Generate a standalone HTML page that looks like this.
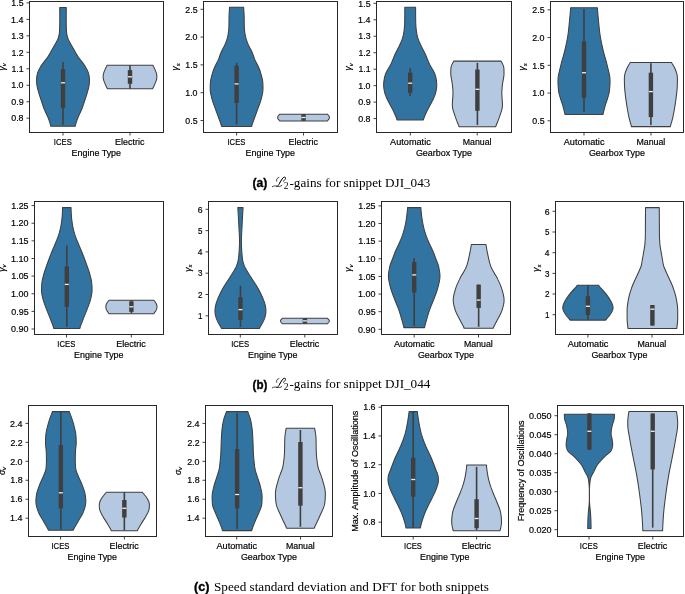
<!DOCTYPE html>
<html><head><meta charset="utf-8"><style>
html,body{margin:0;padding:0;background:#fff;width:685px;height:594px;overflow:hidden}
svg{display:block;will-change:transform}
text{stroke:#000;stroke-width:0.18px}
</style></head><body>
<svg width="685" height="594" viewBox="0 0 685 594" font-family="Liberation Sans, sans-serif" fill="#000"><path d="M66.29,7.50 L66.28,8.00 L66.28,8.50 L66.27,9.00 L66.26,9.51 L66.25,10.01 L66.25,10.51 L66.24,11.01 L66.23,11.51 L66.23,12.01 L66.22,12.51 L66.22,13.01 L66.22,13.52 L66.21,14.02 L66.21,14.52 L66.21,15.02 L66.21,15.52 L66.20,16.02 L66.20,16.52 L66.20,17.02 L66.20,17.53 L66.20,18.03 L66.20,18.53 L66.20,19.03 L66.20,19.53 L66.21,20.03 L66.21,20.53 L66.21,21.03 L66.22,21.54 L66.22,22.04 L66.23,22.54 L66.24,23.04 L66.25,23.54 L66.26,24.04 L66.27,24.54 L66.28,25.04 L66.29,25.55 L66.30,26.05 L66.31,26.55 L66.32,27.05 L66.34,27.55 L66.35,28.05 L66.36,28.55 L66.38,29.05 L66.40,29.56 L66.42,30.06 L66.44,30.56 L66.47,31.06 L66.50,31.56 L66.55,32.06 L66.59,32.56 L66.65,33.06 L66.72,33.57 L66.80,34.07 L66.89,34.57 L66.99,35.07 L67.10,35.57 L67.22,36.07 L67.35,36.57 L67.50,37.07 L67.65,37.58 L67.82,38.08 L68.00,38.58 L68.19,39.08 L68.40,39.58 L68.62,40.08 L68.86,40.58 L69.10,41.08 L69.36,41.59 L69.62,42.09 L69.89,42.59 L70.16,43.09 L70.44,43.59 L70.72,44.09 L71.00,44.59 L71.28,45.09 L71.57,45.60 L71.86,46.10 L72.15,46.60 L72.44,47.10 L72.73,47.60 L73.02,48.10 L73.31,48.60 L73.60,49.11 L73.89,49.61 L74.17,50.11 L74.45,50.61 L74.73,51.11 L75.01,51.61 L75.29,52.11 L75.57,52.61 L75.84,53.12 L76.12,53.62 L76.41,54.12 L76.70,54.62 L77.00,55.12 L77.31,55.62 L77.63,56.12 L77.96,56.62 L78.30,57.13 L78.66,57.63 L79.04,58.13 L79.42,58.63 L79.81,59.13 L80.21,59.63 L80.61,60.13 L81.01,60.63 L81.41,61.14 L81.80,61.64 L82.19,62.14 L82.57,62.64 L82.94,63.14 L83.30,63.64 L83.66,64.14 L84.01,64.64 L84.35,65.15 L84.68,65.65 L85.01,66.15 L85.33,66.65 L85.63,67.15 L85.93,67.65 L86.23,68.15 L86.51,68.65 L86.78,69.16 L87.04,69.66 L87.29,70.16 L87.52,70.66 L87.73,71.16 L87.93,71.66 L88.11,72.16 L88.27,72.66 L88.42,73.17 L88.56,73.67 L88.69,74.17 L88.81,74.67 L88.93,75.17 L89.03,75.67 L89.12,76.17 L89.21,76.67 L89.28,77.18 L89.33,77.68 L89.38,78.18 L89.41,78.68 L89.44,79.18 L89.44,79.68 L89.44,80.18 L89.43,80.68 L89.42,81.19 L89.39,81.69 L89.36,82.19 L89.33,82.69 L89.29,83.19 L89.24,83.69 L89.19,84.19 L89.13,84.69 L89.07,85.20 L89.00,85.70 L88.92,86.20 L88.83,86.70 L88.74,87.20 L88.63,87.70 L88.51,88.20 L88.39,88.71 L88.26,89.21 L88.12,89.71 L87.98,90.21 L87.84,90.71 L87.69,91.21 L87.55,91.71 L87.40,92.21 L87.25,92.72 L87.10,93.22 L86.95,93.72 L86.79,94.22 L86.63,94.72 L86.47,95.22 L86.31,95.72 L86.14,96.22 L85.98,96.73 L85.81,97.23 L85.64,97.73 L85.47,98.23 L85.30,98.73 L85.13,99.23 L84.96,99.73 L84.80,100.23 L84.63,100.74 L84.47,101.24 L84.30,101.74 L84.14,102.24 L83.98,102.74 L83.82,103.24 L83.65,103.74 L83.49,104.24 L83.33,104.75 L83.16,105.25 L82.99,105.75 L82.82,106.25 L82.65,106.75 L82.47,107.25 L82.29,107.75 L82.10,108.25 L81.91,108.76 L81.71,109.26 L81.50,109.76 L81.29,110.26 L81.07,110.76 L80.84,111.26 L80.62,111.76 L80.39,112.26 L80.15,112.77 L79.91,113.27 L79.68,113.77 L79.44,114.27 L79.21,114.77 L78.97,115.27 L78.74,115.77 L78.52,116.27 L78.30,116.78 L78.08,117.28 L77.88,117.78 L77.67,118.28 L77.48,118.78 L77.29,119.28 L77.10,119.78 L76.92,120.28 L76.75,120.79 L76.58,121.29 L76.41,121.79 L76.25,122.29 L76.09,122.79 L75.93,123.29 L75.79,123.79 L75.65,124.29 L75.52,124.80 L75.41,125.30 L75.31,125.80 L75.23,126.30 L50.77,126.30 L50.69,125.80 L50.59,125.30 L50.48,124.80 L50.35,124.29 L50.21,123.79 L50.07,123.29 L49.91,122.79 L49.75,122.29 L49.59,121.79 L49.42,121.29 L49.25,120.79 L49.08,120.28 L48.90,119.78 L48.71,119.28 L48.52,118.78 L48.33,118.28 L48.12,117.78 L47.92,117.28 L47.70,116.78 L47.48,116.27 L47.26,115.77 L47.03,115.27 L46.79,114.77 L46.56,114.27 L46.32,113.77 L46.09,113.27 L45.85,112.77 L45.61,112.26 L45.38,111.76 L45.16,111.26 L44.93,110.76 L44.71,110.26 L44.50,109.76 L44.29,109.26 L44.09,108.76 L43.90,108.25 L43.71,107.75 L43.53,107.25 L43.35,106.75 L43.18,106.25 L43.01,105.75 L42.84,105.25 L42.67,104.75 L42.51,104.24 L42.35,103.74 L42.18,103.24 L42.02,102.74 L41.86,102.24 L41.70,101.74 L41.53,101.24 L41.37,100.74 L41.20,100.23 L41.04,99.73 L40.87,99.23 L40.70,98.73 L40.53,98.23 L40.36,97.73 L40.19,97.23 L40.02,96.73 L39.86,96.22 L39.69,95.72 L39.53,95.22 L39.37,94.72 L39.21,94.22 L39.05,93.72 L38.90,93.22 L38.75,92.72 L38.60,92.21 L38.45,91.71 L38.31,91.21 L38.16,90.71 L38.02,90.21 L37.88,89.71 L37.74,89.21 L37.61,88.71 L37.49,88.20 L37.37,87.70 L37.26,87.20 L37.17,86.70 L37.08,86.20 L37.00,85.70 L36.93,85.20 L36.87,84.69 L36.81,84.19 L36.76,83.69 L36.71,83.19 L36.67,82.69 L36.64,82.19 L36.61,81.69 L36.58,81.19 L36.57,80.68 L36.56,80.18 L36.56,79.68 L36.56,79.18 L36.59,78.68 L36.62,78.18 L36.67,77.68 L36.72,77.18 L36.79,76.67 L36.88,76.17 L36.97,75.67 L37.07,75.17 L37.19,74.67 L37.31,74.17 L37.44,73.67 L37.58,73.17 L37.73,72.66 L37.89,72.16 L38.07,71.66 L38.27,71.16 L38.48,70.66 L38.71,70.16 L38.96,69.66 L39.22,69.16 L39.49,68.65 L39.77,68.15 L40.07,67.65 L40.37,67.15 L40.67,66.65 L40.99,66.15 L41.32,65.65 L41.65,65.15 L41.99,64.64 L42.34,64.14 L42.70,63.64 L43.06,63.14 L43.43,62.64 L43.81,62.14 L44.20,61.64 L44.59,61.14 L44.99,60.63 L45.39,60.13 L45.79,59.63 L46.19,59.13 L46.58,58.63 L46.96,58.13 L47.34,57.63 L47.70,57.13 L48.04,56.62 L48.37,56.12 L48.69,55.62 L49.00,55.12 L49.30,54.62 L49.59,54.12 L49.88,53.62 L50.16,53.12 L50.43,52.61 L50.71,52.11 L50.99,51.61 L51.27,51.11 L51.55,50.61 L51.83,50.11 L52.11,49.61 L52.40,49.11 L52.69,48.60 L52.98,48.10 L53.27,47.60 L53.56,47.10 L53.85,46.60 L54.14,46.10 L54.43,45.60 L54.72,45.09 L55.00,44.59 L55.28,44.09 L55.56,43.59 L55.84,43.09 L56.11,42.59 L56.38,42.09 L56.64,41.59 L56.90,41.08 L57.14,40.58 L57.38,40.08 L57.60,39.58 L57.81,39.08 L58.00,38.58 L58.18,38.08 L58.35,37.58 L58.50,37.07 L58.65,36.57 L58.78,36.07 L58.90,35.57 L59.01,35.07 L59.11,34.57 L59.20,34.07 L59.28,33.57 L59.35,33.06 L59.41,32.56 L59.45,32.06 L59.50,31.56 L59.53,31.06 L59.56,30.56 L59.58,30.06 L59.60,29.56 L59.62,29.05 L59.64,28.55 L59.65,28.05 L59.66,27.55 L59.68,27.05 L59.69,26.55 L59.70,26.05 L59.71,25.55 L59.72,25.04 L59.73,24.54 L59.74,24.04 L59.75,23.54 L59.76,23.04 L59.77,22.54 L59.78,22.04 L59.78,21.54 L59.79,21.03 L59.79,20.53 L59.79,20.03 L59.80,19.53 L59.80,19.03 L59.80,18.53 L59.80,18.03 L59.80,17.53 L59.80,17.02 L59.80,16.52 L59.80,16.02 L59.79,15.52 L59.79,15.02 L59.79,14.52 L59.79,14.02 L59.78,13.52 L59.78,13.01 L59.78,12.51 L59.77,12.01 L59.77,11.51 L59.76,11.01 L59.75,10.51 L59.75,10.01 L59.74,9.51 L59.73,9.00 L59.72,8.50 L59.72,8.00 L59.71,7.50Z" fill="#3274a1" stroke="#3f3f3f" stroke-width="1.05" stroke-linejoin="round"/>
<line x1="63.00" y1="62.10" x2="63.00" y2="125.00" stroke="#3f3f3f" stroke-width="1.6"/>
<rect x="60.80" y="69.20" width="4.4" height="38.60" fill="#3f3f3f"/>
<rect x="61.00" y="82.15" width="4.0" height="1.3" fill="#eeeeee"/>
<path d="M152.94,65.30 L153.13,65.81 L153.35,66.32 L153.60,66.83 L153.87,67.33 L154.13,67.84 L154.39,68.35 L154.65,68.86 L154.88,69.37 L155.11,69.88 L155.33,70.39 L155.53,70.90 L155.73,71.40 L155.92,71.91 L156.09,72.42 L156.25,72.93 L156.40,73.44 L156.53,73.95 L156.64,74.46 L156.73,74.97 L156.80,75.47 L156.84,75.98 L156.86,76.49 L156.86,77.00 L156.83,77.51 L156.78,78.02 L156.70,78.53 L156.60,79.03 L156.48,79.54 L156.34,80.05 L156.19,80.56 L156.02,81.07 L155.84,81.58 L155.65,82.09 L155.45,82.60 L155.25,83.10 L155.04,83.61 L154.81,84.12 L154.58,84.63 L154.34,85.14 L154.09,85.65 L153.84,86.16 L153.58,86.67 L153.33,87.17 L153.09,87.68 L152.88,88.19 L152.70,88.70 L107.30,88.70 L107.12,88.19 L106.91,87.68 L106.67,87.17 L106.42,86.67 L106.16,86.16 L105.91,85.65 L105.66,85.14 L105.42,84.63 L105.19,84.12 L104.96,83.61 L104.75,83.10 L104.55,82.60 L104.35,82.09 L104.16,81.58 L103.98,81.07 L103.81,80.56 L103.66,80.05 L103.52,79.54 L103.40,79.03 L103.30,78.53 L103.22,78.02 L103.17,77.51 L103.14,77.00 L103.14,76.49 L103.16,75.98 L103.20,75.47 L103.27,74.97 L103.36,74.46 L103.47,73.95 L103.60,73.44 L103.75,72.93 L103.91,72.42 L104.08,71.91 L104.27,71.40 L104.47,70.90 L104.67,70.39 L104.89,69.88 L105.12,69.37 L105.35,68.86 L105.61,68.35 L105.87,67.84 L106.13,67.33 L106.40,66.83 L106.65,66.32 L106.87,65.81 L107.06,65.30Z" fill="#b5c8e1" stroke="#3f3f3f" stroke-width="1.05" stroke-linejoin="round"/>
<line x1="130.00" y1="65.10" x2="130.00" y2="88.70" stroke="#3f3f3f" stroke-width="1.6"/>
<rect x="127.80" y="70.10" width="4.4" height="13.70" fill="#3f3f3f"/>
<rect x="128.00" y="76.15" width="4.0" height="1.3" fill="#eeeeee"/>
<rect x="29.5" y="1.5" width="134.0" height="131.0" fill="none" stroke="#1e1e1e" stroke-width="0.95"/>
<line x1="26.5" y1="2.9" x2="29.5" y2="2.9" stroke="#222" stroke-width="0.85"/>
<text x="11.39" y="6.10" textLength="12.18" lengthAdjust="spacingAndGlyphs" font-size="8.45">1.5</text>
<line x1="26.5" y1="19.37" x2="29.5" y2="19.37" stroke="#222" stroke-width="0.85"/>
<text x="11.13" y="22.57" textLength="12.33" lengthAdjust="spacingAndGlyphs" font-size="8.45">1.4</text>
<line x1="26.5" y1="35.84" x2="29.5" y2="35.84" stroke="#222" stroke-width="0.85"/>
<text x="11.32" y="39.04" textLength="12.26" lengthAdjust="spacingAndGlyphs" font-size="8.45">1.3</text>
<line x1="26.5" y1="52.31" x2="29.5" y2="52.31" stroke="#222" stroke-width="0.85"/>
<text x="11.49" y="55.51" textLength="12.15" lengthAdjust="spacingAndGlyphs" font-size="8.45">1.2</text>
<line x1="26.5" y1="68.78" x2="29.5" y2="68.78" stroke="#222" stroke-width="0.85"/>
<text x="11.43" y="71.98" textLength="12.20" lengthAdjust="spacingAndGlyphs" font-size="8.45">1.1</text>
<line x1="26.5" y1="85.25" x2="29.5" y2="85.25" stroke="#222" stroke-width="0.85"/>
<text x="11.21" y="88.45" textLength="12.34" lengthAdjust="spacingAndGlyphs" font-size="8.45">1.0</text>
<line x1="26.5" y1="101.72" x2="29.5" y2="101.72" stroke="#222" stroke-width="0.85"/>
<text x="11.22" y="104.92" textLength="12.40" lengthAdjust="spacingAndGlyphs" font-size="8.45">0.9</text>
<line x1="26.5" y1="118.19" x2="29.5" y2="118.19" stroke="#222" stroke-width="0.85"/>
<text x="11.20" y="121.39" textLength="12.38" lengthAdjust="spacingAndGlyphs" font-size="8.45">0.8</text>
<line x1="63" y1="132.5" x2="63" y2="135.5" stroke="#222" stroke-width="0.85"/>
<text x="53.87" y="144.70" textLength="17.91" lengthAdjust="spacingAndGlyphs" font-size="8.45">ICES</text>
<line x1="130" y1="132.5" x2="130" y2="135.5" stroke="#222" stroke-width="0.85"/>
<text x="115.08" y="144.70" textLength="29.33" lengthAdjust="spacingAndGlyphs" font-size="8.45">Electric</text>
<text x="71.59" y="155.60" textLength="49.49" lengthAdjust="spacingAndGlyphs" font-size="8.45">Engine Type</text>
<text transform="translate(4.50 66.80) rotate(-90)" font-size="8.6" font-style="italic" text-anchor="middle">γ<tspan font-size="6" dy="1.6">v</tspan></text>
<path d="M243.65,7.30 L243.67,7.80 L243.70,8.30 L243.73,8.81 L243.76,9.31 L243.80,9.81 L243.83,10.31 L243.87,10.81 L243.90,11.32 L243.93,11.82 L243.96,12.32 L243.99,12.82 L244.02,13.32 L244.04,13.82 L244.07,14.33 L244.09,14.83 L244.11,15.33 L244.12,15.83 L244.14,16.33 L244.15,16.84 L244.16,17.34 L244.17,17.84 L244.18,18.34 L244.19,18.84 L244.19,19.35 L244.20,19.85 L244.21,20.35 L244.21,20.85 L244.22,21.35 L244.22,21.85 L244.23,22.36 L244.23,22.86 L244.24,23.36 L244.24,23.86 L244.25,24.36 L244.26,24.87 L244.27,25.37 L244.28,25.87 L244.29,26.37 L244.30,26.87 L244.32,27.38 L244.34,27.88 L244.37,28.38 L244.41,28.88 L244.44,29.38 L244.49,29.89 L244.54,30.39 L244.59,30.89 L244.66,31.39 L244.72,31.89 L244.79,32.39 L244.87,32.90 L244.94,33.40 L245.03,33.90 L245.11,34.40 L245.20,34.90 L245.29,35.41 L245.39,35.91 L245.50,36.41 L245.61,36.91 L245.73,37.41 L245.86,37.92 L245.99,38.42 L246.14,38.92 L246.29,39.42 L246.45,39.92 L246.62,40.43 L246.79,40.93 L246.97,41.43 L247.15,41.93 L247.34,42.43 L247.54,42.93 L247.74,43.44 L247.95,43.94 L248.17,44.44 L248.40,44.94 L248.63,45.44 L248.88,45.95 L249.13,46.45 L249.39,46.95 L249.65,47.45 L249.92,47.95 L250.19,48.46 L250.46,48.96 L250.73,49.46 L250.99,49.96 L251.24,50.46 L251.49,50.96 L251.73,51.47 L251.96,51.97 L252.18,52.47 L252.38,52.97 L252.58,53.47 L252.77,53.98 L252.95,54.48 L253.13,54.98 L253.30,55.48 L253.47,55.98 L253.64,56.49 L253.81,56.99 L253.98,57.49 L254.16,57.99 L254.35,58.49 L254.55,59.00 L254.76,59.50 L254.99,60.00 L255.22,60.50 L255.47,61.00 L255.72,61.50 L255.98,62.01 L256.25,62.51 L256.51,63.01 L256.77,63.51 L257.02,64.01 L257.28,64.52 L257.52,65.02 L257.77,65.52 L258.00,66.02 L258.24,66.52 L258.47,67.03 L258.69,67.53 L258.91,68.03 L259.12,68.53 L259.33,69.03 L259.53,69.53 L259.72,70.04 L259.90,70.54 L260.07,71.04 L260.24,71.54 L260.40,72.04 L260.56,72.55 L260.71,73.05 L260.86,73.55 L261.01,74.05 L261.15,74.55 L261.29,75.06 L261.43,75.56 L261.57,76.06 L261.70,76.56 L261.83,77.06 L261.95,77.57 L262.07,78.07 L262.18,78.57 L262.29,79.07 L262.39,79.57 L262.48,80.07 L262.56,80.58 L262.63,81.08 L262.70,81.58 L262.75,82.08 L262.80,82.58 L262.84,83.09 L262.87,83.59 L262.89,84.09 L262.91,84.59 L262.93,85.09 L262.94,85.60 L262.96,86.10 L262.97,86.60 L262.97,87.10 L262.98,87.60 L262.98,88.11 L262.97,88.61 L262.97,89.11 L262.95,89.61 L262.93,90.11 L262.89,90.61 L262.85,91.12 L262.80,91.62 L262.73,92.12 L262.66,92.62 L262.57,93.12 L262.48,93.63 L262.38,94.13 L262.27,94.63 L262.16,95.13 L262.05,95.63 L261.93,96.14 L261.81,96.64 L261.68,97.14 L261.56,97.64 L261.43,98.14 L261.30,98.64 L261.17,99.15 L261.03,99.65 L260.89,100.15 L260.75,100.65 L260.59,101.15 L260.44,101.66 L260.28,102.16 L260.11,102.66 L259.94,103.16 L259.76,103.66 L259.58,104.17 L259.40,104.67 L259.21,105.17 L259.03,105.67 L258.84,106.17 L258.65,106.68 L258.46,107.18 L258.28,107.68 L258.09,108.18 L257.90,108.68 L257.72,109.18 L257.53,109.69 L257.35,110.19 L257.16,110.69 L256.98,111.19 L256.79,111.69 L256.61,112.20 L256.42,112.70 L256.23,113.20 L256.04,113.70 L255.85,114.20 L255.67,114.71 L255.48,115.21 L255.29,115.71 L255.10,116.21 L254.91,116.71 L254.73,117.21 L254.54,117.72 L254.35,118.22 L254.17,118.72 L253.99,119.22 L253.80,119.72 L253.62,120.23 L253.44,120.73 L253.26,121.23 L253.08,121.73 L252.90,122.23 L252.73,122.74 L252.55,123.24 L252.38,123.74 L252.21,124.24 L252.05,124.74 L251.91,125.25 L251.78,125.75 L251.67,126.25 L251.62,126.50 L221.58,126.50 L221.53,126.25 L221.42,125.75 L221.29,125.25 L221.15,124.74 L220.99,124.24 L220.82,123.74 L220.65,123.24 L220.47,122.74 L220.30,122.23 L220.12,121.73 L219.94,121.23 L219.76,120.73 L219.58,120.23 L219.40,119.72 L219.21,119.22 L219.03,118.72 L218.85,118.22 L218.66,117.72 L218.47,117.21 L218.29,116.71 L218.10,116.21 L217.91,115.71 L217.72,115.21 L217.53,114.71 L217.35,114.20 L217.16,113.70 L216.97,113.20 L216.78,112.70 L216.59,112.20 L216.41,111.69 L216.22,111.19 L216.04,110.69 L215.85,110.19 L215.67,109.69 L215.48,109.18 L215.30,108.68 L215.11,108.18 L214.92,107.68 L214.74,107.18 L214.55,106.68 L214.36,106.17 L214.17,105.67 L213.99,105.17 L213.80,104.67 L213.62,104.17 L213.44,103.66 L213.26,103.16 L213.09,102.66 L212.92,102.16 L212.76,101.66 L212.61,101.15 L212.45,100.65 L212.31,100.15 L212.17,99.65 L212.03,99.15 L211.90,98.64 L211.77,98.14 L211.64,97.64 L211.52,97.14 L211.39,96.64 L211.27,96.14 L211.15,95.63 L211.04,95.13 L210.93,94.63 L210.82,94.13 L210.72,93.63 L210.63,93.12 L210.54,92.62 L210.47,92.12 L210.40,91.62 L210.35,91.12 L210.31,90.61 L210.27,90.11 L210.25,89.61 L210.23,89.11 L210.23,88.61 L210.22,88.11 L210.22,87.60 L210.23,87.10 L210.23,86.60 L210.24,86.10 L210.26,85.60 L210.27,85.09 L210.29,84.59 L210.31,84.09 L210.33,83.59 L210.36,83.09 L210.40,82.58 L210.45,82.08 L210.50,81.58 L210.57,81.08 L210.64,80.58 L210.72,80.07 L210.81,79.57 L210.91,79.07 L211.02,78.57 L211.13,78.07 L211.25,77.57 L211.37,77.06 L211.50,76.56 L211.63,76.06 L211.77,75.56 L211.91,75.06 L212.05,74.55 L212.19,74.05 L212.34,73.55 L212.49,73.05 L212.64,72.55 L212.80,72.04 L212.96,71.54 L213.13,71.04 L213.30,70.54 L213.48,70.04 L213.67,69.53 L213.87,69.03 L214.08,68.53 L214.29,68.03 L214.51,67.53 L214.73,67.03 L214.96,66.52 L215.20,66.02 L215.43,65.52 L215.68,65.02 L215.92,64.52 L216.18,64.01 L216.43,63.51 L216.69,63.01 L216.95,62.51 L217.22,62.01 L217.48,61.50 L217.73,61.00 L217.98,60.50 L218.21,60.00 L218.44,59.50 L218.65,59.00 L218.85,58.49 L219.04,57.99 L219.22,57.49 L219.39,56.99 L219.56,56.49 L219.73,55.98 L219.90,55.48 L220.07,54.98 L220.25,54.48 L220.43,53.98 L220.62,53.47 L220.82,52.97 L221.02,52.47 L221.24,51.97 L221.47,51.47 L221.71,50.96 L221.96,50.46 L222.21,49.96 L222.47,49.46 L222.74,48.96 L223.01,48.46 L223.28,47.95 L223.55,47.45 L223.81,46.95 L224.07,46.45 L224.32,45.95 L224.57,45.44 L224.80,44.94 L225.03,44.44 L225.25,43.94 L225.46,43.44 L225.66,42.93 L225.86,42.43 L226.05,41.93 L226.23,41.43 L226.41,40.93 L226.58,40.43 L226.75,39.92 L226.91,39.42 L227.06,38.92 L227.21,38.42 L227.34,37.92 L227.47,37.41 L227.59,36.91 L227.70,36.41 L227.81,35.91 L227.91,35.41 L228.00,34.90 L228.09,34.40 L228.17,33.90 L228.26,33.40 L228.33,32.90 L228.41,32.39 L228.48,31.89 L228.54,31.39 L228.61,30.89 L228.66,30.39 L228.71,29.89 L228.76,29.38 L228.79,28.88 L228.83,28.38 L228.86,27.88 L228.88,27.38 L228.90,26.87 L228.91,26.37 L228.92,25.87 L228.93,25.37 L228.94,24.87 L228.95,24.36 L228.96,23.86 L228.96,23.36 L228.97,22.86 L228.97,22.36 L228.98,21.85 L228.98,21.35 L228.99,20.85 L228.99,20.35 L229.00,19.85 L229.01,19.35 L229.01,18.84 L229.02,18.34 L229.03,17.84 L229.04,17.34 L229.05,16.84 L229.06,16.33 L229.08,15.83 L229.09,15.33 L229.11,14.83 L229.13,14.33 L229.16,13.82 L229.18,13.32 L229.21,12.82 L229.24,12.32 L229.27,11.82 L229.30,11.32 L229.33,10.81 L229.37,10.31 L229.40,9.81 L229.44,9.31 L229.47,8.81 L229.50,8.30 L229.53,7.80 L229.55,7.30Z" fill="#3274a1" stroke="#3f3f3f" stroke-width="1.05" stroke-linejoin="round"/>
<line x1="236.60" y1="62.90" x2="236.60" y2="124.50" stroke="#3f3f3f" stroke-width="1.6"/>
<rect x="234.40" y="65.70" width="4.4" height="37.30" fill="#3f3f3f"/>
<rect x="234.60" y="83.25" width="4.0" height="1.3" fill="#eeeeee"/>
<path d="M327.48,114.20 L327.89,114.72 L328.32,115.25 L328.74,115.77 L329.09,116.29 L329.33,116.82 L329.45,117.34 L329.43,117.86 L329.27,118.38 L329.00,118.91 L328.63,119.43 L328.21,119.95 L327.79,120.48 L327.40,121.00 L279.70,121.00 L279.31,120.48 L278.89,119.95 L278.47,119.43 L278.10,118.91 L277.83,118.38 L277.67,117.86 L277.65,117.34 L277.77,116.82 L278.01,116.29 L278.36,115.77 L278.78,115.25 L279.21,114.72 L279.62,114.20Z" fill="#b5c8e1" stroke="#3f3f3f" stroke-width="1.05" stroke-linejoin="round"/>
<line x1="303.55" y1="114.20" x2="303.55" y2="120.80" stroke="#3f3f3f" stroke-width="1.6"/>
<rect x="301.35" y="114.20" width="4.4" height="6.60" fill="#3f3f3f"/>
<rect x="301.55" y="116.85" width="4.0" height="1.3" fill="#eeeeee"/>
<rect x="203.5" y="1.5" width="134.0" height="131.0" fill="none" stroke="#1e1e1e" stroke-width="0.95"/>
<line x1="200.5" y1="9.3" x2="203.5" y2="9.3" stroke="#222" stroke-width="0.85"/>
<text x="185.32" y="12.50" textLength="12.25" lengthAdjust="spacingAndGlyphs" font-size="8.45">2.5</text>
<line x1="200.5" y1="37.1" x2="203.5" y2="37.1" stroke="#222" stroke-width="0.85"/>
<text x="185.15" y="40.30" textLength="12.40" lengthAdjust="spacingAndGlyphs" font-size="8.45">2.0</text>
<line x1="200.5" y1="64.9" x2="203.5" y2="64.9" stroke="#222" stroke-width="0.85"/>
<text x="185.39" y="68.10" textLength="12.18" lengthAdjust="spacingAndGlyphs" font-size="8.45">1.5</text>
<line x1="200.5" y1="92.7" x2="203.5" y2="92.7" stroke="#222" stroke-width="0.85"/>
<text x="185.21" y="95.90" textLength="12.34" lengthAdjust="spacingAndGlyphs" font-size="8.45">1.0</text>
<line x1="200.5" y1="120.5" x2="203.5" y2="120.5" stroke="#222" stroke-width="0.85"/>
<text x="185.36" y="123.70" textLength="12.21" lengthAdjust="spacingAndGlyphs" font-size="8.45">0.5</text>
<line x1="236.6" y1="132.5" x2="236.6" y2="135.5" stroke="#222" stroke-width="0.85"/>
<text x="227.47" y="144.70" textLength="17.91" lengthAdjust="spacingAndGlyphs" font-size="8.45">ICES</text>
<line x1="303.5" y1="132.5" x2="303.5" y2="135.5" stroke="#222" stroke-width="0.85"/>
<text x="288.58" y="144.70" textLength="29.33" lengthAdjust="spacingAndGlyphs" font-size="8.45">Electric</text>
<text x="245.59" y="155.60" textLength="49.49" lengthAdjust="spacingAndGlyphs" font-size="8.45">Engine Type</text>
<text transform="translate(178.30 66.80) rotate(-90)" font-size="8.6" font-style="italic" text-anchor="middle">γ<tspan font-size="6" dy="1.6">s</tspan></text>
<path d="M415.60,7.30 L415.60,7.80 L415.60,8.30 L415.60,8.81 L415.60,9.31 L415.60,9.81 L415.61,10.31 L415.61,10.81 L415.61,11.32 L415.61,11.82 L415.61,12.32 L415.62,12.82 L415.62,13.32 L415.62,13.83 L415.62,14.33 L415.63,14.83 L415.63,15.33 L415.64,15.83 L415.64,16.34 L415.64,16.84 L415.65,17.34 L415.65,17.84 L415.66,18.34 L415.66,18.85 L415.67,19.35 L415.68,19.85 L415.68,20.35 L415.69,20.85 L415.70,21.36 L415.71,21.86 L415.72,22.36 L415.74,22.86 L415.75,23.36 L415.78,23.87 L415.80,24.37 L415.83,24.87 L415.86,25.37 L415.89,25.87 L415.92,26.38 L415.96,26.88 L416.00,27.38 L416.04,27.88 L416.09,28.38 L416.14,28.89 L416.19,29.39 L416.24,29.89 L416.30,30.39 L416.36,30.89 L416.43,31.40 L416.50,31.90 L416.58,32.40 L416.66,32.90 L416.75,33.40 L416.85,33.91 L416.95,34.41 L417.06,34.91 L417.17,35.41 L417.29,35.91 L417.42,36.42 L417.55,36.92 L417.69,37.42 L417.83,37.92 L417.98,38.42 L418.15,38.93 L418.32,39.43 L418.50,39.93 L418.69,40.43 L418.89,40.93 L419.09,41.44 L419.31,41.94 L419.53,42.44 L419.76,42.94 L419.99,43.44 L420.23,43.95 L420.47,44.45 L420.71,44.95 L420.95,45.45 L421.19,45.95 L421.43,46.46 L421.68,46.96 L421.93,47.46 L422.18,47.96 L422.44,48.46 L422.70,48.97 L422.96,49.47 L423.22,49.97 L423.49,50.47 L423.75,50.97 L424.01,51.48 L424.26,51.98 L424.51,52.48 L424.76,52.98 L425.00,53.48 L425.24,53.99 L425.47,54.49 L425.69,54.99 L425.90,55.49 L426.11,55.99 L426.32,56.50 L426.52,57.00 L426.72,57.50 L426.91,58.00 L427.11,58.50 L427.31,59.01 L427.52,59.51 L427.72,60.01 L427.93,60.51 L428.15,61.01 L428.36,61.52 L428.58,62.02 L428.81,62.52 L429.03,63.02 L429.27,63.52 L429.51,64.03 L429.76,64.53 L430.01,65.03 L430.28,65.53 L430.55,66.03 L430.83,66.54 L431.12,67.04 L431.42,67.54 L431.72,68.04 L432.02,68.54 L432.31,69.05 L432.61,69.55 L432.89,70.05 L433.17,70.55 L433.44,71.05 L433.70,71.56 L433.95,72.06 L434.19,72.56 L434.42,73.06 L434.65,73.56 L434.85,74.07 L435.05,74.57 L435.23,75.07 L435.39,75.57 L435.54,76.07 L435.67,76.58 L435.79,77.08 L435.90,77.58 L436.00,78.08 L436.09,78.58 L436.18,79.09 L436.26,79.59 L436.34,80.09 L436.41,80.59 L436.48,81.09 L436.54,81.60 L436.59,82.10 L436.64,82.60 L436.68,83.10 L436.71,83.60 L436.73,84.11 L436.74,84.61 L436.74,85.11 L436.74,85.61 L436.72,86.11 L436.69,86.62 L436.65,87.12 L436.60,87.62 L436.54,88.12 L436.47,88.62 L436.40,89.13 L436.31,89.63 L436.23,90.13 L436.13,90.63 L436.03,91.13 L435.92,91.64 L435.81,92.14 L435.69,92.64 L435.56,93.14 L435.42,93.64 L435.26,94.15 L435.10,94.65 L434.92,95.15 L434.73,95.65 L434.53,96.15 L434.31,96.66 L434.09,97.16 L433.86,97.66 L433.63,98.16 L433.39,98.66 L433.14,99.17 L432.90,99.67 L432.65,100.17 L432.40,100.67 L432.15,101.17 L431.90,101.68 L431.65,102.18 L431.39,102.68 L431.13,103.18 L430.86,103.68 L430.59,104.19 L430.32,104.69 L430.05,105.19 L429.77,105.69 L429.49,106.19 L429.22,106.70 L428.94,107.20 L428.67,107.70 L428.40,108.20 L428.14,108.70 L427.88,109.21 L427.62,109.71 L427.37,110.21 L427.12,110.71 L426.88,111.21 L426.64,111.72 L426.41,112.22 L426.18,112.72 L425.95,113.22 L425.72,113.72 L425.50,114.23 L425.28,114.73 L425.06,115.23 L424.84,115.73 L424.63,116.23 L424.42,116.74 L424.22,117.24 L424.02,117.74 L423.84,118.24 L423.67,118.74 L423.53,119.25 L423.40,119.75 L423.35,120.00 L397.05,120.00 L397.00,119.75 L396.87,119.25 L396.73,118.74 L396.56,118.24 L396.38,117.74 L396.18,117.24 L395.98,116.74 L395.77,116.23 L395.56,115.73 L395.34,115.23 L395.12,114.73 L394.90,114.23 L394.68,113.72 L394.45,113.22 L394.22,112.72 L393.99,112.22 L393.76,111.72 L393.52,111.21 L393.28,110.71 L393.03,110.21 L392.78,109.71 L392.52,109.21 L392.26,108.70 L392.00,108.20 L391.73,107.70 L391.46,107.20 L391.18,106.70 L390.91,106.19 L390.63,105.69 L390.35,105.19 L390.08,104.69 L389.81,104.19 L389.54,103.68 L389.27,103.18 L389.01,102.68 L388.75,102.18 L388.50,101.68 L388.25,101.17 L388.00,100.67 L387.75,100.17 L387.50,99.67 L387.26,99.17 L387.01,98.66 L386.77,98.16 L386.54,97.66 L386.31,97.16 L386.09,96.66 L385.87,96.15 L385.67,95.65 L385.48,95.15 L385.30,94.65 L385.14,94.15 L384.98,93.64 L384.84,93.14 L384.71,92.64 L384.59,92.14 L384.48,91.64 L384.37,91.13 L384.27,90.63 L384.17,90.13 L384.09,89.63 L384.00,89.13 L383.93,88.62 L383.86,88.12 L383.80,87.62 L383.75,87.12 L383.71,86.62 L383.68,86.11 L383.66,85.61 L383.66,85.11 L383.66,84.61 L383.67,84.11 L383.69,83.60 L383.72,83.10 L383.76,82.60 L383.81,82.10 L383.86,81.60 L383.92,81.09 L383.99,80.59 L384.06,80.09 L384.14,79.59 L384.22,79.09 L384.31,78.58 L384.40,78.08 L384.50,77.58 L384.61,77.08 L384.73,76.58 L384.86,76.07 L385.01,75.57 L385.17,75.07 L385.35,74.57 L385.55,74.07 L385.75,73.56 L385.98,73.06 L386.21,72.56 L386.45,72.06 L386.70,71.56 L386.96,71.05 L387.23,70.55 L387.51,70.05 L387.79,69.55 L388.09,69.05 L388.38,68.54 L388.68,68.04 L388.98,67.54 L389.28,67.04 L389.57,66.54 L389.85,66.03 L390.12,65.53 L390.39,65.03 L390.64,64.53 L390.89,64.03 L391.13,63.52 L391.37,63.02 L391.59,62.52 L391.82,62.02 L392.04,61.52 L392.25,61.01 L392.47,60.51 L392.68,60.01 L392.88,59.51 L393.09,59.01 L393.29,58.50 L393.49,58.00 L393.68,57.50 L393.88,57.00 L394.08,56.50 L394.29,55.99 L394.50,55.49 L394.71,54.99 L394.93,54.49 L395.16,53.99 L395.40,53.48 L395.64,52.98 L395.89,52.48 L396.14,51.98 L396.39,51.48 L396.65,50.97 L396.91,50.47 L397.18,49.97 L397.44,49.47 L397.70,48.97 L397.96,48.46 L398.22,47.96 L398.47,47.46 L398.72,46.96 L398.97,46.46 L399.21,45.95 L399.45,45.45 L399.69,44.95 L399.93,44.45 L400.17,43.95 L400.41,43.44 L400.64,42.94 L400.87,42.44 L401.09,41.94 L401.31,41.44 L401.51,40.93 L401.71,40.43 L401.90,39.93 L402.08,39.43 L402.25,38.93 L402.42,38.42 L402.57,37.92 L402.71,37.42 L402.85,36.92 L402.98,36.42 L403.11,35.91 L403.23,35.41 L403.34,34.91 L403.45,34.41 L403.55,33.91 L403.65,33.40 L403.74,32.90 L403.82,32.40 L403.90,31.90 L403.97,31.40 L404.04,30.89 L404.10,30.39 L404.16,29.89 L404.21,29.39 L404.26,28.89 L404.31,28.38 L404.36,27.88 L404.40,27.38 L404.44,26.88 L404.48,26.38 L404.51,25.87 L404.54,25.37 L404.57,24.87 L404.60,24.37 L404.62,23.87 L404.65,23.36 L404.66,22.86 L404.68,22.36 L404.69,21.86 L404.70,21.36 L404.71,20.85 L404.72,20.35 L404.72,19.85 L404.73,19.35 L404.74,18.85 L404.74,18.34 L404.75,17.84 L404.75,17.34 L404.76,16.84 L404.76,16.34 L404.76,15.83 L404.77,15.33 L404.77,14.83 L404.78,14.33 L404.78,13.83 L404.78,13.32 L404.78,12.82 L404.79,12.32 L404.79,11.82 L404.79,11.32 L404.79,10.81 L404.79,10.31 L404.80,9.81 L404.80,9.31 L404.80,8.81 L404.80,8.30 L404.80,7.80 L404.80,7.30Z" fill="#3274a1" stroke="#3f3f3f" stroke-width="1.05" stroke-linejoin="round"/>
<line x1="410.20" y1="68.20" x2="410.20" y2="95.90" stroke="#3f3f3f" stroke-width="1.6"/>
<rect x="408.00" y="72.60" width="4.4" height="20.20" fill="#3f3f3f"/>
<rect x="408.20" y="82.55" width="4.0" height="1.3" fill="#eeeeee"/>
<path d="M501.14,61.10 L501.33,61.60 L501.56,62.11 L501.81,62.61 L502.08,63.11 L502.35,63.61 L502.61,64.12 L502.86,64.62 L503.09,65.12 L503.28,65.62 L503.45,66.13 L503.59,66.63 L503.70,67.13 L503.79,67.63 L503.85,68.14 L503.90,68.64 L503.94,69.14 L503.96,69.65 L503.98,70.15 L504.00,70.65 L504.01,71.15 L504.02,71.66 L504.02,72.16 L504.03,72.66 L504.02,73.16 L504.01,73.67 L504.00,74.17 L503.97,74.67 L503.94,75.18 L503.89,75.68 L503.84,76.18 L503.77,76.68 L503.70,77.19 L503.62,77.69 L503.53,78.19 L503.44,78.69 L503.35,79.20 L503.25,79.70 L503.15,80.20 L503.06,80.70 L502.96,81.21 L502.87,81.71 L502.79,82.21 L502.71,82.72 L502.63,83.22 L502.56,83.72 L502.50,84.22 L502.43,84.73 L502.38,85.23 L502.32,85.73 L502.27,86.23 L502.21,86.74 L502.16,87.24 L502.11,87.74 L502.07,88.24 L502.02,88.75 L501.98,89.25 L501.95,89.75 L501.92,90.26 L501.89,90.76 L501.87,91.26 L501.85,91.76 L501.84,92.27 L501.83,92.77 L501.83,93.27 L501.84,93.77 L501.85,94.28 L501.87,94.78 L501.89,95.28 L501.91,95.79 L501.94,96.29 L501.97,96.79 L502.01,97.29 L502.04,97.80 L502.08,98.30 L502.12,98.80 L502.16,99.30 L502.20,99.81 L502.24,100.31 L502.27,100.81 L502.31,101.31 L502.34,101.82 L502.37,102.32 L502.40,102.82 L502.42,103.33 L502.44,103.83 L502.45,104.33 L502.45,104.83 L502.44,105.34 L502.42,105.84 L502.38,106.34 L502.34,106.84 L502.27,107.35 L502.20,107.85 L502.10,108.35 L502.00,108.85 L501.88,109.36 L501.75,109.86 L501.61,110.36 L501.46,110.87 L501.30,111.37 L501.14,111.87 L500.98,112.37 L500.81,112.88 L500.64,113.38 L500.48,113.88 L500.31,114.38 L500.14,114.89 L499.97,115.39 L499.80,115.89 L499.64,116.40 L499.47,116.90 L499.29,117.40 L499.12,117.90 L498.94,118.41 L498.76,118.91 L498.57,119.41 L498.38,119.91 L498.19,120.42 L497.99,120.92 L497.79,121.42 L497.59,121.92 L497.38,122.43 L497.17,122.93 L496.96,123.43 L496.75,123.94 L496.54,124.44 L496.34,124.94 L496.16,125.44 L495.99,125.95 L495.85,126.45 L495.79,126.70 L459.01,126.70 L458.95,126.45 L458.81,125.95 L458.64,125.44 L458.46,124.94 L458.26,124.44 L458.05,123.94 L457.84,123.43 L457.63,122.93 L457.42,122.43 L457.21,121.92 L457.01,121.42 L456.81,120.92 L456.61,120.42 L456.42,119.91 L456.23,119.41 L456.04,118.91 L455.86,118.41 L455.68,117.90 L455.51,117.40 L455.33,116.90 L455.16,116.40 L455.00,115.89 L454.83,115.39 L454.66,114.89 L454.49,114.38 L454.32,113.88 L454.16,113.38 L453.99,112.88 L453.82,112.37 L453.66,111.87 L453.50,111.37 L453.34,110.87 L453.19,110.36 L453.05,109.86 L452.92,109.36 L452.80,108.85 L452.70,108.35 L452.60,107.85 L452.53,107.35 L452.46,106.84 L452.42,106.34 L452.38,105.84 L452.36,105.34 L452.35,104.83 L452.35,104.33 L452.36,103.83 L452.38,103.33 L452.40,102.82 L452.43,102.32 L452.46,101.82 L452.49,101.31 L452.53,100.81 L452.56,100.31 L452.60,99.81 L452.64,99.30 L452.68,98.80 L452.72,98.30 L452.76,97.80 L452.79,97.29 L452.83,96.79 L452.86,96.29 L452.89,95.79 L452.91,95.28 L452.93,94.78 L452.95,94.28 L452.96,93.77 L452.97,93.27 L452.97,92.77 L452.96,92.27 L452.95,91.76 L452.93,91.26 L452.91,90.76 L452.88,90.26 L452.85,89.75 L452.82,89.25 L452.78,88.75 L452.73,88.24 L452.69,87.74 L452.64,87.24 L452.59,86.74 L452.53,86.23 L452.48,85.73 L452.42,85.23 L452.37,84.73 L452.30,84.22 L452.24,83.72 L452.17,83.22 L452.09,82.72 L452.01,82.21 L451.93,81.71 L451.84,81.21 L451.74,80.70 L451.65,80.20 L451.55,79.70 L451.45,79.20 L451.36,78.69 L451.27,78.19 L451.18,77.69 L451.10,77.19 L451.03,76.68 L450.96,76.18 L450.91,75.68 L450.86,75.18 L450.83,74.67 L450.80,74.17 L450.79,73.67 L450.78,73.16 L450.77,72.66 L450.78,72.16 L450.78,71.66 L450.79,71.15 L450.80,70.65 L450.82,70.15 L450.84,69.65 L450.86,69.14 L450.90,68.64 L450.95,68.14 L451.01,67.63 L451.10,67.13 L451.21,66.63 L451.35,66.13 L451.52,65.62 L451.71,65.12 L451.94,64.62 L452.19,64.12 L452.45,63.61 L452.72,63.11 L452.99,62.61 L453.24,62.11 L453.47,61.60 L453.66,61.10Z" fill="#b5c8e1" stroke="#3f3f3f" stroke-width="1.05" stroke-linejoin="round"/>
<line x1="477.40" y1="62.80" x2="477.40" y2="125.00" stroke="#3f3f3f" stroke-width="1.6"/>
<rect x="475.20" y="69.50" width="4.4" height="41.30" fill="#3f3f3f"/>
<rect x="475.40" y="88.65" width="4.0" height="1.3" fill="#eeeeee"/>
<rect x="376.5" y="1.5" width="135.0" height="131.0" fill="none" stroke="#1e1e1e" stroke-width="0.95"/>
<line x1="373.5" y1="3.3" x2="376.5" y2="3.3" stroke="#222" stroke-width="0.85"/>
<text x="358.39" y="6.50" textLength="12.18" lengthAdjust="spacingAndGlyphs" font-size="8.45">1.5</text>
<line x1="373.5" y1="19.77" x2="376.5" y2="19.77" stroke="#222" stroke-width="0.85"/>
<text x="358.13" y="22.97" textLength="12.33" lengthAdjust="spacingAndGlyphs" font-size="8.45">1.4</text>
<line x1="373.5" y1="36.24" x2="376.5" y2="36.24" stroke="#222" stroke-width="0.85"/>
<text x="358.32" y="39.44" textLength="12.26" lengthAdjust="spacingAndGlyphs" font-size="8.45">1.3</text>
<line x1="373.5" y1="52.71" x2="376.5" y2="52.71" stroke="#222" stroke-width="0.85"/>
<text x="358.49" y="55.91" textLength="12.15" lengthAdjust="spacingAndGlyphs" font-size="8.45">1.2</text>
<line x1="373.5" y1="69.18" x2="376.5" y2="69.18" stroke="#222" stroke-width="0.85"/>
<text x="358.43" y="72.38" textLength="12.20" lengthAdjust="spacingAndGlyphs" font-size="8.45">1.1</text>
<line x1="373.5" y1="85.65" x2="376.5" y2="85.65" stroke="#222" stroke-width="0.85"/>
<text x="358.21" y="88.85" textLength="12.34" lengthAdjust="spacingAndGlyphs" font-size="8.45">1.0</text>
<line x1="373.5" y1="102.12" x2="376.5" y2="102.12" stroke="#222" stroke-width="0.85"/>
<text x="358.22" y="105.32" textLength="12.40" lengthAdjust="spacingAndGlyphs" font-size="8.45">0.9</text>
<line x1="373.5" y1="118.59" x2="376.5" y2="118.59" stroke="#222" stroke-width="0.85"/>
<text x="358.20" y="121.79" textLength="12.38" lengthAdjust="spacingAndGlyphs" font-size="8.45">0.8</text>
<line x1="410.3" y1="132.5" x2="410.3" y2="135.5" stroke="#222" stroke-width="0.85"/>
<text x="390.05" y="144.70" textLength="40.73" lengthAdjust="spacingAndGlyphs" font-size="8.45">Automatic</text>
<line x1="477.2" y1="132.5" x2="477.2" y2="135.5" stroke="#222" stroke-width="0.85"/>
<text x="462.71" y="144.70" textLength="28.84" lengthAdjust="spacingAndGlyphs" font-size="8.45">Manual</text>
<text x="415.90" y="155.60" textLength="56.15" lengthAdjust="spacingAndGlyphs" font-size="8.45">Gearbox Type</text>
<text transform="translate(351.30 66.80) rotate(-90)" font-size="8.6" font-style="italic" text-anchor="middle">γ<tspan font-size="6" dy="1.6">v</tspan></text>
<path d="M597.36,7.70 L597.38,8.20 L597.41,8.70 L597.44,9.20 L597.48,9.71 L597.52,10.21 L597.56,10.71 L597.61,11.21 L597.65,11.71 L597.70,12.21 L597.74,12.71 L597.79,13.22 L597.83,13.72 L597.88,14.22 L597.93,14.72 L597.97,15.22 L598.02,15.72 L598.07,16.22 L598.12,16.73 L598.16,17.23 L598.21,17.73 L598.26,18.23 L598.31,18.73 L598.36,19.23 L598.40,19.73 L598.45,20.24 L598.50,20.74 L598.55,21.24 L598.60,21.74 L598.65,22.24 L598.69,22.74 L598.74,23.24 L598.79,23.75 L598.84,24.25 L598.89,24.75 L598.94,25.25 L598.98,25.75 L599.03,26.25 L599.08,26.75 L599.13,27.25 L599.19,27.76 L599.24,28.26 L599.29,28.76 L599.34,29.26 L599.40,29.76 L599.46,30.26 L599.51,30.76 L599.57,31.27 L599.63,31.77 L599.69,32.27 L599.76,32.77 L599.82,33.27 L599.89,33.77 L599.96,34.27 L600.03,34.78 L600.10,35.28 L600.18,35.78 L600.26,36.28 L600.34,36.78 L600.42,37.28 L600.51,37.78 L600.60,38.29 L600.69,38.79 L600.78,39.29 L600.87,39.79 L600.97,40.29 L601.07,40.79 L601.17,41.29 L601.27,41.80 L601.37,42.30 L601.48,42.80 L601.58,43.30 L601.69,43.80 L601.80,44.30 L601.91,44.80 L602.02,45.31 L602.13,45.81 L602.24,46.31 L602.36,46.81 L602.47,47.31 L602.58,47.81 L602.70,48.31 L602.81,48.82 L602.93,49.32 L603.05,49.82 L603.17,50.32 L603.29,50.82 L603.41,51.32 L603.54,51.82 L603.66,52.33 L603.79,52.83 L603.93,53.33 L604.06,53.83 L604.20,54.33 L604.34,54.83 L604.48,55.33 L604.62,55.84 L604.76,56.34 L604.91,56.84 L605.05,57.34 L605.20,57.84 L605.34,58.34 L605.48,58.84 L605.63,59.35 L605.77,59.85 L605.91,60.35 L606.04,60.85 L606.18,61.35 L606.31,61.85 L606.44,62.35 L606.57,62.85 L606.69,63.36 L606.82,63.86 L606.94,64.36 L607.06,64.86 L607.18,65.36 L607.30,65.86 L607.42,66.36 L607.55,66.87 L607.67,67.37 L607.79,67.87 L607.92,68.37 L608.04,68.87 L608.17,69.37 L608.30,69.87 L608.42,70.38 L608.54,70.88 L608.66,71.38 L608.78,71.88 L608.90,72.38 L609.01,72.88 L609.12,73.38 L609.22,73.89 L609.32,74.39 L609.42,74.89 L609.51,75.39 L609.59,75.89 L609.67,76.39 L609.74,76.89 L609.80,77.40 L609.85,77.90 L609.90,78.40 L609.94,78.90 L609.97,79.40 L609.99,79.90 L610.01,80.40 L610.02,80.91 L610.02,81.41 L610.02,81.91 L610.01,82.41 L609.99,82.91 L609.98,83.41 L609.96,83.91 L609.93,84.42 L609.91,84.92 L609.88,85.42 L609.85,85.92 L609.81,86.42 L609.78,86.92 L609.74,87.42 L609.70,87.93 L609.66,88.43 L609.61,88.93 L609.57,89.43 L609.51,89.93 L609.46,90.43 L609.40,90.93 L609.33,91.44 L609.26,91.94 L609.17,92.44 L609.08,92.94 L608.98,93.44 L608.86,93.94 L608.74,94.44 L608.61,94.95 L608.48,95.45 L608.33,95.95 L608.18,96.45 L608.03,96.95 L607.87,97.45 L607.71,97.95 L607.54,98.45 L607.37,98.96 L607.20,99.46 L607.03,99.96 L606.86,100.46 L606.69,100.96 L606.52,101.46 L606.35,101.96 L606.19,102.47 L606.03,102.97 L605.87,103.47 L605.72,103.97 L605.57,104.47 L605.43,104.97 L605.28,105.47 L605.14,105.98 L605.00,106.48 L604.87,106.98 L604.73,107.48 L604.60,107.98 L604.47,108.48 L604.33,108.98 L604.20,109.49 L604.07,109.99 L603.94,110.49 L603.81,110.99 L603.68,111.49 L603.56,111.99 L603.44,112.49 L603.32,113.00 L603.22,113.50 L603.14,114.00 L603.06,114.50 L564.94,114.50 L564.86,114.00 L564.78,113.50 L564.68,113.00 L564.56,112.49 L564.44,111.99 L564.32,111.49 L564.19,110.99 L564.06,110.49 L563.93,109.99 L563.80,109.49 L563.67,108.98 L563.53,108.48 L563.40,107.98 L563.27,107.48 L563.13,106.98 L563.00,106.48 L562.86,105.98 L562.72,105.47 L562.57,104.97 L562.43,104.47 L562.28,103.97 L562.13,103.47 L561.97,102.97 L561.81,102.47 L561.65,101.96 L561.48,101.46 L561.31,100.96 L561.14,100.46 L560.97,99.96 L560.80,99.46 L560.63,98.96 L560.46,98.45 L560.29,97.95 L560.13,97.45 L559.97,96.95 L559.82,96.45 L559.67,95.95 L559.52,95.45 L559.39,94.95 L559.26,94.44 L559.14,93.94 L559.02,93.44 L558.92,92.94 L558.83,92.44 L558.74,91.94 L558.67,91.44 L558.60,90.93 L558.54,90.43 L558.49,89.93 L558.43,89.43 L558.39,88.93 L558.34,88.43 L558.30,87.93 L558.26,87.42 L558.22,86.92 L558.19,86.42 L558.15,85.92 L558.12,85.42 L558.09,84.92 L558.07,84.42 L558.04,83.91 L558.02,83.41 L558.01,82.91 L557.99,82.41 L557.98,81.91 L557.98,81.41 L557.98,80.91 L557.99,80.40 L558.01,79.90 L558.03,79.40 L558.06,78.90 L558.10,78.40 L558.15,77.90 L558.20,77.40 L558.26,76.89 L558.33,76.39 L558.41,75.89 L558.49,75.39 L558.58,74.89 L558.68,74.39 L558.78,73.89 L558.88,73.38 L558.99,72.88 L559.10,72.38 L559.22,71.88 L559.34,71.38 L559.46,70.88 L559.58,70.38 L559.70,69.87 L559.83,69.37 L559.96,68.87 L560.08,68.37 L560.21,67.87 L560.33,67.37 L560.45,66.87 L560.58,66.36 L560.70,65.86 L560.82,65.36 L560.94,64.86 L561.06,64.36 L561.18,63.86 L561.31,63.36 L561.43,62.85 L561.56,62.35 L561.69,61.85 L561.82,61.35 L561.96,60.85 L562.09,60.35 L562.23,59.85 L562.37,59.35 L562.52,58.84 L562.66,58.34 L562.80,57.84 L562.95,57.34 L563.09,56.84 L563.24,56.34 L563.38,55.84 L563.52,55.33 L563.66,54.83 L563.80,54.33 L563.94,53.83 L564.07,53.33 L564.21,52.83 L564.34,52.33 L564.46,51.82 L564.59,51.32 L564.71,50.82 L564.83,50.32 L564.95,49.82 L565.07,49.32 L565.19,48.82 L565.30,48.31 L565.42,47.81 L565.53,47.31 L565.64,46.81 L565.76,46.31 L565.87,45.81 L565.98,45.31 L566.09,44.80 L566.20,44.30 L566.31,43.80 L566.42,43.30 L566.52,42.80 L566.63,42.30 L566.73,41.80 L566.83,41.29 L566.93,40.79 L567.03,40.29 L567.13,39.79 L567.22,39.29 L567.31,38.79 L567.40,38.29 L567.49,37.78 L567.58,37.28 L567.66,36.78 L567.74,36.28 L567.82,35.78 L567.90,35.28 L567.97,34.78 L568.04,34.27 L568.11,33.77 L568.18,33.27 L568.24,32.77 L568.31,32.27 L568.37,31.77 L568.43,31.27 L568.49,30.76 L568.54,30.26 L568.60,29.76 L568.66,29.26 L568.71,28.76 L568.76,28.26 L568.81,27.76 L568.87,27.25 L568.92,26.75 L568.97,26.25 L569.02,25.75 L569.06,25.25 L569.11,24.75 L569.16,24.25 L569.21,23.75 L569.26,23.24 L569.31,22.74 L569.35,22.24 L569.40,21.74 L569.45,21.24 L569.50,20.74 L569.55,20.24 L569.60,19.73 L569.64,19.23 L569.69,18.73 L569.74,18.23 L569.79,17.73 L569.84,17.23 L569.88,16.73 L569.93,16.22 L569.98,15.72 L570.03,15.22 L570.07,14.72 L570.12,14.22 L570.17,13.72 L570.21,13.22 L570.26,12.71 L570.30,12.21 L570.35,11.71 L570.39,11.21 L570.44,10.71 L570.48,10.21 L570.52,9.71 L570.56,9.20 L570.59,8.70 L570.62,8.20 L570.64,7.70Z" fill="#3274a1" stroke="#3f3f3f" stroke-width="1.05" stroke-linejoin="round"/>
<line x1="584.00" y1="9.10" x2="584.00" y2="112.00" stroke="#3f3f3f" stroke-width="1.6"/>
<rect x="581.80" y="41.40" width="4.4" height="56.50" fill="#3f3f3f"/>
<rect x="582.00" y="72.05" width="4.0" height="1.3" fill="#eeeeee"/>
<path d="M671.68,62.40 L671.89,62.90 L672.14,63.41 L672.42,63.91 L672.72,64.41 L673.03,64.92 L673.34,65.42 L673.64,65.92 L673.92,66.43 L674.19,66.93 L674.44,67.44 L674.68,67.94 L674.91,68.44 L675.13,68.95 L675.34,69.45 L675.54,69.95 L675.73,70.46 L675.92,70.96 L676.10,71.46 L676.27,71.97 L676.44,72.47 L676.59,72.97 L676.73,73.48 L676.86,73.98 L676.98,74.48 L677.09,74.99 L677.17,75.49 L677.25,76.00 L677.31,76.50 L677.35,77.00 L677.39,77.51 L677.41,78.01 L677.42,78.51 L677.43,79.02 L677.43,79.52 L677.42,80.02 L677.42,80.53 L677.41,81.03 L677.40,81.53 L677.39,82.04 L677.38,82.54 L677.36,83.04 L677.35,83.55 L677.33,84.05 L677.32,84.56 L677.30,85.06 L677.28,85.56 L677.26,86.07 L677.24,86.57 L677.21,87.07 L677.19,87.58 L677.15,88.08 L677.12,88.58 L677.08,89.09 L677.04,89.59 L677.00,90.09 L676.95,90.60 L676.90,91.10 L676.85,91.60 L676.79,92.11 L676.74,92.61 L676.68,93.12 L676.62,93.62 L676.56,94.12 L676.50,94.63 L676.44,95.13 L676.38,95.63 L676.32,96.14 L676.26,96.64 L676.19,97.14 L676.13,97.65 L676.07,98.15 L676.00,98.65 L675.94,99.16 L675.87,99.66 L675.80,100.16 L675.73,100.67 L675.66,101.17 L675.59,101.68 L675.51,102.18 L675.44,102.68 L675.36,103.19 L675.29,103.69 L675.21,104.19 L675.13,104.70 L675.05,105.20 L674.97,105.70 L674.89,106.21 L674.81,106.71 L674.73,107.21 L674.64,107.72 L674.56,108.22 L674.47,108.72 L674.39,109.23 L674.30,109.73 L674.21,110.24 L674.13,110.74 L674.04,111.24 L673.94,111.75 L673.85,112.25 L673.76,112.75 L673.66,113.26 L673.57,113.76 L673.47,114.26 L673.36,114.77 L673.26,115.27 L673.16,115.77 L673.05,116.28 L672.94,116.78 L672.82,117.28 L672.71,117.79 L672.59,118.29 L672.46,118.80 L672.34,119.30 L672.21,119.80 L672.07,120.31 L671.94,120.81 L671.80,121.31 L671.65,121.82 L671.51,122.32 L671.36,122.82 L671.21,123.33 L671.05,123.83 L670.91,124.33 L670.76,124.84 L670.63,125.34 L670.51,125.84 L670.41,126.35 L670.36,126.60 L631.44,126.60 L631.39,126.35 L631.29,125.84 L631.17,125.34 L631.04,124.84 L630.89,124.33 L630.75,123.83 L630.59,123.33 L630.44,122.82 L630.29,122.32 L630.15,121.82 L630.00,121.31 L629.86,120.81 L629.73,120.31 L629.59,119.80 L629.46,119.30 L629.34,118.80 L629.21,118.29 L629.09,117.79 L628.98,117.28 L628.86,116.78 L628.75,116.28 L628.64,115.77 L628.54,115.27 L628.44,114.77 L628.33,114.26 L628.23,113.76 L628.14,113.26 L628.04,112.75 L627.95,112.25 L627.86,111.75 L627.76,111.24 L627.67,110.74 L627.59,110.24 L627.50,109.73 L627.41,109.23 L627.33,108.72 L627.24,108.22 L627.16,107.72 L627.07,107.21 L626.99,106.71 L626.91,106.21 L626.83,105.70 L626.75,105.20 L626.67,104.70 L626.59,104.19 L626.51,103.69 L626.44,103.19 L626.36,102.68 L626.29,102.18 L626.21,101.68 L626.14,101.17 L626.07,100.67 L626.00,100.16 L625.93,99.66 L625.86,99.16 L625.80,98.65 L625.73,98.15 L625.67,97.65 L625.61,97.14 L625.54,96.64 L625.48,96.14 L625.42,95.63 L625.36,95.13 L625.30,94.63 L625.24,94.12 L625.18,93.62 L625.12,93.12 L625.06,92.61 L625.01,92.11 L624.95,91.60 L624.90,91.10 L624.85,90.60 L624.80,90.09 L624.76,89.59 L624.72,89.09 L624.68,88.58 L624.65,88.08 L624.61,87.58 L624.59,87.07 L624.56,86.57 L624.54,86.07 L624.52,85.56 L624.50,85.06 L624.48,84.56 L624.47,84.05 L624.45,83.55 L624.44,83.04 L624.42,82.54 L624.41,82.04 L624.40,81.53 L624.39,81.03 L624.38,80.53 L624.38,80.02 L624.37,79.52 L624.37,79.02 L624.38,78.51 L624.39,78.01 L624.41,77.51 L624.45,77.00 L624.49,76.50 L624.55,76.00 L624.63,75.49 L624.71,74.99 L624.82,74.48 L624.94,73.98 L625.07,73.48 L625.21,72.97 L625.36,72.47 L625.53,71.97 L625.70,71.46 L625.88,70.96 L626.07,70.46 L626.26,69.95 L626.46,69.45 L626.67,68.95 L626.89,68.44 L627.12,67.94 L627.36,67.44 L627.61,66.93 L627.88,66.43 L628.16,65.92 L628.46,65.42 L628.77,64.92 L629.08,64.41 L629.38,63.91 L629.66,63.41 L629.91,62.90 L630.12,62.40Z" fill="#b5c8e1" stroke="#3f3f3f" stroke-width="1.05" stroke-linejoin="round"/>
<line x1="650.90" y1="63.20" x2="650.90" y2="125.00" stroke="#3f3f3f" stroke-width="1.6"/>
<rect x="648.70" y="72.70" width="4.4" height="44.40" fill="#3f3f3f"/>
<rect x="648.90" y="90.95" width="4.0" height="1.3" fill="#eeeeee"/>
<rect x="550.5" y="1.5" width="133.0" height="131.0" fill="none" stroke="#1e1e1e" stroke-width="0.95"/>
<line x1="547.5" y1="9.8" x2="550.5" y2="9.8" stroke="#222" stroke-width="0.85"/>
<text x="532.32" y="13.00" textLength="12.25" lengthAdjust="spacingAndGlyphs" font-size="8.45">2.5</text>
<line x1="547.5" y1="37.55" x2="550.5" y2="37.55" stroke="#222" stroke-width="0.85"/>
<text x="532.15" y="40.75" textLength="12.40" lengthAdjust="spacingAndGlyphs" font-size="8.45">2.0</text>
<line x1="547.5" y1="65.3" x2="550.5" y2="65.3" stroke="#222" stroke-width="0.85"/>
<text x="532.39" y="68.50" textLength="12.18" lengthAdjust="spacingAndGlyphs" font-size="8.45">1.5</text>
<line x1="547.5" y1="93.05" x2="550.5" y2="93.05" stroke="#222" stroke-width="0.85"/>
<text x="532.21" y="96.25" textLength="12.34" lengthAdjust="spacingAndGlyphs" font-size="8.45">1.0</text>
<line x1="547.5" y1="120.8" x2="550.5" y2="120.8" stroke="#222" stroke-width="0.85"/>
<text x="532.36" y="124.00" textLength="12.21" lengthAdjust="spacingAndGlyphs" font-size="8.45">0.5</text>
<line x1="584" y1="132.5" x2="584" y2="135.5" stroke="#222" stroke-width="0.85"/>
<text x="563.75" y="144.70" textLength="40.73" lengthAdjust="spacingAndGlyphs" font-size="8.45">Automatic</text>
<line x1="651" y1="132.5" x2="651" y2="135.5" stroke="#222" stroke-width="0.85"/>
<text x="636.51" y="144.70" textLength="28.84" lengthAdjust="spacingAndGlyphs" font-size="8.45">Manual</text>
<text x="588.90" y="155.60" textLength="56.15" lengthAdjust="spacingAndGlyphs" font-size="8.45">Gearbox Type</text>
<text transform="translate(525.00 66.80) rotate(-90)" font-size="8.6" font-style="italic" text-anchor="middle">γ<tspan font-size="6" dy="1.6">s</tspan></text>
<path d="M71.06,207.60 L71.06,208.10 L71.07,208.60 L71.08,209.10 L71.09,209.60 L71.10,210.11 L71.12,210.61 L71.14,211.11 L71.16,211.61 L71.18,212.11 L71.20,212.61 L71.23,213.11 L71.26,213.61 L71.29,214.12 L71.31,214.62 L71.35,215.12 L71.38,215.62 L71.41,216.12 L71.45,216.62 L71.49,217.12 L71.54,217.62 L71.58,218.13 L71.63,218.63 L71.69,219.13 L71.75,219.63 L71.81,220.13 L71.87,220.63 L71.94,221.13 L72.01,221.63 L72.08,222.14 L72.15,222.64 L72.23,223.14 L72.31,223.64 L72.39,224.14 L72.47,224.64 L72.56,225.14 L72.64,225.64 L72.74,226.15 L72.83,226.65 L72.93,227.15 L73.03,227.65 L73.14,228.15 L73.25,228.65 L73.36,229.15 L73.48,229.65 L73.60,230.16 L73.72,230.66 L73.85,231.16 L73.98,231.66 L74.12,232.16 L74.26,232.66 L74.40,233.16 L74.55,233.66 L74.70,234.17 L74.86,234.67 L75.02,235.17 L75.19,235.67 L75.36,236.17 L75.54,236.67 L75.73,237.17 L75.92,237.67 L76.11,238.18 L76.30,238.68 L76.50,239.18 L76.70,239.68 L76.90,240.18 L77.11,240.68 L77.31,241.18 L77.51,241.68 L77.72,242.19 L77.92,242.69 L78.13,243.19 L78.34,243.69 L78.55,244.19 L78.76,244.69 L78.97,245.19 L79.19,245.69 L79.40,246.20 L79.62,246.70 L79.84,247.20 L80.05,247.70 L80.27,248.20 L80.49,248.70 L80.70,249.20 L80.91,249.70 L81.12,250.21 L81.33,250.71 L81.53,251.21 L81.74,251.71 L81.94,252.21 L82.14,252.71 L82.34,253.21 L82.54,253.71 L82.73,254.22 L82.93,254.72 L83.12,255.22 L83.32,255.72 L83.51,256.22 L83.70,256.72 L83.89,257.22 L84.08,257.72 L84.27,258.23 L84.46,258.73 L84.65,259.23 L84.83,259.73 L85.02,260.23 L85.20,260.73 L85.38,261.23 L85.56,261.73 L85.74,262.24 L85.92,262.74 L86.10,263.24 L86.28,263.74 L86.46,264.24 L86.63,264.74 L86.81,265.24 L86.99,265.74 L87.17,266.25 L87.34,266.75 L87.52,267.25 L87.70,267.75 L87.87,268.25 L88.05,268.75 L88.23,269.25 L88.40,269.75 L88.57,270.26 L88.74,270.76 L88.90,271.26 L89.06,271.76 L89.22,272.26 L89.37,272.76 L89.52,273.26 L89.67,273.76 L89.81,274.27 L89.96,274.77 L90.09,275.27 L90.23,275.77 L90.37,276.27 L90.50,276.77 L90.63,277.27 L90.76,277.77 L90.89,278.28 L91.01,278.78 L91.12,279.28 L91.23,279.78 L91.33,280.28 L91.42,280.78 L91.50,281.28 L91.57,281.78 L91.64,282.29 L91.69,282.79 L91.74,283.29 L91.79,283.79 L91.83,284.29 L91.86,284.79 L91.90,285.29 L91.93,285.79 L91.95,286.30 L91.98,286.80 L92.00,287.30 L92.02,287.80 L92.04,288.30 L92.05,288.80 L92.06,289.30 L92.06,289.80 L92.06,290.31 L92.05,290.81 L92.03,291.31 L92.00,291.81 L91.96,292.31 L91.91,292.81 L91.85,293.31 L91.77,293.81 L91.69,294.32 L91.60,294.82 L91.50,295.32 L91.39,295.82 L91.28,296.32 L91.16,296.82 L91.05,297.32 L90.93,297.82 L90.80,298.33 L90.68,298.83 L90.55,299.33 L90.41,299.83 L90.27,300.33 L90.13,300.83 L89.98,301.33 L89.82,301.83 L89.66,302.34 L89.49,302.84 L89.32,303.34 L89.14,303.84 L88.97,304.34 L88.79,304.84 L88.60,305.34 L88.42,305.84 L88.24,306.35 L88.05,306.85 L87.86,307.35 L87.67,307.85 L87.49,308.35 L87.29,308.85 L87.10,309.35 L86.91,309.85 L86.71,310.36 L86.51,310.86 L86.31,311.36 L86.10,311.86 L85.90,312.36 L85.69,312.86 L85.49,313.36 L85.28,313.86 L85.08,314.37 L84.87,314.87 L84.67,315.37 L84.47,315.87 L84.27,316.37 L84.07,316.87 L83.87,317.37 L83.67,317.87 L83.48,318.38 L83.28,318.88 L83.09,319.38 L82.89,319.88 L82.70,320.38 L82.50,320.88 L82.31,321.38 L82.12,321.88 L81.93,322.39 L81.73,322.89 L81.54,323.39 L81.35,323.89 L81.16,324.39 L80.97,324.89 L80.79,325.39 L80.61,325.89 L80.43,326.40 L80.27,326.90 L80.12,327.40 L79.99,327.90 L79.89,328.40 L53.71,328.40 L53.61,327.90 L53.48,327.40 L53.33,326.90 L53.17,326.40 L52.99,325.89 L52.81,325.39 L52.63,324.89 L52.44,324.39 L52.25,323.89 L52.06,323.39 L51.87,322.89 L51.67,322.39 L51.48,321.88 L51.29,321.38 L51.10,320.88 L50.90,320.38 L50.71,319.88 L50.51,319.38 L50.32,318.88 L50.12,318.38 L49.93,317.87 L49.73,317.37 L49.53,316.87 L49.33,316.37 L49.13,315.87 L48.93,315.37 L48.73,314.87 L48.52,314.37 L48.32,313.86 L48.11,313.36 L47.91,312.86 L47.70,312.36 L47.50,311.86 L47.29,311.36 L47.09,310.86 L46.89,310.36 L46.69,309.85 L46.50,309.35 L46.31,308.85 L46.11,308.35 L45.93,307.85 L45.74,307.35 L45.55,306.85 L45.36,306.35 L45.18,305.84 L45.00,305.34 L44.81,304.84 L44.63,304.34 L44.46,303.84 L44.28,303.34 L44.11,302.84 L43.94,302.34 L43.78,301.83 L43.62,301.33 L43.47,300.83 L43.33,300.33 L43.19,299.83 L43.05,299.33 L42.92,298.83 L42.80,298.33 L42.67,297.82 L42.55,297.32 L42.44,296.82 L42.32,296.32 L42.21,295.82 L42.10,295.32 L42.00,294.82 L41.91,294.32 L41.83,293.81 L41.75,293.31 L41.69,292.81 L41.64,292.31 L41.60,291.81 L41.57,291.31 L41.55,290.81 L41.54,290.31 L41.54,289.80 L41.54,289.30 L41.55,288.80 L41.56,288.30 L41.58,287.80 L41.60,287.30 L41.62,286.80 L41.65,286.30 L41.67,285.79 L41.70,285.29 L41.74,284.79 L41.77,284.29 L41.81,283.79 L41.86,283.29 L41.91,282.79 L41.96,282.29 L42.03,281.78 L42.10,281.28 L42.18,280.78 L42.27,280.28 L42.37,279.78 L42.48,279.28 L42.59,278.78 L42.71,278.28 L42.84,277.77 L42.97,277.27 L43.10,276.77 L43.23,276.27 L43.37,275.77 L43.51,275.27 L43.64,274.77 L43.79,274.27 L43.93,273.76 L44.08,273.26 L44.23,272.76 L44.38,272.26 L44.54,271.76 L44.70,271.26 L44.86,270.76 L45.03,270.26 L45.20,269.75 L45.37,269.25 L45.55,268.75 L45.73,268.25 L45.90,267.75 L46.08,267.25 L46.26,266.75 L46.43,266.25 L46.61,265.74 L46.79,265.24 L46.97,264.74 L47.14,264.24 L47.32,263.74 L47.50,263.24 L47.68,262.74 L47.86,262.24 L48.04,261.73 L48.22,261.23 L48.40,260.73 L48.58,260.23 L48.77,259.73 L48.95,259.23 L49.14,258.73 L49.33,258.23 L49.52,257.72 L49.71,257.22 L49.90,256.72 L50.09,256.22 L50.28,255.72 L50.48,255.22 L50.67,254.72 L50.87,254.22 L51.06,253.71 L51.26,253.21 L51.46,252.71 L51.66,252.21 L51.86,251.71 L52.07,251.21 L52.27,250.71 L52.48,250.21 L52.69,249.70 L52.90,249.20 L53.11,248.70 L53.33,248.20 L53.55,247.70 L53.76,247.20 L53.98,246.70 L54.20,246.20 L54.41,245.69 L54.63,245.19 L54.84,244.69 L55.05,244.19 L55.26,243.69 L55.47,243.19 L55.68,242.69 L55.88,242.19 L56.09,241.68 L56.29,241.18 L56.49,240.68 L56.70,240.18 L56.90,239.68 L57.10,239.18 L57.30,238.68 L57.49,238.18 L57.68,237.67 L57.87,237.17 L58.06,236.67 L58.24,236.17 L58.41,235.67 L58.58,235.17 L58.74,234.67 L58.90,234.17 L59.05,233.66 L59.20,233.16 L59.34,232.66 L59.48,232.16 L59.62,231.66 L59.75,231.16 L59.88,230.66 L60.00,230.16 L60.12,229.65 L60.24,229.15 L60.35,228.65 L60.46,228.15 L60.57,227.65 L60.67,227.15 L60.77,226.65 L60.86,226.15 L60.96,225.64 L61.04,225.14 L61.13,224.64 L61.21,224.14 L61.29,223.64 L61.37,223.14 L61.45,222.64 L61.52,222.14 L61.59,221.63 L61.66,221.13 L61.73,220.63 L61.79,220.13 L61.85,219.63 L61.91,219.13 L61.97,218.63 L62.02,218.13 L62.06,217.62 L62.11,217.12 L62.15,216.62 L62.19,216.12 L62.22,215.62 L62.25,215.12 L62.29,214.62 L62.31,214.12 L62.34,213.61 L62.37,213.11 L62.40,212.61 L62.42,212.11 L62.44,211.61 L62.46,211.11 L62.48,210.61 L62.50,210.11 L62.51,209.60 L62.52,209.10 L62.53,208.60 L62.54,208.10 L62.54,207.60Z" fill="#3274a1" stroke="#3f3f3f" stroke-width="1.05" stroke-linejoin="round"/>
<line x1="66.80" y1="245.60" x2="66.80" y2="326.80" stroke="#3f3f3f" stroke-width="1.6"/>
<rect x="64.60" y="266.40" width="4.4" height="40.50" fill="#3f3f3f"/>
<rect x="64.80" y="283.75" width="4.0" height="1.3" fill="#eeeeee"/>
<path d="M153.92,300.20 L154.24,300.71 L154.61,301.22 L154.99,301.73 L155.36,302.24 L155.71,302.75 L156.01,303.26 L156.27,303.77 L156.49,304.28 L156.66,304.78 L156.79,305.29 L156.88,305.80 L156.93,306.31 L156.95,306.82 L156.92,307.33 L156.86,307.84 L156.76,308.35 L156.63,308.86 L156.45,309.37 L156.24,309.88 L155.98,310.39 L155.69,310.90 L155.36,311.41 L155.01,311.92 L154.64,312.43 L154.29,312.94 L153.97,313.45 L153.83,313.70 L108.97,313.70 L108.83,313.45 L108.51,312.94 L108.16,312.43 L107.79,311.92 L107.44,311.41 L107.11,310.90 L106.82,310.39 L106.56,309.88 L106.35,309.37 L106.17,308.86 L106.04,308.35 L105.94,307.84 L105.88,307.33 L105.85,306.82 L105.87,306.31 L105.92,305.80 L106.01,305.29 L106.14,304.78 L106.31,304.28 L106.53,303.77 L106.79,303.26 L107.09,302.75 L107.44,302.24 L107.81,301.73 L108.19,301.22 L108.56,300.71 L108.88,300.20Z" fill="#b5c8e1" stroke="#3f3f3f" stroke-width="1.05" stroke-linejoin="round"/>
<line x1="131.40" y1="300.20" x2="131.40" y2="313.50" stroke="#3f3f3f" stroke-width="1.6"/>
<rect x="129.20" y="301.30" width="4.4" height="10.60" fill="#3f3f3f"/>
<rect x="129.40" y="306.15" width="4.0" height="1.3" fill="#eeeeee"/>
<rect x="34.5" y="201.5" width="129.0" height="133.0" fill="none" stroke="#1e1e1e" stroke-width="0.95"/>
<line x1="31.5" y1="205.6" x2="34.5" y2="205.6" stroke="#222" stroke-width="0.85"/>
<text x="11.29" y="208.80" textLength="17.28" lengthAdjust="spacingAndGlyphs" font-size="8.45">1.25</text>
<line x1="31.5" y1="223.23" x2="34.5" y2="223.23" stroke="#222" stroke-width="0.85"/>
<text x="11.12" y="226.43" textLength="17.43" lengthAdjust="spacingAndGlyphs" font-size="8.45">1.20</text>
<line x1="31.5" y1="240.86" x2="34.5" y2="240.86" stroke="#222" stroke-width="0.85"/>
<text x="11.29" y="244.06" textLength="17.28" lengthAdjust="spacingAndGlyphs" font-size="8.45">1.15</text>
<line x1="31.5" y1="258.49" x2="34.5" y2="258.49" stroke="#222" stroke-width="0.85"/>
<text x="11.12" y="261.69" textLength="17.43" lengthAdjust="spacingAndGlyphs" font-size="8.45">1.10</text>
<line x1="31.5" y1="276.12" x2="34.5" y2="276.12" stroke="#222" stroke-width="0.85"/>
<text x="11.29" y="279.32" textLength="17.28" lengthAdjust="spacingAndGlyphs" font-size="8.45">1.05</text>
<line x1="31.5" y1="293.75" x2="34.5" y2="293.75" stroke="#222" stroke-width="0.85"/>
<text x="11.12" y="296.95" textLength="17.43" lengthAdjust="spacingAndGlyphs" font-size="8.45">1.00</text>
<line x1="31.5" y1="311.38" x2="34.5" y2="311.38" stroke="#222" stroke-width="0.85"/>
<text x="11.27" y="314.58" textLength="17.31" lengthAdjust="spacingAndGlyphs" font-size="8.45">0.95</text>
<line x1="31.5" y1="329.01" x2="34.5" y2="329.01" stroke="#222" stroke-width="0.85"/>
<text x="11.10" y="332.21" textLength="17.45" lengthAdjust="spacingAndGlyphs" font-size="8.45">0.90</text>
<line x1="66.5" y1="334.5" x2="66.5" y2="337.5" stroke="#222" stroke-width="0.85"/>
<text x="57.37" y="346.70" textLength="17.91" lengthAdjust="spacingAndGlyphs" font-size="8.45">ICES</text>
<line x1="131.3" y1="334.5" x2="131.3" y2="337.5" stroke="#222" stroke-width="0.85"/>
<text x="116.38" y="346.70" textLength="29.33" lengthAdjust="spacingAndGlyphs" font-size="8.45">Electric</text>
<text x="74.09" y="357.60" textLength="49.49" lengthAdjust="spacingAndGlyphs" font-size="8.45">Engine Type</text>
<text transform="translate(4.50 268.20) rotate(-90)" font-size="8.6" font-style="italic" text-anchor="middle">γ<tspan font-size="6" dy="1.6">v</tspan></text>
<path d="M243.05,207.60 L243.04,208.10 L243.01,208.60 L242.98,209.10 L242.95,209.60 L242.92,210.11 L242.89,210.61 L242.86,211.11 L242.82,211.61 L242.79,212.11 L242.76,212.61 L242.73,213.11 L242.70,213.61 L242.67,214.12 L242.63,214.62 L242.61,215.12 L242.58,215.62 L242.55,216.12 L242.52,216.62 L242.49,217.12 L242.46,217.62 L242.44,218.13 L242.41,218.63 L242.39,219.13 L242.36,219.63 L242.34,220.13 L242.31,220.63 L242.29,221.13 L242.26,221.63 L242.24,222.14 L242.22,222.64 L242.19,223.14 L242.17,223.64 L242.14,224.14 L242.12,224.64 L242.10,225.14 L242.07,225.64 L242.04,226.15 L242.02,226.65 L241.99,227.15 L241.96,227.65 L241.94,228.15 L241.91,228.65 L241.88,229.15 L241.85,229.65 L241.82,230.16 L241.79,230.66 L241.76,231.16 L241.74,231.66 L241.71,232.16 L241.68,232.66 L241.66,233.16 L241.63,233.66 L241.61,234.17 L241.59,234.67 L241.56,235.17 L241.54,235.67 L241.52,236.17 L241.50,236.67 L241.48,237.17 L241.46,237.67 L241.44,238.18 L241.43,238.68 L241.41,239.18 L241.40,239.68 L241.39,240.18 L241.38,240.68 L241.37,241.18 L241.37,241.68 L241.37,242.19 L241.37,242.69 L241.38,243.19 L241.39,243.69 L241.41,244.19 L241.42,244.69 L241.44,245.19 L241.47,245.69 L241.49,246.20 L241.51,246.70 L241.54,247.20 L241.56,247.70 L241.59,248.20 L241.62,248.70 L241.65,249.20 L241.68,249.70 L241.71,250.21 L241.74,250.71 L241.77,251.21 L241.80,251.71 L241.84,252.21 L241.87,252.71 L241.91,253.21 L241.95,253.71 L241.99,254.22 L242.04,254.72 L242.08,255.22 L242.13,255.72 L242.18,256.22 L242.23,256.72 L242.29,257.22 L242.35,257.72 L242.42,258.23 L242.49,258.73 L242.56,259.23 L242.64,259.73 L242.73,260.23 L242.82,260.73 L242.92,261.23 L243.03,261.73 L243.15,262.24 L243.28,262.74 L243.42,263.24 L243.57,263.74 L243.73,264.24 L243.90,264.74 L244.08,265.24 L244.28,265.74 L244.49,266.25 L244.72,266.75 L244.96,267.25 L245.22,267.75 L245.49,268.25 L245.77,268.75 L246.05,269.25 L246.34,269.75 L246.63,270.26 L246.93,270.76 L247.23,271.26 L247.53,271.76 L247.83,272.26 L248.14,272.76 L248.44,273.26 L248.75,273.76 L249.06,274.27 L249.38,274.77 L249.69,275.27 L250.01,275.77 L250.32,276.27 L250.64,276.77 L250.96,277.27 L251.28,277.77 L251.60,278.28 L251.92,278.78 L252.25,279.28 L252.57,279.78 L252.90,280.28 L253.22,280.78 L253.55,281.28 L253.88,281.78 L254.21,282.29 L254.54,282.79 L254.87,283.29 L255.20,283.79 L255.53,284.29 L255.85,284.79 L256.17,285.29 L256.48,285.79 L256.79,286.30 L257.09,286.80 L257.39,287.30 L257.68,287.80 L257.97,288.30 L258.25,288.80 L258.52,289.30 L258.79,289.80 L259.06,290.31 L259.32,290.81 L259.58,291.31 L259.83,291.81 L260.08,292.31 L260.33,292.81 L260.57,293.31 L260.81,293.81 L261.05,294.32 L261.28,294.82 L261.51,295.32 L261.74,295.82 L261.97,296.32 L262.19,296.82 L262.41,297.32 L262.63,297.82 L262.85,298.33 L263.06,298.83 L263.28,299.33 L263.49,299.83 L263.70,300.33 L263.90,300.83 L264.09,301.33 L264.28,301.83 L264.45,302.34 L264.60,302.84 L264.75,303.34 L264.88,303.84 L265.01,304.34 L265.12,304.84 L265.23,305.34 L265.33,305.84 L265.43,306.35 L265.52,306.85 L265.61,307.35 L265.68,307.85 L265.75,308.35 L265.81,308.85 L265.85,309.35 L265.89,309.85 L265.91,310.36 L265.92,310.86 L265.92,311.36 L265.90,311.86 L265.87,312.36 L265.82,312.86 L265.76,313.36 L265.69,313.86 L265.60,314.37 L265.51,314.87 L265.40,315.37 L265.28,315.87 L265.16,316.37 L265.02,316.87 L264.88,317.37 L264.73,317.87 L264.57,318.38 L264.39,318.88 L264.20,319.38 L263.99,319.88 L263.77,320.38 L263.53,320.88 L263.28,321.38 L263.01,321.88 L262.74,322.39 L262.47,322.89 L262.18,323.39 L261.89,323.89 L261.60,324.39 L261.31,324.89 L261.01,325.39 L260.72,325.89 L260.44,326.40 L260.17,326.90 L259.92,327.40 L259.70,327.90 L259.52,328.40 L221.38,328.40 L221.20,327.90 L220.98,327.40 L220.73,326.90 L220.46,326.40 L220.18,325.89 L219.89,325.39 L219.59,324.89 L219.30,324.39 L219.01,323.89 L218.72,323.39 L218.43,322.89 L218.16,322.39 L217.89,321.88 L217.62,321.38 L217.37,320.88 L217.13,320.38 L216.91,319.88 L216.70,319.38 L216.51,318.88 L216.33,318.38 L216.17,317.87 L216.02,317.37 L215.88,316.87 L215.74,316.37 L215.62,315.87 L215.50,315.37 L215.39,314.87 L215.30,314.37 L215.21,313.86 L215.14,313.36 L215.08,312.86 L215.03,312.36 L215.00,311.86 L214.98,311.36 L214.98,310.86 L214.99,310.36 L215.01,309.85 L215.05,309.35 L215.09,308.85 L215.15,308.35 L215.22,307.85 L215.29,307.35 L215.38,306.85 L215.47,306.35 L215.57,305.84 L215.67,305.34 L215.78,304.84 L215.89,304.34 L216.02,303.84 L216.15,303.34 L216.30,302.84 L216.45,302.34 L216.62,301.83 L216.81,301.33 L217.00,300.83 L217.20,300.33 L217.41,299.83 L217.62,299.33 L217.84,298.83 L218.05,298.33 L218.27,297.82 L218.49,297.32 L218.71,296.82 L218.93,296.32 L219.16,295.82 L219.39,295.32 L219.62,294.82 L219.85,294.32 L220.09,293.81 L220.33,293.31 L220.57,292.81 L220.82,292.31 L221.07,291.81 L221.32,291.31 L221.58,290.81 L221.84,290.31 L222.11,289.80 L222.38,289.30 L222.65,288.80 L222.93,288.30 L223.22,287.80 L223.51,287.30 L223.81,286.80 L224.11,286.30 L224.42,285.79 L224.73,285.29 L225.05,284.79 L225.37,284.29 L225.70,283.79 L226.03,283.29 L226.36,282.79 L226.69,282.29 L227.02,281.78 L227.35,281.28 L227.68,280.78 L228.00,280.28 L228.33,279.78 L228.65,279.28 L228.98,278.78 L229.30,278.28 L229.62,277.77 L229.94,277.27 L230.26,276.77 L230.58,276.27 L230.89,275.77 L231.21,275.27 L231.52,274.77 L231.84,274.27 L232.15,273.76 L232.46,273.26 L232.76,272.76 L233.07,272.26 L233.37,271.76 L233.67,271.26 L233.97,270.76 L234.27,270.26 L234.56,269.75 L234.85,269.25 L235.13,268.75 L235.41,268.25 L235.68,267.75 L235.94,267.25 L236.18,266.75 L236.41,266.25 L236.62,265.74 L236.82,265.24 L237.00,264.74 L237.17,264.24 L237.33,263.74 L237.48,263.24 L237.62,262.74 L237.75,262.24 L237.87,261.73 L237.98,261.23 L238.08,260.73 L238.17,260.23 L238.26,259.73 L238.34,259.23 L238.41,258.73 L238.48,258.23 L238.55,257.72 L238.61,257.22 L238.67,256.72 L238.72,256.22 L238.77,255.72 L238.82,255.22 L238.86,254.72 L238.91,254.22 L238.95,253.71 L238.99,253.21 L239.03,252.71 L239.06,252.21 L239.10,251.71 L239.13,251.21 L239.16,250.71 L239.19,250.21 L239.22,249.70 L239.25,249.20 L239.28,248.70 L239.31,248.20 L239.34,247.70 L239.36,247.20 L239.39,246.70 L239.41,246.20 L239.43,245.69 L239.46,245.19 L239.48,244.69 L239.49,244.19 L239.51,243.69 L239.52,243.19 L239.53,242.69 L239.53,242.19 L239.53,241.68 L239.53,241.18 L239.52,240.68 L239.51,240.18 L239.50,239.68 L239.49,239.18 L239.47,238.68 L239.46,238.18 L239.44,237.67 L239.42,237.17 L239.40,236.67 L239.38,236.17 L239.36,235.67 L239.34,235.17 L239.31,234.67 L239.29,234.17 L239.27,233.66 L239.24,233.16 L239.22,232.66 L239.19,232.16 L239.16,231.66 L239.14,231.16 L239.11,230.66 L239.08,230.16 L239.05,229.65 L239.02,229.15 L238.99,228.65 L238.96,228.15 L238.94,227.65 L238.91,227.15 L238.88,226.65 L238.86,226.15 L238.83,225.64 L238.80,225.14 L238.78,224.64 L238.76,224.14 L238.73,223.64 L238.71,223.14 L238.68,222.64 L238.66,222.14 L238.64,221.63 L238.61,221.13 L238.59,220.63 L238.56,220.13 L238.54,219.63 L238.51,219.13 L238.49,218.63 L238.46,218.13 L238.44,217.62 L238.41,217.12 L238.38,216.62 L238.35,216.12 L238.32,215.62 L238.29,215.12 L238.27,214.62 L238.23,214.12 L238.20,213.61 L238.17,213.11 L238.14,212.61 L238.11,212.11 L238.08,211.61 L238.04,211.11 L238.01,210.61 L237.98,210.11 L237.95,209.60 L237.92,209.10 L237.89,208.60 L237.86,208.10 L237.85,207.60Z" fill="#3274a1" stroke="#3f3f3f" stroke-width="1.05" stroke-linejoin="round"/>
<line x1="240.45" y1="285.80" x2="240.45" y2="327.10" stroke="#3f3f3f" stroke-width="1.6"/>
<rect x="238.25" y="297.20" width="4.4" height="22.60" fill="#3f3f3f"/>
<rect x="238.45" y="308.95" width="4.0" height="1.3" fill="#eeeeee"/>
<path d="M327.50,318.30 L327.99,318.82 L328.48,319.35 L328.90,319.87 L329.19,320.40 L329.30,320.92 L329.23,321.44 L328.98,321.97 L328.59,322.49 L328.12,323.01 L327.63,323.54 L327.39,323.80 L282.41,323.80 L282.17,323.54 L281.68,323.01 L281.21,322.49 L280.82,321.97 L280.57,321.44 L280.50,320.92 L280.61,320.40 L280.90,319.87 L281.32,319.35 L281.81,318.82 L282.30,318.30Z" fill="#b5c8e1" stroke="#3f3f3f" stroke-width="1.05" stroke-linejoin="round"/>
<line x1="304.90" y1="318.30" x2="304.90" y2="323.60" stroke="#3f3f3f" stroke-width="1.6"/>
<rect x="302.70" y="318.30" width="4.4" height="5.30" fill="#3f3f3f"/>
<rect x="302.90" y="320.25" width="4.0" height="1.3" fill="#eeeeee"/>
<rect x="208.5" y="201.5" width="129.0" height="133.0" fill="none" stroke="#1e1e1e" stroke-width="0.95"/>
<line x1="205.5" y1="209.3" x2="208.5" y2="209.3" stroke="#222" stroke-width="0.85"/>
<text x="197.73" y="212.50" textLength="4.85" lengthAdjust="spacingAndGlyphs" font-size="8.45">6</text>
<line x1="205.5" y1="230.6" x2="208.5" y2="230.6" stroke="#222" stroke-width="0.85"/>
<text x="198.11" y="233.80" textLength="4.43" lengthAdjust="spacingAndGlyphs" font-size="8.45">5</text>
<line x1="205.5" y1="251.9" x2="208.5" y2="251.9" stroke="#222" stroke-width="0.85"/>
<text x="197.76" y="255.10" textLength="4.69" lengthAdjust="spacingAndGlyphs" font-size="8.45">4</text>
<line x1="205.5" y1="273.2" x2="208.5" y2="273.2" stroke="#222" stroke-width="0.85"/>
<text x="198.05" y="276.40" textLength="4.50" lengthAdjust="spacingAndGlyphs" font-size="8.45">3</text>
<line x1="205.5" y1="294.5" x2="208.5" y2="294.5" stroke="#222" stroke-width="0.85"/>
<text x="198.09" y="297.70" textLength="4.52" lengthAdjust="spacingAndGlyphs" font-size="8.45">2</text>
<line x1="205.5" y1="315.8" x2="208.5" y2="315.8" stroke="#222" stroke-width="0.85"/>
<text x="198.11" y="319.00" textLength="4.48" lengthAdjust="spacingAndGlyphs" font-size="8.45">1</text>
<line x1="240.3" y1="334.5" x2="240.3" y2="337.5" stroke="#222" stroke-width="0.85"/>
<text x="231.17" y="346.70" textLength="17.91" lengthAdjust="spacingAndGlyphs" font-size="8.45">ICES</text>
<line x1="304.8" y1="334.5" x2="304.8" y2="337.5" stroke="#222" stroke-width="0.85"/>
<text x="289.88" y="346.70" textLength="29.33" lengthAdjust="spacingAndGlyphs" font-size="8.45">Electric</text>
<text x="248.09" y="357.60" textLength="49.49" lengthAdjust="spacingAndGlyphs" font-size="8.45">Engine Type</text>
<text transform="translate(190.80 268.20) rotate(-90)" font-size="8.6" font-style="italic" text-anchor="middle">γ<tspan font-size="6" dy="1.6">s</tspan></text>
<path d="M420.85,207.60 L420.87,208.10 L420.90,208.60 L420.93,209.10 L420.97,209.60 L421.01,210.11 L421.05,210.61 L421.10,211.11 L421.15,211.61 L421.20,212.11 L421.25,212.61 L421.31,213.11 L421.36,213.61 L421.42,214.11 L421.48,214.61 L421.54,215.12 L421.60,215.62 L421.66,216.12 L421.73,216.62 L421.79,217.12 L421.86,217.62 L421.93,218.12 L422.01,218.62 L422.08,219.12 L422.16,219.63 L422.24,220.13 L422.32,220.63 L422.41,221.13 L422.49,221.63 L422.58,222.13 L422.67,222.63 L422.77,223.13 L422.86,223.63 L422.96,224.13 L423.06,224.64 L423.16,225.14 L423.27,225.64 L423.38,226.14 L423.50,226.64 L423.61,227.14 L423.73,227.64 L423.86,228.14 L423.99,228.64 L424.12,229.14 L424.25,229.65 L424.39,230.15 L424.53,230.65 L424.67,231.15 L424.82,231.65 L424.97,232.15 L425.12,232.65 L425.28,233.15 L425.44,233.65 L425.60,234.16 L425.77,234.66 L425.95,235.16 L426.13,235.66 L426.31,236.16 L426.50,236.66 L426.69,237.16 L426.88,237.66 L427.08,238.16 L427.29,238.66 L427.49,239.17 L427.70,239.67 L427.91,240.17 L428.12,240.67 L428.33,241.17 L428.55,241.67 L428.77,242.17 L428.99,242.67 L429.21,243.17 L429.44,243.68 L429.67,244.18 L429.91,244.68 L430.15,245.18 L430.39,245.68 L430.63,246.18 L430.88,246.68 L431.12,247.18 L431.36,247.68 L431.60,248.18 L431.84,248.69 L432.07,249.19 L432.30,249.69 L432.53,250.19 L432.75,250.69 L432.96,251.19 L433.17,251.69 L433.37,252.19 L433.57,252.69 L433.77,253.19 L433.96,253.70 L434.15,254.20 L434.34,254.70 L434.53,255.20 L434.71,255.70 L434.89,256.20 L435.08,256.70 L435.26,257.20 L435.44,257.70 L435.63,258.21 L435.82,258.71 L436.01,259.21 L436.20,259.71 L436.40,260.21 L436.60,260.71 L436.80,261.21 L437.01,261.71 L437.21,262.21 L437.41,262.71 L437.60,263.22 L437.78,263.72 L437.95,264.22 L438.11,264.72 L438.26,265.22 L438.40,265.72 L438.53,266.22 L438.65,266.72 L438.77,267.22 L438.88,267.73 L438.98,268.23 L439.08,268.73 L439.18,269.23 L439.27,269.73 L439.36,270.23 L439.45,270.73 L439.53,271.23 L439.60,271.73 L439.67,272.23 L439.73,272.74 L439.79,273.24 L439.84,273.74 L439.88,274.24 L439.91,274.74 L439.93,275.24 L439.94,275.74 L439.94,276.24 L439.93,276.74 L439.92,277.25 L439.88,277.75 L439.84,278.25 L439.79,278.75 L439.73,279.25 L439.66,279.75 L439.58,280.25 L439.49,280.75 L439.39,281.25 L439.29,281.75 L439.19,282.26 L439.07,282.76 L438.96,283.26 L438.84,283.76 L438.71,284.26 L438.59,284.76 L438.46,285.26 L438.34,285.76 L438.21,286.26 L438.08,286.76 L437.95,287.27 L437.82,287.77 L437.68,288.27 L437.54,288.77 L437.39,289.27 L437.24,289.77 L437.09,290.27 L436.93,290.77 L436.77,291.27 L436.60,291.78 L436.42,292.28 L436.25,292.78 L436.07,293.28 L435.89,293.78 L435.70,294.28 L435.52,294.78 L435.33,295.28 L435.14,295.78 L434.95,296.28 L434.76,296.79 L434.57,297.29 L434.38,297.79 L434.19,298.29 L434.00,298.79 L433.80,299.29 L433.61,299.79 L433.41,300.29 L433.21,300.79 L433.01,301.30 L432.81,301.80 L432.61,302.30 L432.40,302.80 L432.19,303.30 L431.98,303.80 L431.78,304.30 L431.57,304.80 L431.36,305.30 L431.16,305.80 L430.95,306.31 L430.75,306.81 L430.56,307.31 L430.36,307.81 L430.17,308.31 L429.98,308.81 L429.80,309.31 L429.62,309.81 L429.45,310.31 L429.27,310.82 L429.11,311.32 L428.94,311.82 L428.78,312.32 L428.62,312.82 L428.46,313.32 L428.31,313.82 L428.15,314.32 L428.00,314.82 L427.85,315.32 L427.70,315.83 L427.56,316.33 L427.41,316.83 L427.26,317.33 L427.12,317.83 L426.98,318.33 L426.83,318.83 L426.69,319.33 L426.55,319.83 L426.40,320.33 L426.26,320.84 L426.12,321.34 L425.98,321.84 L425.84,322.34 L425.70,322.84 L425.56,323.34 L425.42,323.84 L425.28,324.34 L425.15,324.84 L425.02,325.35 L424.90,325.85 L424.79,326.35 L424.69,326.85 L424.61,327.35 L424.57,327.60 L403.83,327.60 L403.79,327.35 L403.71,326.85 L403.61,326.35 L403.50,325.85 L403.38,325.35 L403.25,324.84 L403.12,324.34 L402.98,323.84 L402.84,323.34 L402.70,322.84 L402.56,322.34 L402.42,321.84 L402.28,321.34 L402.14,320.84 L402.00,320.33 L401.85,319.83 L401.71,319.33 L401.57,318.83 L401.42,318.33 L401.28,317.83 L401.14,317.33 L400.99,316.83 L400.84,316.33 L400.70,315.83 L400.55,315.32 L400.40,314.82 L400.25,314.32 L400.09,313.82 L399.94,313.32 L399.78,312.82 L399.62,312.32 L399.46,311.82 L399.29,311.32 L399.13,310.82 L398.95,310.31 L398.78,309.81 L398.60,309.31 L398.42,308.81 L398.23,308.31 L398.04,307.81 L397.84,307.31 L397.65,306.81 L397.45,306.31 L397.24,305.80 L397.04,305.30 L396.83,304.80 L396.62,304.30 L396.42,303.80 L396.21,303.30 L396.00,302.80 L395.79,302.30 L395.59,301.80 L395.39,301.30 L395.19,300.79 L394.99,300.29 L394.79,299.79 L394.60,299.29 L394.40,298.79 L394.21,298.29 L394.02,297.79 L393.83,297.29 L393.64,296.79 L393.45,296.28 L393.26,295.78 L393.07,295.28 L392.88,294.78 L392.70,294.28 L392.51,293.78 L392.33,293.28 L392.15,292.78 L391.98,292.28 L391.80,291.78 L391.63,291.27 L391.47,290.77 L391.31,290.27 L391.16,289.77 L391.01,289.27 L390.86,288.77 L390.72,288.27 L390.58,287.77 L390.45,287.27 L390.32,286.76 L390.19,286.26 L390.06,285.76 L389.94,285.26 L389.81,284.76 L389.69,284.26 L389.56,283.76 L389.44,283.26 L389.33,282.76 L389.21,282.26 L389.11,281.75 L389.01,281.25 L388.91,280.75 L388.82,280.25 L388.74,279.75 L388.67,279.25 L388.61,278.75 L388.56,278.25 L388.52,277.75 L388.48,277.25 L388.47,276.74 L388.46,276.24 L388.46,275.74 L388.47,275.24 L388.49,274.74 L388.52,274.24 L388.56,273.74 L388.61,273.24 L388.67,272.74 L388.73,272.23 L388.80,271.73 L388.87,271.23 L388.95,270.73 L389.04,270.23 L389.13,269.73 L389.22,269.23 L389.32,268.73 L389.42,268.23 L389.52,267.73 L389.63,267.22 L389.75,266.72 L389.87,266.22 L390.00,265.72 L390.14,265.22 L390.29,264.72 L390.45,264.22 L390.62,263.72 L390.80,263.22 L390.99,262.71 L391.19,262.21 L391.39,261.71 L391.60,261.21 L391.80,260.71 L392.00,260.21 L392.20,259.71 L392.39,259.21 L392.58,258.71 L392.77,258.21 L392.96,257.70 L393.14,257.20 L393.32,256.70 L393.51,256.20 L393.69,255.70 L393.87,255.20 L394.06,254.70 L394.25,254.20 L394.44,253.70 L394.63,253.19 L394.83,252.69 L395.03,252.19 L395.23,251.69 L395.44,251.19 L395.65,250.69 L395.87,250.19 L396.10,249.69 L396.33,249.19 L396.56,248.69 L396.80,248.18 L397.04,247.68 L397.28,247.18 L397.52,246.68 L397.77,246.18 L398.01,245.68 L398.25,245.18 L398.49,244.68 L398.73,244.18 L398.96,243.68 L399.19,243.17 L399.41,242.67 L399.63,242.17 L399.85,241.67 L400.07,241.17 L400.28,240.67 L400.49,240.17 L400.70,239.67 L400.91,239.17 L401.11,238.66 L401.32,238.16 L401.52,237.66 L401.71,237.16 L401.90,236.66 L402.09,236.16 L402.27,235.66 L402.45,235.16 L402.63,234.66 L402.80,234.16 L402.96,233.65 L403.12,233.15 L403.28,232.65 L403.43,232.15 L403.58,231.65 L403.73,231.15 L403.87,230.65 L404.01,230.15 L404.15,229.65 L404.28,229.14 L404.41,228.64 L404.54,228.14 L404.67,227.64 L404.79,227.14 L404.90,226.64 L405.02,226.14 L405.13,225.64 L405.24,225.14 L405.34,224.64 L405.44,224.13 L405.54,223.63 L405.63,223.13 L405.73,222.63 L405.82,222.13 L405.91,221.63 L405.99,221.13 L406.08,220.63 L406.16,220.13 L406.24,219.63 L406.32,219.12 L406.39,218.62 L406.47,218.12 L406.54,217.62 L406.61,217.12 L406.67,216.62 L406.74,216.12 L406.80,215.62 L406.86,215.12 L406.92,214.61 L406.98,214.11 L407.04,213.61 L407.09,213.11 L407.15,212.61 L407.20,212.11 L407.25,211.61 L407.30,211.11 L407.35,210.61 L407.39,210.11 L407.43,209.60 L407.47,209.10 L407.50,208.60 L407.53,208.10 L407.55,207.60Z" fill="#3274a1" stroke="#3f3f3f" stroke-width="1.05" stroke-linejoin="round"/>
<line x1="414.20" y1="258.20" x2="414.20" y2="325.90" stroke="#3f3f3f" stroke-width="1.6"/>
<rect x="412.00" y="262.00" width="4.4" height="30.60" fill="#3f3f3f"/>
<rect x="412.20" y="274.25" width="4.0" height="1.3" fill="#eeeeee"/>
<path d="M486.01,244.50 L486.05,245.00 L486.11,245.50 L486.18,246.01 L486.26,246.51 L486.34,247.01 L486.42,247.51 L486.51,248.01 L486.60,248.51 L486.69,249.02 L486.79,249.52 L486.88,250.02 L486.98,250.52 L487.08,251.02 L487.18,251.53 L487.28,252.03 L487.38,252.53 L487.48,253.03 L487.59,253.53 L487.69,254.03 L487.80,254.54 L487.90,255.04 L488.01,255.54 L488.12,256.04 L488.22,256.54 L488.33,257.04 L488.44,257.55 L488.55,258.05 L488.66,258.55 L488.77,259.05 L488.88,259.55 L489.00,260.06 L489.12,260.56 L489.24,261.06 L489.36,261.56 L489.48,262.06 L489.61,262.56 L489.75,263.07 L489.89,263.57 L490.03,264.07 L490.18,264.57 L490.34,265.07 L490.50,265.58 L490.68,266.08 L490.87,266.58 L491.06,267.08 L491.27,267.58 L491.50,268.08 L491.73,268.59 L491.98,269.09 L492.24,269.59 L492.51,270.09 L492.79,270.59 L493.08,271.10 L493.37,271.60 L493.67,272.10 L493.97,272.60 L494.28,273.10 L494.59,273.60 L494.89,274.11 L495.20,274.61 L495.50,275.11 L495.79,275.61 L496.08,276.11 L496.37,276.61 L496.64,277.12 L496.91,277.62 L497.18,278.12 L497.43,278.62 L497.68,279.12 L497.92,279.63 L498.17,280.13 L498.40,280.63 L498.64,281.13 L498.87,281.63 L499.10,282.13 L499.33,282.64 L499.56,283.14 L499.78,283.64 L500.00,284.14 L500.21,284.64 L500.42,285.15 L500.62,285.65 L500.82,286.15 L501.00,286.65 L501.19,287.15 L501.36,287.65 L501.53,288.16 L501.69,288.66 L501.85,289.16 L502.00,289.66 L502.14,290.16 L502.29,290.67 L502.43,291.17 L502.56,291.67 L502.70,292.17 L502.83,292.67 L502.96,293.17 L503.09,293.68 L503.21,294.18 L503.33,294.68 L503.45,295.18 L503.55,295.68 L503.65,296.19 L503.74,296.69 L503.82,297.19 L503.89,297.69 L503.95,298.19 L504.00,298.69 L504.04,299.20 L504.06,299.70 L504.07,300.20 L504.07,300.70 L504.05,301.20 L504.02,301.70 L503.97,302.21 L503.91,302.71 L503.83,303.21 L503.75,303.71 L503.65,304.21 L503.55,304.72 L503.43,305.22 L503.31,305.72 L503.18,306.22 L503.05,306.72 L502.91,307.22 L502.77,307.73 L502.62,308.23 L502.47,308.73 L502.32,309.23 L502.15,309.73 L501.99,310.24 L501.81,310.74 L501.63,311.24 L501.43,311.74 L501.23,312.24 L501.02,312.74 L500.79,313.25 L500.56,313.75 L500.32,314.25 L500.07,314.75 L499.82,315.25 L499.56,315.76 L499.30,316.26 L499.04,316.76 L498.77,317.26 L498.51,317.76 L498.24,318.26 L497.97,318.77 L497.71,319.27 L497.44,319.77 L497.18,320.27 L496.91,320.77 L496.65,321.27 L496.39,321.78 L496.13,322.28 L495.86,322.78 L495.60,323.28 L495.33,323.78 L495.06,324.29 L494.79,324.79 L494.53,325.29 L494.26,325.79 L494.01,326.29 L493.77,326.79 L493.55,327.30 L493.36,327.80 L493.21,328.30 L464.09,328.30 L463.94,327.80 L463.75,327.30 L463.53,326.79 L463.29,326.29 L463.04,325.79 L462.77,325.29 L462.51,324.79 L462.24,324.29 L461.97,323.78 L461.70,323.28 L461.44,322.78 L461.17,322.28 L460.91,321.78 L460.65,321.27 L460.39,320.77 L460.12,320.27 L459.86,319.77 L459.59,319.27 L459.33,318.77 L459.06,318.26 L458.79,317.76 L458.53,317.26 L458.26,316.76 L458.00,316.26 L457.74,315.76 L457.48,315.25 L457.23,314.75 L456.98,314.25 L456.74,313.75 L456.51,313.25 L456.28,312.74 L456.07,312.24 L455.87,311.74 L455.67,311.24 L455.49,310.74 L455.31,310.24 L455.15,309.73 L454.98,309.23 L454.83,308.73 L454.68,308.23 L454.53,307.73 L454.39,307.22 L454.25,306.72 L454.12,306.22 L453.99,305.72 L453.87,305.22 L453.75,304.72 L453.65,304.21 L453.55,303.71 L453.47,303.21 L453.39,302.71 L453.33,302.21 L453.28,301.70 L453.25,301.20 L453.23,300.70 L453.23,300.20 L453.24,299.70 L453.26,299.20 L453.30,298.69 L453.35,298.19 L453.41,297.69 L453.48,297.19 L453.56,296.69 L453.65,296.19 L453.75,295.68 L453.85,295.18 L453.97,294.68 L454.09,294.18 L454.21,293.68 L454.34,293.17 L454.47,292.67 L454.60,292.17 L454.74,291.67 L454.87,291.17 L455.01,290.67 L455.16,290.16 L455.30,289.66 L455.45,289.16 L455.61,288.66 L455.77,288.16 L455.94,287.65 L456.11,287.15 L456.30,286.65 L456.48,286.15 L456.68,285.65 L456.88,285.15 L457.09,284.64 L457.30,284.14 L457.52,283.64 L457.74,283.14 L457.97,282.64 L458.20,282.13 L458.43,281.63 L458.66,281.13 L458.90,280.63 L459.13,280.13 L459.38,279.63 L459.62,279.12 L459.87,278.62 L460.12,278.12 L460.39,277.62 L460.66,277.12 L460.93,276.61 L461.22,276.11 L461.51,275.61 L461.80,275.11 L462.10,274.61 L462.41,274.11 L462.71,273.60 L463.02,273.10 L463.33,272.60 L463.63,272.10 L463.93,271.60 L464.22,271.10 L464.51,270.59 L464.79,270.09 L465.06,269.59 L465.32,269.09 L465.57,268.59 L465.80,268.08 L466.03,267.58 L466.24,267.08 L466.43,266.58 L466.62,266.08 L466.80,265.58 L466.96,265.07 L467.12,264.57 L467.27,264.07 L467.41,263.57 L467.55,263.07 L467.69,262.56 L467.82,262.06 L467.94,261.56 L468.06,261.06 L468.18,260.56 L468.30,260.06 L468.42,259.55 L468.53,259.05 L468.64,258.55 L468.75,258.05 L468.86,257.55 L468.97,257.04 L469.08,256.54 L469.18,256.04 L469.29,255.54 L469.40,255.04 L469.50,254.54 L469.61,254.03 L469.71,253.53 L469.82,253.03 L469.92,252.53 L470.02,252.03 L470.12,251.53 L470.22,251.02 L470.32,250.52 L470.42,250.02 L470.51,249.52 L470.61,249.02 L470.70,248.51 L470.79,248.01 L470.88,247.51 L470.96,247.01 L471.04,246.51 L471.12,246.01 L471.19,245.50 L471.25,245.00 L471.29,244.50Z" fill="#b5c8e1" stroke="#3f3f3f" stroke-width="1.05" stroke-linejoin="round"/>
<line x1="478.65" y1="284.60" x2="478.65" y2="326.80" stroke="#3f3f3f" stroke-width="1.6"/>
<rect x="476.45" y="284.60" width="4.4" height="23.30" fill="#3f3f3f"/>
<rect x="476.65" y="299.45" width="4.0" height="1.3" fill="#eeeeee"/>
<rect x="381.5" y="201.5" width="129.0" height="133.0" fill="none" stroke="#1e1e1e" stroke-width="0.95"/>
<line x1="378.5" y1="205.9" x2="381.5" y2="205.9" stroke="#222" stroke-width="0.85"/>
<text x="358.29" y="209.10" textLength="17.28" lengthAdjust="spacingAndGlyphs" font-size="8.45">1.25</text>
<line x1="378.5" y1="223.53" x2="381.5" y2="223.53" stroke="#222" stroke-width="0.85"/>
<text x="358.12" y="226.73" textLength="17.43" lengthAdjust="spacingAndGlyphs" font-size="8.45">1.20</text>
<line x1="378.5" y1="241.16" x2="381.5" y2="241.16" stroke="#222" stroke-width="0.85"/>
<text x="358.29" y="244.36" textLength="17.28" lengthAdjust="spacingAndGlyphs" font-size="8.45">1.15</text>
<line x1="378.5" y1="258.79" x2="381.5" y2="258.79" stroke="#222" stroke-width="0.85"/>
<text x="358.12" y="261.99" textLength="17.43" lengthAdjust="spacingAndGlyphs" font-size="8.45">1.10</text>
<line x1="378.5" y1="276.42" x2="381.5" y2="276.42" stroke="#222" stroke-width="0.85"/>
<text x="358.29" y="279.62" textLength="17.28" lengthAdjust="spacingAndGlyphs" font-size="8.45">1.05</text>
<line x1="378.5" y1="294.05" x2="381.5" y2="294.05" stroke="#222" stroke-width="0.85"/>
<text x="358.12" y="297.25" textLength="17.43" lengthAdjust="spacingAndGlyphs" font-size="8.45">1.00</text>
<line x1="378.5" y1="311.68" x2="381.5" y2="311.68" stroke="#222" stroke-width="0.85"/>
<text x="358.27" y="314.88" textLength="17.31" lengthAdjust="spacingAndGlyphs" font-size="8.45">0.95</text>
<line x1="378.5" y1="329.31" x2="381.5" y2="329.31" stroke="#222" stroke-width="0.85"/>
<text x="358.10" y="332.51" textLength="17.45" lengthAdjust="spacingAndGlyphs" font-size="8.45">0.90</text>
<line x1="414.2" y1="334.5" x2="414.2" y2="337.5" stroke="#222" stroke-width="0.85"/>
<text x="393.95" y="346.70" textLength="40.73" lengthAdjust="spacingAndGlyphs" font-size="8.45">Automatic</text>
<line x1="478.5" y1="334.5" x2="478.5" y2="337.5" stroke="#222" stroke-width="0.85"/>
<text x="464.01" y="346.70" textLength="28.84" lengthAdjust="spacingAndGlyphs" font-size="8.45">Manual</text>
<text x="417.90" y="357.60" textLength="56.15" lengthAdjust="spacingAndGlyphs" font-size="8.45">Gearbox Type</text>
<text transform="translate(351.30 268.20) rotate(-90)" font-size="8.6" font-style="italic" text-anchor="middle">γ<tspan font-size="6" dy="1.6">v</tspan></text>
<path d="M598.67,285.30 L598.96,285.80 L599.32,286.31 L599.72,286.81 L600.16,287.32 L600.62,287.82 L601.09,288.33 L601.57,288.83 L602.04,289.33 L602.51,289.84 L602.96,290.34 L603.41,290.85 L603.85,291.35 L604.28,291.86 L604.71,292.36 L605.12,292.87 L605.53,293.37 L605.93,293.87 L606.33,294.38 L606.71,294.88 L607.09,295.39 L607.47,295.89 L607.83,296.40 L608.20,296.90 L608.55,297.40 L608.90,297.91 L609.25,298.41 L609.58,298.92 L609.90,299.42 L610.21,299.93 L610.51,300.43 L610.79,300.93 L611.05,301.44 L611.30,301.94 L611.54,302.45 L611.77,302.95 L611.98,303.46 L612.18,303.96 L612.37,304.47 L612.54,304.97 L612.69,305.47 L612.82,305.98 L612.92,306.48 L612.99,306.99 L613.03,307.49 L613.03,308.00 L612.98,308.50 L612.90,309.00 L612.78,309.51 L612.63,310.01 L612.44,310.52 L612.22,311.02 L611.98,311.53 L611.72,312.03 L611.44,312.53 L611.14,313.04 L610.83,313.54 L610.50,314.05 L610.16,314.55 L609.79,315.06 L609.41,315.56 L609.00,316.07 L608.58,316.57 L608.14,317.07 L607.70,317.58 L607.25,318.08 L606.83,318.59 L606.43,319.09 L606.08,319.60 L605.78,320.10 L570.02,320.10 L569.72,319.60 L569.37,319.09 L568.97,318.59 L568.55,318.08 L568.10,317.58 L567.66,317.07 L567.22,316.57 L566.80,316.07 L566.39,315.56 L566.01,315.06 L565.64,314.55 L565.30,314.05 L564.97,313.54 L564.66,313.04 L564.36,312.53 L564.08,312.03 L563.82,311.53 L563.58,311.02 L563.36,310.52 L563.17,310.01 L563.02,309.51 L562.90,309.00 L562.82,308.50 L562.77,308.00 L562.77,307.49 L562.81,306.99 L562.88,306.48 L562.98,305.98 L563.11,305.47 L563.26,304.97 L563.43,304.47 L563.62,303.96 L563.82,303.46 L564.03,302.95 L564.26,302.45 L564.50,301.94 L564.75,301.44 L565.01,300.93 L565.29,300.43 L565.59,299.93 L565.90,299.42 L566.22,298.92 L566.55,298.41 L566.90,297.91 L567.25,297.40 L567.60,296.90 L567.97,296.40 L568.33,295.89 L568.71,295.39 L569.09,294.88 L569.47,294.38 L569.87,293.87 L570.27,293.37 L570.68,292.87 L571.09,292.36 L571.52,291.86 L571.95,291.35 L572.39,290.85 L572.84,290.34 L573.29,289.84 L573.76,289.33 L574.23,288.83 L574.71,288.33 L575.18,287.82 L575.64,287.32 L576.08,286.81 L576.48,286.31 L576.84,285.80 L577.13,285.30Z" fill="#3274a1" stroke="#3f3f3f" stroke-width="1.05" stroke-linejoin="round"/>
<line x1="587.90" y1="285.20" x2="587.90" y2="320.00" stroke="#3f3f3f" stroke-width="1.6"/>
<rect x="585.70" y="296.20" width="4.4" height="18.80" fill="#3f3f3f"/>
<rect x="585.90" y="305.65" width="4.0" height="1.3" fill="#eeeeee"/>
<path d="M659.26,207.60 L659.26,208.10 L659.26,208.60 L659.27,209.10 L659.27,209.60 L659.27,210.11 L659.28,210.61 L659.28,211.11 L659.29,211.61 L659.29,212.11 L659.30,212.61 L659.30,213.11 L659.30,213.61 L659.31,214.12 L659.31,214.62 L659.32,215.12 L659.32,215.62 L659.32,216.12 L659.33,216.62 L659.33,217.12 L659.34,217.62 L659.34,218.13 L659.34,218.63 L659.35,219.13 L659.35,219.63 L659.35,220.13 L659.36,220.63 L659.36,221.13 L659.36,221.63 L659.37,222.14 L659.37,222.64 L659.37,223.14 L659.37,223.64 L659.38,224.14 L659.38,224.64 L659.38,225.14 L659.38,225.64 L659.38,226.15 L659.39,226.65 L659.39,227.15 L659.39,227.65 L659.39,228.15 L659.40,228.65 L659.40,229.15 L659.40,229.65 L659.40,230.16 L659.41,230.66 L659.41,231.16 L659.41,231.66 L659.42,232.16 L659.42,232.66 L659.43,233.16 L659.43,233.66 L659.44,234.17 L659.44,234.67 L659.45,235.17 L659.46,235.67 L659.47,236.17 L659.48,236.67 L659.49,237.17 L659.51,237.67 L659.53,238.18 L659.55,238.68 L659.57,239.18 L659.60,239.68 L659.63,240.18 L659.66,240.68 L659.69,241.18 L659.73,241.68 L659.76,242.19 L659.80,242.69 L659.84,243.19 L659.89,243.69 L659.93,244.19 L659.98,244.69 L660.03,245.19 L660.09,245.69 L660.15,246.20 L660.22,246.70 L660.29,247.20 L660.37,247.70 L660.45,248.20 L660.53,248.70 L660.61,249.20 L660.70,249.70 L660.79,250.21 L660.88,250.71 L660.97,251.21 L661.06,251.71 L661.15,252.21 L661.24,252.71 L661.33,253.21 L661.42,253.71 L661.51,254.22 L661.60,254.72 L661.69,255.22 L661.78,255.72 L661.87,256.22 L661.95,256.72 L662.04,257.22 L662.13,257.72 L662.22,258.23 L662.31,258.73 L662.39,259.23 L662.48,259.73 L662.56,260.23 L662.64,260.73 L662.72,261.23 L662.80,261.73 L662.87,262.24 L662.95,262.74 L663.04,263.24 L663.13,263.74 L663.23,264.24 L663.34,264.74 L663.47,265.24 L663.61,265.74 L663.77,266.25 L663.95,266.75 L664.13,267.25 L664.32,267.75 L664.52,268.25 L664.73,268.75 L664.94,269.25 L665.15,269.75 L665.37,270.26 L665.59,270.76 L665.81,271.26 L666.04,271.76 L666.26,272.26 L666.49,272.76 L666.72,273.26 L666.95,273.76 L667.18,274.27 L667.40,274.77 L667.63,275.27 L667.86,275.77 L668.09,276.27 L668.32,276.77 L668.55,277.27 L668.78,277.77 L669.01,278.28 L669.24,278.78 L669.48,279.28 L669.71,279.78 L669.94,280.28 L670.18,280.78 L670.41,281.28 L670.64,281.78 L670.87,282.29 L671.10,282.79 L671.32,283.29 L671.54,283.79 L671.76,284.29 L671.97,284.79 L672.18,285.29 L672.38,285.79 L672.58,286.30 L672.77,286.80 L672.95,287.30 L673.14,287.80 L673.32,288.30 L673.49,288.80 L673.66,289.30 L673.83,289.80 L674.00,290.31 L674.17,290.81 L674.33,291.31 L674.49,291.81 L674.65,292.31 L674.80,292.81 L674.95,293.31 L675.10,293.81 L675.24,294.32 L675.38,294.82 L675.51,295.32 L675.63,295.82 L675.76,296.32 L675.87,296.82 L675.98,297.32 L676.09,297.82 L676.19,298.33 L676.29,298.83 L676.38,299.33 L676.47,299.83 L676.56,300.33 L676.65,300.83 L676.74,301.33 L676.82,301.83 L676.90,302.34 L676.98,302.84 L677.06,303.34 L677.14,303.84 L677.21,304.34 L677.28,304.84 L677.34,305.34 L677.40,305.84 L677.46,306.35 L677.50,306.85 L677.55,307.35 L677.58,307.85 L677.62,308.35 L677.64,308.85 L677.66,309.35 L677.67,309.85 L677.68,310.36 L677.69,310.86 L677.70,311.36 L677.70,311.86 L677.70,312.36 L677.70,312.86 L677.70,313.36 L677.70,313.86 L677.70,314.37 L677.70,314.87 L677.70,315.37 L677.70,315.87 L677.70,316.37 L677.70,316.87 L677.70,317.37 L677.69,317.87 L677.69,318.38 L677.68,318.88 L677.67,319.38 L677.66,319.88 L677.64,320.38 L677.62,320.88 L677.59,321.38 L677.55,321.88 L677.51,322.39 L677.46,322.89 L677.41,323.39 L677.35,323.89 L677.29,324.39 L677.22,324.89 L677.16,325.39 L677.09,325.89 L677.02,326.40 L676.96,326.90 L676.90,327.40 L676.85,327.90 L676.80,328.40 L628.00,328.40 L627.95,327.90 L627.90,327.40 L627.84,326.90 L627.78,326.40 L627.71,325.89 L627.64,325.39 L627.58,324.89 L627.51,324.39 L627.45,323.89 L627.39,323.39 L627.34,322.89 L627.29,322.39 L627.25,321.88 L627.21,321.38 L627.18,320.88 L627.16,320.38 L627.14,319.88 L627.13,319.38 L627.12,318.88 L627.11,318.38 L627.11,317.87 L627.10,317.37 L627.10,316.87 L627.10,316.37 L627.10,315.87 L627.10,315.37 L627.10,314.87 L627.10,314.37 L627.10,313.86 L627.10,313.36 L627.10,312.86 L627.10,312.36 L627.10,311.86 L627.10,311.36 L627.11,310.86 L627.12,310.36 L627.13,309.85 L627.14,309.35 L627.16,308.85 L627.18,308.35 L627.22,307.85 L627.25,307.35 L627.30,306.85 L627.34,306.35 L627.40,305.84 L627.46,305.34 L627.52,304.84 L627.59,304.34 L627.66,303.84 L627.74,303.34 L627.82,302.84 L627.90,302.34 L627.98,301.83 L628.06,301.33 L628.15,300.83 L628.24,300.33 L628.33,299.83 L628.42,299.33 L628.51,298.83 L628.61,298.33 L628.71,297.82 L628.82,297.32 L628.93,296.82 L629.04,296.32 L629.17,295.82 L629.29,295.32 L629.42,294.82 L629.56,294.32 L629.70,293.81 L629.85,293.31 L630.00,292.81 L630.15,292.31 L630.31,291.81 L630.47,291.31 L630.63,290.81 L630.80,290.31 L630.97,289.80 L631.14,289.30 L631.31,288.80 L631.48,288.30 L631.66,287.80 L631.85,287.30 L632.03,286.80 L632.22,286.30 L632.42,285.79 L632.62,285.29 L632.83,284.79 L633.04,284.29 L633.26,283.79 L633.48,283.29 L633.70,282.79 L633.93,282.29 L634.16,281.78 L634.39,281.28 L634.62,280.78 L634.86,280.28 L635.09,279.78 L635.32,279.28 L635.56,278.78 L635.79,278.28 L636.02,277.77 L636.25,277.27 L636.48,276.77 L636.71,276.27 L636.94,275.77 L637.17,275.27 L637.40,274.77 L637.62,274.27 L637.85,273.76 L638.08,273.26 L638.31,272.76 L638.54,272.26 L638.76,271.76 L638.99,271.26 L639.21,270.76 L639.43,270.26 L639.65,269.75 L639.86,269.25 L640.07,268.75 L640.28,268.25 L640.48,267.75 L640.67,267.25 L640.85,266.75 L641.03,266.25 L641.19,265.74 L641.33,265.24 L641.46,264.74 L641.57,264.24 L641.67,263.74 L641.76,263.24 L641.85,262.74 L641.93,262.24 L642.00,261.73 L642.08,261.23 L642.16,260.73 L642.24,260.23 L642.32,259.73 L642.41,259.23 L642.49,258.73 L642.58,258.23 L642.67,257.72 L642.76,257.22 L642.85,256.72 L642.93,256.22 L643.02,255.72 L643.11,255.22 L643.20,254.72 L643.29,254.22 L643.38,253.71 L643.47,253.21 L643.56,252.71 L643.65,252.21 L643.74,251.71 L643.83,251.21 L643.92,250.71 L644.01,250.21 L644.10,249.70 L644.19,249.20 L644.27,248.70 L644.35,248.20 L644.43,247.70 L644.51,247.20 L644.58,246.70 L644.65,246.20 L644.71,245.69 L644.77,245.19 L644.82,244.69 L644.87,244.19 L644.91,243.69 L644.96,243.19 L645.00,242.69 L645.04,242.19 L645.07,241.68 L645.11,241.18 L645.14,240.68 L645.17,240.18 L645.20,239.68 L645.23,239.18 L645.25,238.68 L645.27,238.18 L645.29,237.67 L645.31,237.17 L645.32,236.67 L645.33,236.17 L645.34,235.67 L645.35,235.17 L645.36,234.67 L645.36,234.17 L645.37,233.66 L645.37,233.16 L645.38,232.66 L645.38,232.16 L645.39,231.66 L645.39,231.16 L645.39,230.66 L645.40,230.16 L645.40,229.65 L645.40,229.15 L645.40,228.65 L645.41,228.15 L645.41,227.65 L645.41,227.15 L645.41,226.65 L645.42,226.15 L645.42,225.64 L645.42,225.14 L645.42,224.64 L645.42,224.14 L645.43,223.64 L645.43,223.14 L645.43,222.64 L645.43,222.14 L645.44,221.63 L645.44,221.13 L645.44,220.63 L645.45,220.13 L645.45,219.63 L645.45,219.13 L645.46,218.63 L645.46,218.13 L645.46,217.62 L645.47,217.12 L645.47,216.62 L645.48,216.12 L645.48,215.62 L645.48,215.12 L645.49,214.62 L645.49,214.12 L645.50,213.61 L645.50,213.11 L645.50,212.61 L645.51,212.11 L645.51,211.61 L645.52,211.11 L645.52,210.61 L645.53,210.11 L645.53,209.60 L645.53,209.10 L645.54,208.60 L645.54,208.10 L645.54,207.60Z" fill="#b5c8e1" stroke="#3f3f3f" stroke-width="1.05" stroke-linejoin="round"/>
<line x1="652.40" y1="305.00" x2="652.40" y2="325.60" stroke="#3f3f3f" stroke-width="1.6"/>
<rect x="650.20" y="305.00" width="4.4" height="20.60" fill="#3f3f3f"/>
<rect x="650.40" y="308.55" width="4.0" height="1.3" fill="#eeeeee"/>
<rect x="555.5" y="201.5" width="128.0" height="133.0" fill="none" stroke="#1e1e1e" stroke-width="0.95"/>
<line x1="552.5" y1="211.3" x2="555.5" y2="211.3" stroke="#222" stroke-width="0.85"/>
<text x="544.73" y="214.50" textLength="4.85" lengthAdjust="spacingAndGlyphs" font-size="8.45">6</text>
<line x1="552.5" y1="232" x2="555.5" y2="232" stroke="#222" stroke-width="0.85"/>
<text x="545.11" y="235.20" textLength="4.43" lengthAdjust="spacingAndGlyphs" font-size="8.45">5</text>
<line x1="552.5" y1="252.7" x2="555.5" y2="252.7" stroke="#222" stroke-width="0.85"/>
<text x="544.76" y="255.90" textLength="4.69" lengthAdjust="spacingAndGlyphs" font-size="8.45">4</text>
<line x1="552.5" y1="273.4" x2="555.5" y2="273.4" stroke="#222" stroke-width="0.85"/>
<text x="545.05" y="276.60" textLength="4.50" lengthAdjust="spacingAndGlyphs" font-size="8.45">3</text>
<line x1="552.5" y1="294" x2="555.5" y2="294" stroke="#222" stroke-width="0.85"/>
<text x="545.09" y="297.20" textLength="4.52" lengthAdjust="spacingAndGlyphs" font-size="8.45">2</text>
<line x1="552.5" y1="314.7" x2="555.5" y2="314.7" stroke="#222" stroke-width="0.85"/>
<text x="545.11" y="317.90" textLength="4.48" lengthAdjust="spacingAndGlyphs" font-size="8.45">1</text>
<line x1="587.9" y1="334.5" x2="587.9" y2="337.5" stroke="#222" stroke-width="0.85"/>
<text x="567.65" y="346.70" textLength="40.73" lengthAdjust="spacingAndGlyphs" font-size="8.45">Automatic</text>
<line x1="652" y1="334.5" x2="652" y2="337.5" stroke="#222" stroke-width="0.85"/>
<text x="637.51" y="346.70" textLength="28.84" lengthAdjust="spacingAndGlyphs" font-size="8.45">Manual</text>
<text x="591.40" y="357.60" textLength="56.15" lengthAdjust="spacingAndGlyphs" font-size="8.45">Gearbox Type</text>
<text transform="translate(539.30 268.20) rotate(-90)" font-size="8.6" font-style="italic" text-anchor="middle">γ<tspan font-size="6" dy="1.6">s</tspan></text>
<path d="M69.38,411.60 L69.50,412.10 L69.65,412.60 L69.82,413.10 L70.00,413.61 L70.19,414.11 L70.39,414.61 L70.59,415.11 L70.78,415.61 L70.97,416.11 L71.16,416.61 L71.35,417.12 L71.53,417.62 L71.71,418.12 L71.88,418.62 L72.05,419.12 L72.22,419.62 L72.38,420.13 L72.54,420.63 L72.70,421.13 L72.85,421.63 L73.00,422.13 L73.15,422.63 L73.30,423.13 L73.44,423.64 L73.58,424.14 L73.71,424.64 L73.85,425.14 L73.98,425.64 L74.10,426.14 L74.23,426.64 L74.35,427.15 L74.48,427.65 L74.60,428.15 L74.72,428.65 L74.84,429.15 L74.95,429.65 L75.07,430.15 L75.18,430.66 L75.28,431.16 L75.38,431.66 L75.48,432.16 L75.57,432.66 L75.65,433.16 L75.72,433.67 L75.79,434.17 L75.85,434.67 L75.90,435.17 L75.94,435.67 L75.98,436.17 L76.02,436.67 L76.05,437.18 L76.08,437.68 L76.10,438.18 L76.13,438.68 L76.15,439.18 L76.17,439.68 L76.18,440.18 L76.20,440.69 L76.21,441.19 L76.22,441.69 L76.22,442.19 L76.22,442.69 L76.21,443.19 L76.19,443.69 L76.16,444.20 L76.13,444.70 L76.09,445.20 L76.04,445.70 L75.99,446.20 L75.93,446.70 L75.87,447.21 L75.81,447.71 L75.76,448.21 L75.70,448.71 L75.65,449.21 L75.60,449.71 L75.56,450.21 L75.53,450.72 L75.49,451.22 L75.47,451.72 L75.44,452.22 L75.42,452.72 L75.40,453.22 L75.38,453.72 L75.36,454.23 L75.34,454.73 L75.33,455.23 L75.31,455.73 L75.30,456.23 L75.29,456.73 L75.28,457.23 L75.27,457.74 L75.27,458.24 L75.26,458.74 L75.26,459.24 L75.26,459.74 L75.27,460.24 L75.27,460.75 L75.28,461.25 L75.29,461.75 L75.30,462.25 L75.32,462.75 L75.34,463.25 L75.36,463.75 L75.38,464.26 L75.41,464.76 L75.43,465.26 L75.46,465.76 L75.49,466.26 L75.53,466.76 L75.57,467.26 L75.62,467.77 L75.68,468.27 L75.75,468.77 L75.83,469.27 L75.93,469.77 L76.04,470.27 L76.18,470.77 L76.32,471.28 L76.49,471.78 L76.67,472.28 L76.86,472.78 L77.06,473.28 L77.27,473.78 L77.48,474.28 L77.70,474.79 L77.91,475.29 L78.13,475.79 L78.34,476.29 L78.56,476.79 L78.78,477.29 L78.99,477.80 L79.21,478.30 L79.43,478.80 L79.66,479.30 L79.88,479.80 L80.11,480.30 L80.34,480.80 L80.57,481.31 L80.80,481.81 L81.03,482.31 L81.26,482.81 L81.48,483.31 L81.70,483.81 L81.91,484.31 L82.11,484.82 L82.31,485.32 L82.51,485.82 L82.70,486.32 L82.89,486.82 L83.07,487.32 L83.25,487.82 L83.43,488.33 L83.61,488.83 L83.78,489.33 L83.95,489.83 L84.11,490.33 L84.27,490.83 L84.42,491.34 L84.56,491.84 L84.69,492.34 L84.82,492.84 L84.93,493.34 L85.04,493.84 L85.13,494.34 L85.22,494.85 L85.30,495.35 L85.37,495.85 L85.43,496.35 L85.49,496.85 L85.55,497.35 L85.60,497.85 L85.65,498.36 L85.69,498.86 L85.72,499.36 L85.75,499.86 L85.77,500.36 L85.79,500.86 L85.79,501.36 L85.78,501.87 L85.76,502.37 L85.73,502.87 L85.68,503.37 L85.62,503.87 L85.55,504.37 L85.46,504.88 L85.37,505.38 L85.26,505.88 L85.14,506.38 L85.01,506.88 L84.88,507.38 L84.74,507.88 L84.59,508.39 L84.44,508.89 L84.28,509.39 L84.11,509.89 L83.94,510.39 L83.76,510.89 L83.57,511.39 L83.37,511.90 L83.16,512.40 L82.93,512.90 L82.69,513.40 L82.44,513.90 L82.17,514.40 L81.90,514.90 L81.61,515.41 L81.32,515.91 L81.03,516.41 L80.73,516.91 L80.43,517.41 L80.13,517.91 L79.84,518.42 L79.54,518.92 L79.24,519.42 L78.95,519.92 L78.66,520.42 L78.37,520.92 L78.09,521.42 L77.80,521.93 L77.51,522.43 L77.22,522.93 L76.93,523.43 L76.64,523.93 L76.35,524.43 L76.05,524.93 L75.76,525.44 L75.46,525.94 L75.17,526.44 L74.87,526.94 L74.58,527.44 L74.30,527.94 L74.03,528.44 L73.78,528.95 L73.56,529.45 L73.37,529.95 L73.29,530.20 L48.41,530.20 L48.33,529.95 L48.14,529.45 L47.92,528.95 L47.67,528.44 L47.40,527.94 L47.12,527.44 L46.83,526.94 L46.53,526.44 L46.24,525.94 L45.94,525.44 L45.65,524.93 L45.35,524.43 L45.06,523.93 L44.77,523.43 L44.48,522.93 L44.19,522.43 L43.90,521.93 L43.61,521.42 L43.33,520.92 L43.04,520.42 L42.75,519.92 L42.46,519.42 L42.16,518.92 L41.86,518.42 L41.57,517.91 L41.27,517.41 L40.97,516.91 L40.67,516.41 L40.38,515.91 L40.09,515.41 L39.80,514.90 L39.53,514.40 L39.26,513.90 L39.01,513.40 L38.77,512.90 L38.54,512.40 L38.33,511.90 L38.13,511.39 L37.94,510.89 L37.76,510.39 L37.59,509.89 L37.42,509.39 L37.26,508.89 L37.11,508.39 L36.96,507.88 L36.82,507.38 L36.69,506.88 L36.56,506.38 L36.44,505.88 L36.33,505.38 L36.24,504.88 L36.15,504.37 L36.08,503.87 L36.02,503.37 L35.97,502.87 L35.94,502.37 L35.92,501.87 L35.91,501.36 L35.91,500.86 L35.93,500.36 L35.95,499.86 L35.98,499.36 L36.01,498.86 L36.05,498.36 L36.10,497.85 L36.15,497.35 L36.21,496.85 L36.27,496.35 L36.33,495.85 L36.40,495.35 L36.48,494.85 L36.57,494.34 L36.66,493.84 L36.77,493.34 L36.88,492.84 L37.01,492.34 L37.14,491.84 L37.28,491.34 L37.43,490.83 L37.59,490.33 L37.75,489.83 L37.92,489.33 L38.09,488.83 L38.27,488.33 L38.45,487.82 L38.63,487.32 L38.81,486.82 L39.00,486.32 L39.19,485.82 L39.39,485.32 L39.59,484.82 L39.79,484.31 L40.00,483.81 L40.22,483.31 L40.44,482.81 L40.67,482.31 L40.90,481.81 L41.13,481.31 L41.36,480.80 L41.59,480.30 L41.82,479.80 L42.04,479.30 L42.27,478.80 L42.49,478.30 L42.71,477.80 L42.92,477.29 L43.14,476.79 L43.36,476.29 L43.57,475.79 L43.79,475.29 L44.00,474.79 L44.22,474.28 L44.43,473.78 L44.64,473.28 L44.84,472.78 L45.03,472.28 L45.21,471.78 L45.38,471.28 L45.52,470.77 L45.66,470.27 L45.77,469.77 L45.87,469.27 L45.95,468.77 L46.02,468.27 L46.08,467.77 L46.13,467.26 L46.17,466.76 L46.21,466.26 L46.24,465.76 L46.27,465.26 L46.29,464.76 L46.32,464.26 L46.34,463.75 L46.36,463.25 L46.38,462.75 L46.40,462.25 L46.41,461.75 L46.42,461.25 L46.43,460.75 L46.43,460.24 L46.44,459.74 L46.44,459.24 L46.44,458.74 L46.43,458.24 L46.43,457.74 L46.42,457.23 L46.41,456.73 L46.40,456.23 L46.39,455.73 L46.37,455.23 L46.36,454.73 L46.34,454.23 L46.32,453.72 L46.30,453.22 L46.28,452.72 L46.26,452.22 L46.23,451.72 L46.21,451.22 L46.17,450.72 L46.14,450.21 L46.10,449.71 L46.05,449.21 L46.00,448.71 L45.94,448.21 L45.89,447.71 L45.83,447.21 L45.77,446.70 L45.71,446.20 L45.66,445.70 L45.61,445.20 L45.57,444.70 L45.54,444.20 L45.51,443.69 L45.49,443.19 L45.48,442.69 L45.48,442.19 L45.48,441.69 L45.49,441.19 L45.50,440.69 L45.52,440.18 L45.53,439.68 L45.55,439.18 L45.57,438.68 L45.60,438.18 L45.62,437.68 L45.65,437.18 L45.68,436.67 L45.72,436.17 L45.76,435.67 L45.80,435.17 L45.85,434.67 L45.91,434.17 L45.98,433.67 L46.05,433.16 L46.13,432.66 L46.22,432.16 L46.32,431.66 L46.42,431.16 L46.52,430.66 L46.63,430.15 L46.75,429.65 L46.86,429.15 L46.98,428.65 L47.10,428.15 L47.22,427.65 L47.35,427.15 L47.47,426.64 L47.60,426.14 L47.72,425.64 L47.85,425.14 L47.99,424.64 L48.12,424.14 L48.26,423.64 L48.40,423.13 L48.55,422.63 L48.70,422.13 L48.85,421.63 L49.00,421.13 L49.16,420.63 L49.32,420.13 L49.48,419.62 L49.65,419.12 L49.82,418.62 L49.99,418.12 L50.17,417.62 L50.35,417.12 L50.54,416.61 L50.73,416.11 L50.92,415.61 L51.11,415.11 L51.31,414.61 L51.51,414.11 L51.70,413.61 L51.88,413.10 L52.05,412.60 L52.20,412.10 L52.32,411.60Z" fill="#3274a1" stroke="#3f3f3f" stroke-width="1.05" stroke-linejoin="round"/>
<line x1="60.85" y1="411.80" x2="60.85" y2="529.40" stroke="#3f3f3f" stroke-width="1.6"/>
<rect x="58.65" y="445.10" width="4.4" height="63.30" fill="#3f3f3f"/>
<rect x="58.85" y="492.15" width="4.0" height="1.3" fill="#eeeeee"/>
<path d="M142.49,492.20 L142.79,492.70 L143.14,493.21 L143.54,493.71 L143.96,494.21 L144.40,494.72 L144.83,495.22 L145.25,495.72 L145.65,496.23 L146.03,496.73 L146.39,497.23 L146.72,497.74 L147.04,498.24 L147.34,498.74 L147.63,499.25 L147.90,499.75 L148.15,500.25 L148.39,500.76 L148.61,501.26 L148.80,501.76 L148.97,502.27 L149.11,502.77 L149.22,503.27 L149.31,503.78 L149.37,504.28 L149.40,504.78 L149.42,505.28 L149.42,505.79 L149.40,506.29 L149.38,506.79 L149.34,507.30 L149.29,507.80 L149.23,508.30 L149.15,508.81 L149.05,509.31 L148.93,509.81 L148.78,510.32 L148.62,510.82 L148.43,511.32 L148.23,511.83 L148.01,512.33 L147.77,512.83 L147.53,513.34 L147.28,513.84 L147.02,514.34 L146.75,514.85 L146.48,515.35 L146.20,515.85 L145.91,516.36 L145.62,516.86 L145.31,517.36 L145.00,517.87 L144.68,518.37 L144.36,518.87 L144.03,519.38 L143.70,519.88 L143.37,520.38 L143.04,520.89 L142.72,521.39 L142.40,521.89 L142.08,522.40 L141.76,522.90 L141.45,523.40 L141.14,523.91 L140.83,524.41 L140.53,524.91 L140.22,525.42 L139.92,525.92 L139.62,526.42 L139.32,526.93 L139.03,527.43 L138.74,527.93 L138.46,528.44 L138.19,528.94 L137.95,529.44 L137.73,529.95 L137.55,530.45 L137.47,530.70 L111.23,530.70 L111.15,530.45 L110.97,529.95 L110.75,529.44 L110.51,528.94 L110.24,528.44 L109.96,527.93 L109.67,527.43 L109.38,526.93 L109.08,526.42 L108.78,525.92 L108.48,525.42 L108.17,524.91 L107.87,524.41 L107.56,523.91 L107.25,523.40 L106.94,522.90 L106.62,522.40 L106.30,521.89 L105.98,521.39 L105.66,520.89 L105.33,520.38 L105.00,519.88 L104.67,519.38 L104.34,518.87 L104.02,518.37 L103.70,517.87 L103.39,517.36 L103.08,516.86 L102.79,516.36 L102.50,515.85 L102.22,515.35 L101.95,514.85 L101.68,514.34 L101.42,513.84 L101.17,513.34 L100.93,512.83 L100.69,512.33 L100.47,511.83 L100.27,511.32 L100.08,510.82 L99.92,510.32 L99.77,509.81 L99.65,509.31 L99.55,508.81 L99.47,508.30 L99.41,507.80 L99.36,507.30 L99.32,506.79 L99.30,506.29 L99.28,505.79 L99.28,505.28 L99.30,504.78 L99.33,504.28 L99.39,503.78 L99.48,503.27 L99.59,502.77 L99.73,502.27 L99.90,501.76 L100.09,501.26 L100.31,500.76 L100.55,500.25 L100.80,499.75 L101.07,499.25 L101.36,498.74 L101.66,498.24 L101.98,497.74 L102.31,497.23 L102.67,496.73 L103.05,496.23 L103.45,495.72 L103.87,495.22 L104.30,494.72 L104.74,494.21 L105.16,493.71 L105.56,493.21 L105.91,492.70 L106.21,492.20Z" fill="#b5c8e1" stroke="#3f3f3f" stroke-width="1.05" stroke-linejoin="round"/>
<line x1="124.35" y1="492.10" x2="124.35" y2="530.50" stroke="#3f3f3f" stroke-width="1.6"/>
<rect x="122.15" y="500.00" width="4.4" height="17.50" fill="#3f3f3f"/>
<rect x="122.35" y="507.65" width="4.0" height="1.3" fill="#eeeeee"/>
<rect x="28.5" y="405.5" width="128.0" height="131.0" fill="none" stroke="#1e1e1e" stroke-width="0.95"/>
<line x1="25.5" y1="423.4" x2="28.5" y2="423.4" stroke="#222" stroke-width="0.85"/>
<text x="10.06" y="426.60" textLength="12.40" lengthAdjust="spacingAndGlyphs" font-size="8.45">2.4</text>
<line x1="25.5" y1="442.36" x2="28.5" y2="442.36" stroke="#222" stroke-width="0.85"/>
<text x="10.42" y="445.56" textLength="12.22" lengthAdjust="spacingAndGlyphs" font-size="8.45">2.2</text>
<line x1="25.5" y1="461.32" x2="28.5" y2="461.32" stroke="#222" stroke-width="0.85"/>
<text x="10.15" y="464.52" textLength="12.40" lengthAdjust="spacingAndGlyphs" font-size="8.45">2.0</text>
<line x1="25.5" y1="480.28" x2="28.5" y2="480.28" stroke="#222" stroke-width="0.85"/>
<text x="10.23" y="483.48" textLength="12.36" lengthAdjust="spacingAndGlyphs" font-size="8.45">1.8</text>
<line x1="25.5" y1="499.24" x2="28.5" y2="499.24" stroke="#222" stroke-width="0.85"/>
<text x="10.18" y="502.44" textLength="12.41" lengthAdjust="spacingAndGlyphs" font-size="8.45">1.6</text>
<line x1="25.5" y1="518.2" x2="28.5" y2="518.2" stroke="#222" stroke-width="0.85"/>
<text x="10.13" y="521.40" textLength="12.33" lengthAdjust="spacingAndGlyphs" font-size="8.45">1.4</text>
<line x1="60.6" y1="536.5" x2="60.6" y2="539.5" stroke="#222" stroke-width="0.85"/>
<text x="51.47" y="548.70" textLength="17.91" lengthAdjust="spacingAndGlyphs" font-size="8.45">ICES</text>
<line x1="124.4" y1="536.5" x2="124.4" y2="539.5" stroke="#222" stroke-width="0.85"/>
<text x="109.48" y="548.70" textLength="29.33" lengthAdjust="spacingAndGlyphs" font-size="8.45">Electric</text>
<text x="67.59" y="559.60" textLength="49.49" lengthAdjust="spacingAndGlyphs" font-size="8.45">Engine Type</text>
<text transform="translate(4.50 471.00) rotate(-90)" font-size="8.6" font-style="italic" text-anchor="middle">σ<tspan font-size="6" dy="1.6">v</tspan></text>
<path d="M247.83,411.60 L247.96,412.10 L248.10,412.60 L248.27,413.10 L248.45,413.60 L248.65,414.11 L248.84,414.61 L249.03,415.11 L249.23,415.61 L249.41,416.11 L249.59,416.61 L249.76,417.11 L249.92,417.61 L250.08,418.11 L250.23,418.61 L250.37,419.12 L250.50,419.62 L250.62,420.12 L250.74,420.62 L250.85,421.12 L250.95,421.62 L251.06,422.12 L251.15,422.62 L251.25,423.12 L251.34,423.63 L251.43,424.13 L251.51,424.63 L251.60,425.13 L251.67,425.63 L251.75,426.13 L251.82,426.63 L251.89,427.13 L251.96,427.63 L252.02,428.13 L252.08,428.64 L252.14,429.14 L252.20,429.64 L252.25,430.14 L252.30,430.64 L252.34,431.14 L252.39,431.64 L252.43,432.14 L252.47,432.64 L252.51,433.15 L252.54,433.65 L252.58,434.15 L252.61,434.65 L252.64,435.15 L252.68,435.65 L252.71,436.15 L252.74,436.65 L252.76,437.15 L252.79,437.65 L252.82,438.16 L252.84,438.66 L252.87,439.16 L252.89,439.66 L252.92,440.16 L252.94,440.66 L252.96,441.16 L252.98,441.66 L253.00,442.16 L253.02,442.67 L253.04,443.17 L253.06,443.67 L253.07,444.17 L253.09,444.67 L253.10,445.17 L253.12,445.67 L253.13,446.17 L253.15,446.67 L253.16,447.17 L253.17,447.68 L253.19,448.18 L253.20,448.68 L253.22,449.18 L253.23,449.68 L253.25,450.18 L253.27,450.68 L253.29,451.18 L253.31,451.68 L253.33,452.19 L253.35,452.69 L253.38,453.19 L253.41,453.69 L253.44,454.19 L253.47,454.69 L253.50,455.19 L253.54,455.69 L253.58,456.19 L253.62,456.69 L253.67,457.20 L253.71,457.70 L253.76,458.20 L253.81,458.70 L253.85,459.20 L253.90,459.70 L253.95,460.20 L254.00,460.70 L254.05,461.20 L254.10,461.71 L254.15,462.21 L254.20,462.71 L254.25,463.21 L254.30,463.71 L254.35,464.21 L254.40,464.71 L254.46,465.21 L254.52,465.71 L254.58,466.21 L254.64,466.72 L254.72,467.22 L254.79,467.72 L254.88,468.22 L254.97,468.72 L255.08,469.22 L255.19,469.72 L255.30,470.22 L255.43,470.72 L255.56,471.23 L255.70,471.73 L255.85,472.23 L256.00,472.73 L256.15,473.23 L256.31,473.73 L256.47,474.23 L256.63,474.73 L256.79,475.23 L256.95,475.73 L257.11,476.24 L257.27,476.74 L257.43,477.24 L257.60,477.74 L257.76,478.24 L257.93,478.74 L258.10,479.24 L258.27,479.74 L258.44,480.24 L258.61,480.75 L258.78,481.25 L258.95,481.75 L259.12,482.25 L259.28,482.75 L259.44,483.25 L259.60,483.75 L259.75,484.25 L259.89,484.75 L260.03,485.25 L260.17,485.76 L260.30,486.26 L260.43,486.76 L260.55,487.26 L260.68,487.76 L260.80,488.26 L260.92,488.76 L261.04,489.26 L261.15,489.76 L261.27,490.27 L261.37,490.77 L261.48,491.27 L261.57,491.77 L261.66,492.27 L261.75,492.77 L261.82,493.27 L261.89,493.77 L261.94,494.27 L261.98,494.77 L262.02,495.28 L262.04,495.78 L262.06,496.28 L262.07,496.78 L262.07,497.28 L262.07,497.78 L262.07,498.28 L262.06,498.78 L262.05,499.28 L262.03,499.79 L262.02,500.29 L262.00,500.79 L261.98,501.29 L261.96,501.79 L261.93,502.29 L261.90,502.79 L261.86,503.29 L261.81,503.79 L261.75,504.29 L261.68,504.80 L261.59,505.30 L261.49,505.80 L261.37,506.30 L261.23,506.80 L261.07,507.30 L260.90,507.80 L260.71,508.30 L260.52,508.80 L260.32,509.31 L260.11,509.81 L259.90,510.31 L259.68,510.81 L259.47,511.31 L259.25,511.81 L259.04,512.31 L258.83,512.81 L258.62,513.31 L258.41,513.81 L258.20,514.32 L257.98,514.82 L257.77,515.32 L257.55,515.82 L257.33,516.32 L257.11,516.82 L256.89,517.32 L256.67,517.82 L256.45,518.32 L256.22,518.83 L256.00,519.33 L255.78,519.83 L255.56,520.33 L255.35,520.83 L255.14,521.33 L254.93,521.83 L254.72,522.33 L254.51,522.83 L254.31,523.33 L254.11,523.84 L253.91,524.34 L253.72,524.84 L253.52,525.34 L253.33,525.84 L253.13,526.34 L252.95,526.84 L252.76,527.34 L252.58,527.84 L252.40,528.35 L252.23,528.85 L252.08,529.35 L251.94,529.85 L251.83,530.35 L251.78,530.60 L222.42,530.60 L222.37,530.35 L222.26,529.85 L222.12,529.35 L221.97,528.85 L221.80,528.35 L221.62,527.84 L221.44,527.34 L221.25,526.84 L221.07,526.34 L220.87,525.84 L220.68,525.34 L220.48,524.84 L220.29,524.34 L220.09,523.84 L219.89,523.33 L219.69,522.83 L219.48,522.33 L219.27,521.83 L219.06,521.33 L218.85,520.83 L218.64,520.33 L218.42,519.83 L218.20,519.33 L217.98,518.83 L217.75,518.32 L217.53,517.82 L217.31,517.32 L217.09,516.82 L216.87,516.32 L216.65,515.82 L216.43,515.32 L216.22,514.82 L216.00,514.32 L215.79,513.81 L215.58,513.31 L215.37,512.81 L215.16,512.31 L214.95,511.81 L214.73,511.31 L214.52,510.81 L214.30,510.31 L214.09,509.81 L213.88,509.31 L213.68,508.80 L213.49,508.30 L213.30,507.80 L213.13,507.30 L212.97,506.80 L212.83,506.30 L212.71,505.80 L212.61,505.30 L212.52,504.80 L212.45,504.29 L212.39,503.79 L212.34,503.29 L212.30,502.79 L212.27,502.29 L212.24,501.79 L212.22,501.29 L212.20,500.79 L212.18,500.29 L212.17,499.79 L212.15,499.28 L212.14,498.78 L212.13,498.28 L212.13,497.78 L212.13,497.28 L212.13,496.78 L212.14,496.28 L212.16,495.78 L212.18,495.28 L212.22,494.77 L212.26,494.27 L212.31,493.77 L212.38,493.27 L212.45,492.77 L212.54,492.27 L212.63,491.77 L212.72,491.27 L212.83,490.77 L212.93,490.27 L213.05,489.76 L213.16,489.26 L213.28,488.76 L213.40,488.26 L213.52,487.76 L213.65,487.26 L213.77,486.76 L213.90,486.26 L214.03,485.76 L214.17,485.25 L214.31,484.75 L214.45,484.25 L214.60,483.75 L214.76,483.25 L214.92,482.75 L215.08,482.25 L215.25,481.75 L215.42,481.25 L215.59,480.75 L215.76,480.24 L215.93,479.74 L216.10,479.24 L216.27,478.74 L216.44,478.24 L216.60,477.74 L216.77,477.24 L216.93,476.74 L217.09,476.24 L217.25,475.73 L217.41,475.23 L217.57,474.73 L217.73,474.23 L217.89,473.73 L218.05,473.23 L218.20,472.73 L218.35,472.23 L218.50,471.73 L218.64,471.23 L218.77,470.72 L218.90,470.22 L219.01,469.72 L219.12,469.22 L219.23,468.72 L219.32,468.22 L219.41,467.72 L219.48,467.22 L219.56,466.72 L219.62,466.21 L219.68,465.71 L219.74,465.21 L219.80,464.71 L219.85,464.21 L219.90,463.71 L219.95,463.21 L220.00,462.71 L220.05,462.21 L220.10,461.71 L220.15,461.20 L220.20,460.70 L220.25,460.20 L220.30,459.70 L220.35,459.20 L220.39,458.70 L220.44,458.20 L220.49,457.70 L220.53,457.20 L220.58,456.69 L220.62,456.19 L220.66,455.69 L220.70,455.19 L220.73,454.69 L220.76,454.19 L220.79,453.69 L220.82,453.19 L220.85,452.69 L220.87,452.19 L220.89,451.68 L220.91,451.18 L220.93,450.68 L220.95,450.18 L220.97,449.68 L220.98,449.18 L221.00,448.68 L221.01,448.18 L221.03,447.68 L221.04,447.17 L221.05,446.67 L221.07,446.17 L221.08,445.67 L221.10,445.17 L221.11,444.67 L221.13,444.17 L221.14,443.67 L221.16,443.17 L221.18,442.67 L221.20,442.16 L221.22,441.66 L221.24,441.16 L221.26,440.66 L221.28,440.16 L221.31,439.66 L221.33,439.16 L221.36,438.66 L221.38,438.16 L221.41,437.65 L221.44,437.15 L221.46,436.65 L221.49,436.15 L221.52,435.65 L221.56,435.15 L221.59,434.65 L221.62,434.15 L221.66,433.65 L221.69,433.15 L221.73,432.64 L221.77,432.14 L221.81,431.64 L221.86,431.14 L221.90,430.64 L221.95,430.14 L222.00,429.64 L222.06,429.14 L222.12,428.64 L222.18,428.13 L222.24,427.63 L222.31,427.13 L222.38,426.63 L222.45,426.13 L222.53,425.63 L222.60,425.13 L222.69,424.63 L222.77,424.13 L222.86,423.63 L222.95,423.12 L223.05,422.62 L223.14,422.12 L223.25,421.62 L223.35,421.12 L223.46,420.62 L223.58,420.12 L223.70,419.62 L223.83,419.12 L223.97,418.61 L224.12,418.11 L224.28,417.61 L224.44,417.11 L224.61,416.61 L224.79,416.11 L224.97,415.61 L225.17,415.11 L225.36,414.61 L225.55,414.11 L225.75,413.60 L225.93,413.10 L226.10,412.60 L226.24,412.10 L226.37,411.60Z" fill="#3274a1" stroke="#3f3f3f" stroke-width="1.05" stroke-linejoin="round"/>
<line x1="237.10" y1="413.00" x2="237.10" y2="528.90" stroke="#3f3f3f" stroke-width="1.6"/>
<rect x="234.90" y="449.10" width="4.4" height="59.30" fill="#3f3f3f"/>
<rect x="235.10" y="493.85" width="4.0" height="1.3" fill="#eeeeee"/>
<path d="M314.68,428.20 L314.73,428.70 L314.80,429.20 L314.87,429.70 L314.95,430.21 L315.04,430.71 L315.13,431.21 L315.22,431.71 L315.30,432.21 L315.39,432.71 L315.47,433.21 L315.54,433.71 L315.62,434.22 L315.68,434.72 L315.75,435.22 L315.80,435.72 L315.86,436.22 L315.90,436.72 L315.94,437.22 L315.98,437.72 L316.00,438.23 L316.03,438.73 L316.05,439.23 L316.07,439.73 L316.08,440.23 L316.09,440.73 L316.10,441.23 L316.11,441.73 L316.12,442.24 L316.13,442.74 L316.13,443.24 L316.14,443.74 L316.14,444.24 L316.15,444.74 L316.15,445.24 L316.16,445.74 L316.17,446.25 L316.17,446.75 L316.18,447.25 L316.18,447.75 L316.19,448.25 L316.20,448.75 L316.21,449.25 L316.22,449.75 L316.23,450.26 L316.24,450.76 L316.25,451.26 L316.27,451.76 L316.29,452.26 L316.31,452.76 L316.34,453.26 L316.36,453.76 L316.39,454.27 L316.43,454.77 L316.46,455.27 L316.50,455.77 L316.54,456.27 L316.59,456.77 L316.64,457.27 L316.69,457.77 L316.74,458.28 L316.80,458.78 L316.85,459.28 L316.91,459.78 L316.98,460.28 L317.04,460.78 L317.11,461.28 L317.18,461.78 L317.25,462.29 L317.32,462.79 L317.39,463.29 L317.47,463.79 L317.55,464.29 L317.63,464.79 L317.72,465.29 L317.81,465.79 L317.91,466.30 L318.02,466.80 L318.13,467.30 L318.26,467.80 L318.39,468.30 L318.54,468.80 L318.70,469.30 L318.86,469.80 L319.03,470.31 L319.21,470.81 L319.40,471.31 L319.59,471.81 L319.79,472.31 L319.99,472.81 L320.19,473.31 L320.39,473.81 L320.58,474.32 L320.78,474.82 L320.98,475.32 L321.16,475.82 L321.35,476.32 L321.53,476.82 L321.70,477.32 L321.86,477.82 L322.02,478.33 L322.18,478.83 L322.33,479.33 L322.47,479.83 L322.62,480.33 L322.76,480.83 L322.90,481.33 L323.05,481.83 L323.19,482.34 L323.33,482.84 L323.48,483.34 L323.62,483.84 L323.76,484.34 L323.90,484.84 L324.03,485.34 L324.16,485.84 L324.29,486.35 L324.41,486.85 L324.53,487.35 L324.64,487.85 L324.75,488.35 L324.84,488.85 L324.94,489.35 L325.02,489.85 L325.09,490.36 L325.16,490.86 L325.22,491.36 L325.27,491.86 L325.30,492.36 L325.33,492.86 L325.35,493.36 L325.36,493.86 L325.37,494.37 L325.36,494.87 L325.36,495.37 L325.34,495.87 L325.32,496.37 L325.30,496.87 L325.28,497.37 L325.25,497.87 L325.22,498.38 L325.19,498.88 L325.15,499.38 L325.11,499.88 L325.07,500.38 L325.03,500.88 L324.98,501.38 L324.93,501.88 L324.87,502.39 L324.80,502.89 L324.72,503.39 L324.63,503.89 L324.53,504.39 L324.42,504.89 L324.29,505.39 L324.15,505.89 L323.99,506.40 L323.82,506.90 L323.64,507.40 L323.45,507.90 L323.25,508.40 L323.04,508.90 L322.82,509.40 L322.60,509.90 L322.37,510.41 L322.14,510.91 L321.90,511.41 L321.67,511.91 L321.43,512.41 L321.19,512.91 L320.96,513.41 L320.72,513.91 L320.49,514.42 L320.26,514.92 L320.04,515.42 L319.81,515.92 L319.59,516.42 L319.37,516.92 L319.14,517.42 L318.92,517.92 L318.70,518.43 L318.47,518.93 L318.24,519.43 L318.01,519.93 L317.78,520.43 L317.54,520.93 L317.31,521.43 L317.07,521.93 L316.83,522.44 L316.59,522.94 L316.34,523.44 L316.10,523.94 L315.85,524.44 L315.61,524.94 L315.37,525.44 L315.13,525.94 L314.90,526.45 L314.69,526.95 L314.50,527.45 L314.35,527.95 L314.28,528.20 L286.52,528.20 L286.45,527.95 L286.30,527.45 L286.11,526.95 L285.90,526.45 L285.67,525.94 L285.43,525.44 L285.19,524.94 L284.95,524.44 L284.70,523.94 L284.46,523.44 L284.21,522.94 L283.97,522.44 L283.73,521.93 L283.49,521.43 L283.26,520.93 L283.02,520.43 L282.79,519.93 L282.56,519.43 L282.33,518.93 L282.10,518.43 L281.88,517.92 L281.66,517.42 L281.43,516.92 L281.21,516.42 L280.99,515.92 L280.76,515.42 L280.54,514.92 L280.31,514.42 L280.08,513.91 L279.84,513.41 L279.61,512.91 L279.37,512.41 L279.13,511.91 L278.90,511.41 L278.66,510.91 L278.43,510.41 L278.20,509.90 L277.98,509.40 L277.76,508.90 L277.55,508.40 L277.35,507.90 L277.16,507.40 L276.98,506.90 L276.81,506.40 L276.65,505.89 L276.51,505.39 L276.38,504.89 L276.27,504.39 L276.17,503.89 L276.08,503.39 L276.00,502.89 L275.93,502.39 L275.87,501.88 L275.82,501.38 L275.77,500.88 L275.73,500.38 L275.69,499.88 L275.65,499.38 L275.61,498.88 L275.58,498.38 L275.55,497.87 L275.52,497.37 L275.50,496.87 L275.48,496.37 L275.46,495.87 L275.44,495.37 L275.44,494.87 L275.43,494.37 L275.44,493.86 L275.45,493.36 L275.47,492.86 L275.50,492.36 L275.53,491.86 L275.58,491.36 L275.64,490.86 L275.71,490.36 L275.78,489.85 L275.86,489.35 L275.96,488.85 L276.05,488.35 L276.16,487.85 L276.27,487.35 L276.39,486.85 L276.51,486.35 L276.64,485.84 L276.77,485.34 L276.90,484.84 L277.04,484.34 L277.18,483.84 L277.32,483.34 L277.47,482.84 L277.61,482.34 L277.75,481.83 L277.90,481.33 L278.04,480.83 L278.18,480.33 L278.33,479.83 L278.47,479.33 L278.62,478.83 L278.78,478.33 L278.94,477.82 L279.10,477.32 L279.27,476.82 L279.45,476.32 L279.64,475.82 L279.82,475.32 L280.02,474.82 L280.22,474.32 L280.41,473.81 L280.61,473.31 L280.81,472.81 L281.01,472.31 L281.21,471.81 L281.40,471.31 L281.59,470.81 L281.77,470.31 L281.94,469.80 L282.10,469.30 L282.26,468.80 L282.41,468.30 L282.54,467.80 L282.67,467.30 L282.78,466.80 L282.89,466.30 L282.99,465.79 L283.08,465.29 L283.17,464.79 L283.25,464.29 L283.33,463.79 L283.41,463.29 L283.48,462.79 L283.55,462.29 L283.62,461.78 L283.69,461.28 L283.76,460.78 L283.82,460.28 L283.89,459.78 L283.95,459.28 L284.00,458.78 L284.06,458.28 L284.11,457.77 L284.16,457.27 L284.21,456.77 L284.26,456.27 L284.30,455.77 L284.34,455.27 L284.37,454.77 L284.41,454.27 L284.44,453.76 L284.46,453.26 L284.49,452.76 L284.51,452.26 L284.53,451.76 L284.55,451.26 L284.56,450.76 L284.57,450.26 L284.58,449.75 L284.59,449.25 L284.60,448.75 L284.61,448.25 L284.62,447.75 L284.62,447.25 L284.63,446.75 L284.63,446.25 L284.64,445.74 L284.65,445.24 L284.65,444.74 L284.66,444.24 L284.66,443.74 L284.67,443.24 L284.67,442.74 L284.68,442.24 L284.69,441.73 L284.70,441.23 L284.71,440.73 L284.72,440.23 L284.73,439.73 L284.75,439.23 L284.77,438.73 L284.80,438.23 L284.82,437.72 L284.86,437.22 L284.90,436.72 L284.94,436.22 L285.00,435.72 L285.05,435.22 L285.12,434.72 L285.18,434.22 L285.26,433.71 L285.33,433.21 L285.41,432.71 L285.50,432.21 L285.58,431.71 L285.67,431.21 L285.76,430.71 L285.85,430.21 L285.93,429.70 L286.00,429.20 L286.07,428.70 L286.12,428.20Z" fill="#b5c8e1" stroke="#3f3f3f" stroke-width="1.05" stroke-linejoin="round"/>
<line x1="300.40" y1="430.00" x2="300.40" y2="526.80" stroke="#3f3f3f" stroke-width="1.6"/>
<rect x="298.20" y="442.00" width="4.4" height="63.70" fill="#3f3f3f"/>
<rect x="298.40" y="487.05" width="4.0" height="1.3" fill="#eeeeee"/>
<rect x="205.5" y="405.5" width="127.0" height="131.0" fill="none" stroke="#1e1e1e" stroke-width="0.95"/>
<line x1="202.5" y1="423.4" x2="205.5" y2="423.4" stroke="#222" stroke-width="0.85"/>
<text x="187.06" y="426.60" textLength="12.40" lengthAdjust="spacingAndGlyphs" font-size="8.45">2.4</text>
<line x1="202.5" y1="442.36" x2="205.5" y2="442.36" stroke="#222" stroke-width="0.85"/>
<text x="187.42" y="445.56" textLength="12.22" lengthAdjust="spacingAndGlyphs" font-size="8.45">2.2</text>
<line x1="202.5" y1="461.32" x2="205.5" y2="461.32" stroke="#222" stroke-width="0.85"/>
<text x="187.15" y="464.52" textLength="12.40" lengthAdjust="spacingAndGlyphs" font-size="8.45">2.0</text>
<line x1="202.5" y1="480.28" x2="205.5" y2="480.28" stroke="#222" stroke-width="0.85"/>
<text x="187.23" y="483.48" textLength="12.36" lengthAdjust="spacingAndGlyphs" font-size="8.45">1.8</text>
<line x1="202.5" y1="499.24" x2="205.5" y2="499.24" stroke="#222" stroke-width="0.85"/>
<text x="187.18" y="502.44" textLength="12.41" lengthAdjust="spacingAndGlyphs" font-size="8.45">1.6</text>
<line x1="202.5" y1="518.2" x2="205.5" y2="518.2" stroke="#222" stroke-width="0.85"/>
<text x="187.13" y="521.40" textLength="12.33" lengthAdjust="spacingAndGlyphs" font-size="8.45">1.4</text>
<line x1="236.7" y1="536.5" x2="236.7" y2="539.5" stroke="#222" stroke-width="0.85"/>
<text x="216.45" y="548.70" textLength="40.73" lengthAdjust="spacingAndGlyphs" font-size="8.45">Automatic</text>
<line x1="300.5" y1="536.5" x2="300.5" y2="539.5" stroke="#222" stroke-width="0.85"/>
<text x="286.01" y="548.70" textLength="28.84" lengthAdjust="spacingAndGlyphs" font-size="8.45">Manual</text>
<text x="240.90" y="559.60" textLength="56.15" lengthAdjust="spacingAndGlyphs" font-size="8.45">Gearbox Type</text>
<text transform="translate(180.80 471.00) rotate(-90)" font-size="8.6" font-style="italic" text-anchor="middle">σ<tspan font-size="6" dy="1.6">v</tspan></text>
<path d="M417.33,411.60 L417.37,412.10 L417.42,412.60 L417.47,413.11 L417.53,413.61 L417.60,414.11 L417.66,414.61 L417.73,415.11 L417.81,415.61 L417.88,416.12 L417.96,416.62 L418.03,417.12 L418.11,417.62 L418.19,418.12 L418.27,418.62 L418.35,419.13 L418.43,419.63 L418.51,420.13 L418.59,420.63 L418.67,421.13 L418.76,421.63 L418.84,422.14 L418.93,422.64 L419.02,423.14 L419.10,423.64 L419.19,424.14 L419.28,424.64 L419.38,425.15 L419.47,425.65 L419.56,426.15 L419.66,426.65 L419.76,427.15 L419.86,427.66 L419.96,428.16 L420.07,428.66 L420.18,429.16 L420.29,429.66 L420.40,430.16 L420.52,430.67 L420.64,431.17 L420.76,431.67 L420.89,432.17 L421.02,432.67 L421.15,433.17 L421.29,433.68 L421.44,434.18 L421.58,434.68 L421.74,435.18 L421.89,435.68 L422.05,436.18 L422.21,436.69 L422.37,437.19 L422.54,437.69 L422.71,438.19 L422.88,438.69 L423.05,439.19 L423.23,439.70 L423.41,440.20 L423.60,440.70 L423.79,441.20 L423.98,441.70 L424.17,442.21 L424.37,442.71 L424.58,443.21 L424.78,443.71 L424.99,444.21 L425.21,444.71 L425.42,445.22 L425.64,445.72 L425.86,446.22 L426.07,446.72 L426.30,447.22 L426.52,447.72 L426.74,448.23 L426.97,448.73 L427.20,449.23 L427.43,449.73 L427.66,450.23 L427.90,450.73 L428.14,451.24 L428.38,451.74 L428.62,452.24 L428.86,452.74 L429.10,453.24 L429.34,453.74 L429.58,454.25 L429.82,454.75 L430.05,455.25 L430.29,455.75 L430.51,456.25 L430.74,456.76 L430.96,457.26 L431.18,457.76 L431.39,458.26 L431.60,458.76 L431.81,459.26 L432.02,459.77 L432.22,460.27 L432.42,460.77 L432.62,461.27 L432.82,461.77 L433.01,462.27 L433.21,462.78 L433.40,463.28 L433.60,463.78 L433.79,464.28 L433.98,464.78 L434.17,465.28 L434.36,465.79 L434.55,466.29 L434.74,466.79 L434.92,467.29 L435.11,467.79 L435.30,468.29 L435.48,468.80 L435.67,469.30 L435.87,469.80 L436.06,470.30 L436.27,470.80 L436.47,471.31 L436.69,471.81 L436.90,472.31 L437.11,472.81 L437.31,473.31 L437.49,473.81 L437.66,474.32 L437.80,474.82 L437.93,475.32 L438.03,475.82 L438.11,476.32 L438.18,476.82 L438.24,477.33 L438.29,477.83 L438.33,478.33 L438.36,478.83 L438.37,479.33 L438.38,479.83 L438.37,480.34 L438.35,480.84 L438.31,481.34 L438.26,481.84 L438.19,482.34 L438.10,482.84 L438.00,483.35 L437.88,483.85 L437.76,484.35 L437.62,484.85 L437.48,485.35 L437.33,485.86 L437.17,486.36 L437.01,486.86 L436.84,487.36 L436.68,487.86 L436.50,488.36 L436.32,488.87 L436.14,489.37 L435.94,489.87 L435.74,490.37 L435.53,490.87 L435.32,491.37 L435.09,491.88 L434.86,492.38 L434.63,492.88 L434.39,493.38 L434.14,493.88 L433.89,494.38 L433.65,494.89 L433.40,495.39 L433.15,495.89 L432.90,496.39 L432.65,496.89 L432.40,497.39 L432.15,497.90 L431.90,498.40 L431.65,498.90 L431.40,499.40 L431.14,499.90 L430.88,500.41 L430.63,500.91 L430.37,501.41 L430.11,501.91 L429.85,502.41 L429.59,502.91 L429.34,503.42 L429.08,503.92 L428.83,504.42 L428.58,504.92 L428.34,505.42 L428.09,505.92 L427.85,506.43 L427.61,506.93 L427.37,507.43 L427.13,507.93 L426.90,508.43 L426.66,508.93 L426.43,509.44 L426.20,509.94 L425.97,510.44 L425.74,510.94 L425.52,511.44 L425.30,511.94 L425.09,512.45 L424.88,512.95 L424.68,513.45 L424.48,513.95 L424.29,514.45 L424.10,514.96 L423.92,515.46 L423.74,515.96 L423.56,516.46 L423.39,516.96 L423.22,517.46 L423.06,517.97 L422.89,518.47 L422.73,518.97 L422.57,519.47 L422.42,519.97 L422.27,520.47 L422.12,520.98 L421.97,521.48 L421.82,521.98 L421.68,522.48 L421.54,522.98 L421.41,523.48 L421.28,523.99 L421.15,524.49 L421.03,524.99 L420.92,525.49 L420.81,525.99 L420.71,526.49 L420.62,527.00 L420.54,527.50 L420.48,528.00 L405.92,528.00 L405.86,527.50 L405.78,527.00 L405.69,526.49 L405.59,525.99 L405.48,525.49 L405.37,524.99 L405.25,524.49 L405.12,523.99 L404.99,523.48 L404.86,522.98 L404.72,522.48 L404.58,521.98 L404.43,521.48 L404.28,520.98 L404.13,520.47 L403.98,519.97 L403.83,519.47 L403.67,518.97 L403.51,518.47 L403.34,517.97 L403.18,517.46 L403.01,516.96 L402.84,516.46 L402.66,515.96 L402.48,515.46 L402.30,514.96 L402.11,514.45 L401.92,513.95 L401.72,513.45 L401.52,512.95 L401.31,512.45 L401.10,511.94 L400.88,511.44 L400.66,510.94 L400.43,510.44 L400.20,509.94 L399.97,509.44 L399.74,508.93 L399.50,508.43 L399.27,507.93 L399.03,507.43 L398.79,506.93 L398.55,506.43 L398.31,505.92 L398.06,505.42 L397.82,504.92 L397.57,504.42 L397.32,503.92 L397.06,503.42 L396.81,502.91 L396.55,502.41 L396.29,501.91 L396.03,501.41 L395.77,500.91 L395.52,500.41 L395.26,499.90 L395.00,499.40 L394.75,498.90 L394.50,498.40 L394.25,497.90 L394.00,497.39 L393.75,496.89 L393.50,496.39 L393.25,495.89 L393.00,495.39 L392.75,494.89 L392.51,494.38 L392.26,493.88 L392.01,493.38 L391.77,492.88 L391.54,492.38 L391.31,491.88 L391.08,491.37 L390.87,490.87 L390.66,490.37 L390.46,489.87 L390.26,489.37 L390.08,488.87 L389.90,488.36 L389.72,487.86 L389.56,487.36 L389.39,486.86 L389.23,486.36 L389.07,485.86 L388.92,485.35 L388.78,484.85 L388.64,484.35 L388.52,483.85 L388.40,483.35 L388.30,482.84 L388.21,482.34 L388.14,481.84 L388.09,481.34 L388.05,480.84 L388.03,480.34 L388.02,479.83 L388.03,479.33 L388.04,478.83 L388.07,478.33 L388.11,477.83 L388.16,477.33 L388.22,476.82 L388.29,476.32 L388.37,475.82 L388.47,475.32 L388.60,474.82 L388.74,474.32 L388.91,473.81 L389.09,473.31 L389.29,472.81 L389.50,472.31 L389.71,471.81 L389.93,471.31 L390.13,470.80 L390.34,470.30 L390.53,469.80 L390.73,469.30 L390.92,468.80 L391.10,468.29 L391.29,467.79 L391.48,467.29 L391.66,466.79 L391.85,466.29 L392.04,465.79 L392.23,465.28 L392.42,464.78 L392.61,464.28 L392.80,463.78 L393.00,463.28 L393.19,462.78 L393.39,462.27 L393.58,461.77 L393.78,461.27 L393.98,460.77 L394.18,460.27 L394.38,459.77 L394.59,459.26 L394.80,458.76 L395.01,458.26 L395.22,457.76 L395.44,457.26 L395.66,456.76 L395.89,456.25 L396.11,455.75 L396.35,455.25 L396.58,454.75 L396.82,454.25 L397.06,453.74 L397.30,453.24 L397.54,452.74 L397.78,452.24 L398.02,451.74 L398.26,451.24 L398.50,450.73 L398.74,450.23 L398.97,449.73 L399.20,449.23 L399.43,448.73 L399.66,448.23 L399.88,447.72 L400.10,447.22 L400.33,446.72 L400.54,446.22 L400.76,445.72 L400.98,445.22 L401.19,444.71 L401.41,444.21 L401.62,443.71 L401.82,443.21 L402.03,442.71 L402.23,442.21 L402.42,441.70 L402.61,441.20 L402.80,440.70 L402.99,440.20 L403.17,439.70 L403.35,439.19 L403.52,438.69 L403.69,438.19 L403.86,437.69 L404.03,437.19 L404.19,436.69 L404.35,436.18 L404.51,435.68 L404.66,435.18 L404.82,434.68 L404.96,434.18 L405.11,433.68 L405.25,433.17 L405.38,432.67 L405.51,432.17 L405.64,431.67 L405.76,431.17 L405.88,430.67 L406.00,430.16 L406.11,429.66 L406.22,429.16 L406.33,428.66 L406.44,428.16 L406.54,427.66 L406.64,427.15 L406.74,426.65 L406.84,426.15 L406.93,425.65 L407.02,425.15 L407.12,424.64 L407.21,424.14 L407.30,423.64 L407.38,423.14 L407.47,422.64 L407.56,422.14 L407.64,421.63 L407.73,421.13 L407.81,420.63 L407.89,420.13 L407.97,419.63 L408.05,419.13 L408.13,418.62 L408.21,418.12 L408.29,417.62 L408.37,417.12 L408.44,416.62 L408.52,416.12 L408.59,415.61 L408.67,415.11 L408.74,414.61 L408.80,414.11 L408.87,413.61 L408.93,413.11 L408.98,412.60 L409.03,412.10 L409.07,411.60Z" fill="#3274a1" stroke="#3f3f3f" stroke-width="1.05" stroke-linejoin="round"/>
<line x1="413.20" y1="411.80" x2="413.20" y2="527.90" stroke="#3f3f3f" stroke-width="1.6"/>
<rect x="411.00" y="457.80" width="4.4" height="38.90" fill="#3f3f3f"/>
<rect x="411.20" y="478.85" width="4.0" height="1.3" fill="#eeeeee"/>
<path d="M486.46,465.00 L486.48,465.50 L486.52,466.01 L486.56,466.51 L486.60,467.01 L486.65,467.52 L486.70,468.02 L486.76,468.52 L486.82,469.03 L486.88,469.53 L486.95,470.03 L487.02,470.54 L487.08,471.04 L487.16,471.54 L487.23,472.05 L487.31,472.55 L487.38,473.06 L487.47,473.56 L487.55,474.06 L487.64,474.57 L487.73,475.07 L487.82,475.57 L487.92,476.08 L488.02,476.58 L488.12,477.08 L488.23,477.59 L488.34,478.09 L488.45,478.59 L488.56,479.10 L488.68,479.60 L488.80,480.10 L488.93,480.61 L489.05,481.11 L489.18,481.61 L489.31,482.12 L489.45,482.62 L489.59,483.12 L489.74,483.63 L489.89,484.13 L490.05,484.63 L490.21,485.14 L490.37,485.64 L490.54,486.14 L490.72,486.65 L490.90,487.15 L491.08,487.66 L491.27,488.16 L491.46,488.66 L491.65,489.17 L491.84,489.67 L492.03,490.17 L492.23,490.68 L492.42,491.18 L492.62,491.68 L492.82,492.19 L493.01,492.69 L493.21,493.19 L493.42,493.70 L493.62,494.20 L493.83,494.70 L494.04,495.21 L494.25,495.71 L494.46,496.21 L494.67,496.72 L494.89,497.22 L495.10,497.72 L495.32,498.23 L495.53,498.73 L495.75,499.23 L495.96,499.74 L496.17,500.24 L496.38,500.74 L496.59,501.25 L496.79,501.75 L496.99,502.26 L497.19,502.76 L497.40,503.26 L497.60,503.77 L497.80,504.27 L498.00,504.77 L498.21,505.28 L498.41,505.78 L498.62,506.28 L498.82,506.79 L499.02,507.29 L499.21,507.79 L499.40,508.30 L499.58,508.80 L499.75,509.30 L499.92,509.81 L500.07,510.31 L500.22,510.81 L500.35,511.32 L500.47,511.82 L500.57,512.32 L500.67,512.83 L500.76,513.33 L500.84,513.83 L500.92,514.34 L500.99,514.84 L501.05,515.34 L501.11,515.85 L501.17,516.35 L501.23,516.86 L501.28,517.36 L501.32,517.86 L501.37,518.37 L501.41,518.87 L501.44,519.37 L501.46,519.88 L501.48,520.38 L501.50,520.88 L501.50,521.39 L501.50,521.89 L501.49,522.39 L501.47,522.90 L501.43,523.40 L501.39,523.90 L501.33,524.41 L501.27,524.91 L501.19,525.41 L501.11,525.92 L501.01,526.42 L500.91,526.92 L500.80,527.43 L500.68,527.93 L500.56,528.43 L500.44,528.94 L500.33,529.44 L500.22,529.94 L500.13,530.45 L500.09,530.70 L453.11,530.70 L453.07,530.45 L452.98,529.94 L452.87,529.44 L452.76,528.94 L452.64,528.43 L452.52,527.93 L452.40,527.43 L452.29,526.92 L452.19,526.42 L452.09,525.92 L452.01,525.41 L451.93,524.91 L451.87,524.41 L451.81,523.90 L451.77,523.40 L451.73,522.90 L451.71,522.39 L451.70,521.89 L451.70,521.39 L451.70,520.88 L451.72,520.38 L451.74,519.88 L451.76,519.37 L451.79,518.87 L451.83,518.37 L451.88,517.86 L451.92,517.36 L451.97,516.86 L452.03,516.35 L452.09,515.85 L452.15,515.34 L452.21,514.84 L452.28,514.34 L452.36,513.83 L452.44,513.33 L452.53,512.83 L452.63,512.32 L452.73,511.82 L452.85,511.32 L452.98,510.81 L453.13,510.31 L453.28,509.81 L453.45,509.30 L453.62,508.80 L453.80,508.30 L453.99,507.79 L454.18,507.29 L454.38,506.79 L454.58,506.28 L454.79,505.78 L454.99,505.28 L455.20,504.77 L455.40,504.27 L455.60,503.77 L455.80,503.26 L456.01,502.76 L456.21,502.26 L456.41,501.75 L456.61,501.25 L456.82,500.74 L457.03,500.24 L457.24,499.74 L457.45,499.23 L457.67,498.73 L457.88,498.23 L458.10,497.72 L458.31,497.22 L458.53,496.72 L458.74,496.21 L458.95,495.71 L459.16,495.21 L459.37,494.70 L459.58,494.20 L459.78,493.70 L459.99,493.19 L460.19,492.69 L460.38,492.19 L460.58,491.68 L460.78,491.18 L460.97,490.68 L461.17,490.17 L461.36,489.67 L461.55,489.17 L461.74,488.66 L461.93,488.16 L462.12,487.66 L462.30,487.15 L462.48,486.65 L462.66,486.14 L462.83,485.64 L462.99,485.14 L463.15,484.63 L463.31,484.13 L463.46,483.63 L463.61,483.12 L463.75,482.62 L463.89,482.12 L464.02,481.61 L464.15,481.11 L464.27,480.61 L464.40,480.10 L464.52,479.60 L464.64,479.10 L464.75,478.59 L464.86,478.09 L464.97,477.59 L465.08,477.08 L465.18,476.58 L465.28,476.08 L465.38,475.57 L465.47,475.07 L465.56,474.57 L465.65,474.06 L465.73,473.56 L465.82,473.06 L465.89,472.55 L465.97,472.05 L466.04,471.54 L466.12,471.04 L466.18,470.54 L466.25,470.03 L466.32,469.53 L466.38,469.03 L466.44,468.52 L466.50,468.02 L466.55,467.52 L466.60,467.01 L466.64,466.51 L466.68,466.01 L466.72,465.50 L466.74,465.00Z" fill="#b5c8e1" stroke="#3f3f3f" stroke-width="1.05" stroke-linejoin="round"/>
<line x1="476.60" y1="466.90" x2="476.60" y2="530.00" stroke="#3f3f3f" stroke-width="1.6"/>
<rect x="474.40" y="499.20" width="4.4" height="29.00" fill="#3f3f3f"/>
<rect x="474.60" y="517.85" width="4.0" height="1.3" fill="#eeeeee"/>
<rect x="381.5" y="405.5" width="127.0" height="131.0" fill="none" stroke="#1e1e1e" stroke-width="0.95"/>
<line x1="378.5" y1="407.2" x2="381.5" y2="407.2" stroke="#222" stroke-width="0.85"/>
<text x="363.18" y="410.40" textLength="12.41" lengthAdjust="spacingAndGlyphs" font-size="8.45">1.6</text>
<line x1="378.5" y1="435.95" x2="381.5" y2="435.95" stroke="#222" stroke-width="0.85"/>
<text x="363.13" y="439.15" textLength="12.33" lengthAdjust="spacingAndGlyphs" font-size="8.45">1.4</text>
<line x1="378.5" y1="464.7" x2="381.5" y2="464.7" stroke="#222" stroke-width="0.85"/>
<text x="363.49" y="467.90" textLength="12.15" lengthAdjust="spacingAndGlyphs" font-size="8.45">1.2</text>
<line x1="378.5" y1="493.45" x2="381.5" y2="493.45" stroke="#222" stroke-width="0.85"/>
<text x="363.21" y="496.65" textLength="12.34" lengthAdjust="spacingAndGlyphs" font-size="8.45">1.0</text>
<line x1="378.5" y1="522.2" x2="381.5" y2="522.2" stroke="#222" stroke-width="0.85"/>
<text x="363.20" y="525.40" textLength="12.38" lengthAdjust="spacingAndGlyphs" font-size="8.45">0.8</text>
<line x1="413.2" y1="536.5" x2="413.2" y2="539.5" stroke="#222" stroke-width="0.85"/>
<text x="404.07" y="548.70" textLength="17.91" lengthAdjust="spacingAndGlyphs" font-size="8.45">ICES</text>
<line x1="476.6" y1="536.5" x2="476.6" y2="539.5" stroke="#222" stroke-width="0.85"/>
<text x="461.68" y="548.70" textLength="29.33" lengthAdjust="spacingAndGlyphs" font-size="8.45">Electric</text>
<text x="420.09" y="559.60" textLength="49.49" lengthAdjust="spacingAndGlyphs" font-size="8.45">Engine Type</text>
<g transform="translate(357.80 471.00) rotate(-90)"><text x="-60.83" y="0.00" textLength="121.24" lengthAdjust="spacingAndGlyphs" font-size="8.45">Max. Amplitude of Oscillations</text></g>
<path d="M614.49,414.30 L614.48,414.80 L614.47,415.30 L614.44,415.81 L614.41,416.31 L614.37,416.81 L614.33,417.31 L614.28,417.81 L614.22,418.32 L614.16,418.82 L614.08,419.32 L613.98,419.82 L613.86,420.32 L613.72,420.83 L613.57,421.33 L613.40,421.83 L613.23,422.33 L613.05,422.83 L612.87,423.34 L612.70,423.84 L612.54,424.34 L612.40,424.84 L612.27,425.34 L612.16,425.85 L612.05,426.35 L611.95,426.85 L611.85,427.35 L611.76,427.85 L611.66,428.36 L611.57,428.86 L611.49,429.36 L611.41,429.86 L611.33,430.36 L611.27,430.87 L611.22,431.37 L611.17,431.87 L611.14,432.37 L611.13,432.87 L611.13,433.38 L611.15,433.88 L611.19,434.38 L611.25,434.88 L611.33,435.38 L611.42,435.89 L611.53,436.39 L611.63,436.89 L611.74,437.39 L611.85,437.89 L611.95,438.39 L612.05,438.90 L612.13,439.40 L612.20,439.90 L612.27,440.40 L612.33,440.90 L612.40,441.41 L612.45,441.91 L612.51,442.41 L612.56,442.91 L612.60,443.41 L612.64,443.92 L612.66,444.42 L612.67,444.92 L612.67,445.42 L612.63,445.92 L612.57,446.43 L612.48,446.93 L612.37,447.43 L612.23,447.93 L612.06,448.43 L611.88,448.94 L611.68,449.44 L611.47,449.94 L611.22,450.44 L610.94,450.94 L610.59,451.45 L610.18,451.95 L609.69,452.45 L609.14,452.95 L608.54,453.45 L607.91,453.96 L607.28,454.46 L606.65,454.96 L606.04,455.46 L605.46,455.96 L604.92,456.47 L604.40,456.97 L603.90,457.47 L603.41,457.97 L602.93,458.47 L602.46,458.98 L601.99,459.48 L601.53,459.98 L601.08,460.48 L600.63,460.98 L600.19,461.49 L599.75,461.99 L599.31,462.49 L598.87,462.99 L598.44,463.49 L598.03,464.00 L597.64,464.50 L597.27,465.00 L596.93,465.50 L596.62,466.00 L596.33,466.51 L596.06,467.01 L595.80,467.51 L595.55,468.01 L595.31,468.51 L595.08,469.02 L594.85,469.52 L594.62,470.02 L594.39,470.52 L594.16,471.02 L593.92,471.53 L593.67,472.03 L593.41,472.53 L593.13,473.03 L592.84,473.53 L592.55,474.04 L592.26,474.54 L591.97,475.04 L591.69,475.54 L591.43,476.04 L591.20,476.55 L590.99,477.05 L590.81,477.55 L590.67,478.05 L590.55,478.55 L590.44,479.06 L590.35,479.56 L590.26,480.06 L590.18,480.56 L590.11,481.06 L590.05,481.57 L589.99,482.07 L589.93,482.57 L589.88,483.07 L589.83,483.57 L589.79,484.07 L589.75,484.58 L589.70,485.08 L589.66,485.58 L589.63,486.08 L589.59,486.58 L589.56,487.09 L589.53,487.59 L589.50,488.09 L589.48,488.59 L589.47,489.09 L589.46,489.60 L589.45,490.10 L589.45,490.60 L589.45,491.10 L589.45,491.60 L589.45,492.11 L589.45,492.61 L589.45,493.11 L589.45,493.61 L589.45,494.11 L589.45,494.62 L589.45,495.12 L589.45,495.62 L589.45,496.12 L589.45,496.62 L589.45,497.13 L589.45,497.63 L589.45,498.13 L589.45,498.63 L589.45,499.13 L589.45,499.64 L589.46,500.14 L589.46,500.64 L589.48,501.14 L589.50,501.64 L589.52,502.15 L589.55,502.65 L589.58,503.15 L589.62,503.65 L589.66,504.15 L589.70,504.66 L589.74,505.16 L589.79,505.66 L589.83,506.16 L589.87,506.66 L589.92,507.17 L589.97,507.67 L590.02,508.17 L590.07,508.67 L590.13,509.17 L590.19,509.68 L590.25,510.18 L590.30,510.68 L590.35,511.18 L590.40,511.68 L590.44,512.19 L590.48,512.69 L590.52,513.19 L590.56,513.69 L590.59,514.19 L590.62,514.70 L590.66,515.20 L590.69,515.70 L590.72,516.20 L590.75,516.70 L590.77,517.21 L590.80,517.71 L590.83,518.21 L590.85,518.71 L590.87,519.21 L590.89,519.72 L590.91,520.22 L590.92,520.72 L590.94,521.22 L590.95,521.72 L590.96,522.23 L590.97,522.73 L590.98,523.23 L590.99,523.73 L591.00,524.23 L591.01,524.74 L591.02,525.24 L591.03,525.74 L591.03,526.24 L591.04,526.74 L591.04,527.25 L591.05,527.75 L591.05,528.25 L591.05,528.50 L587.75,528.50 L587.75,528.25 L587.75,527.75 L587.76,527.25 L587.76,526.74 L587.77,526.24 L587.77,525.74 L587.78,525.24 L587.79,524.74 L587.80,524.23 L587.81,523.73 L587.82,523.23 L587.83,522.73 L587.84,522.23 L587.85,521.72 L587.86,521.22 L587.88,520.72 L587.89,520.22 L587.91,519.72 L587.93,519.21 L587.95,518.71 L587.97,518.21 L588.00,517.71 L588.03,517.21 L588.05,516.70 L588.08,516.20 L588.11,515.70 L588.14,515.20 L588.18,514.70 L588.21,514.19 L588.24,513.69 L588.28,513.19 L588.32,512.69 L588.36,512.19 L588.40,511.68 L588.45,511.18 L588.50,510.68 L588.55,510.18 L588.61,509.68 L588.67,509.17 L588.73,508.67 L588.78,508.17 L588.83,507.67 L588.88,507.17 L588.93,506.66 L588.97,506.16 L589.01,505.66 L589.06,505.16 L589.10,504.66 L589.14,504.15 L589.18,503.65 L589.22,503.15 L589.25,502.65 L589.28,502.15 L589.30,501.64 L589.32,501.14 L589.34,500.64 L589.34,500.14 L589.35,499.64 L589.35,499.13 L589.35,498.63 L589.35,498.13 L589.35,497.63 L589.35,497.13 L589.35,496.62 L589.35,496.12 L589.35,495.62 L589.35,495.12 L589.35,494.62 L589.35,494.11 L589.35,493.61 L589.35,493.11 L589.35,492.61 L589.35,492.11 L589.35,491.60 L589.35,491.10 L589.35,490.60 L589.35,490.10 L589.34,489.60 L589.33,489.09 L589.32,488.59 L589.30,488.09 L589.27,487.59 L589.24,487.09 L589.21,486.58 L589.17,486.08 L589.14,485.58 L589.10,485.08 L589.05,484.58 L589.01,484.07 L588.97,483.57 L588.92,483.07 L588.87,482.57 L588.81,482.07 L588.75,481.57 L588.69,481.06 L588.62,480.56 L588.54,480.06 L588.45,479.56 L588.36,479.06 L588.25,478.55 L588.13,478.05 L587.99,477.55 L587.81,477.05 L587.60,476.55 L587.37,476.04 L587.11,475.54 L586.83,475.04 L586.54,474.54 L586.25,474.04 L585.96,473.53 L585.67,473.03 L585.39,472.53 L585.13,472.03 L584.88,471.53 L584.64,471.02 L584.41,470.52 L584.18,470.02 L583.95,469.52 L583.72,469.02 L583.49,468.51 L583.25,468.01 L583.00,467.51 L582.74,467.01 L582.47,466.51 L582.18,466.00 L581.87,465.50 L581.53,465.00 L581.16,464.50 L580.77,464.00 L580.36,463.49 L579.93,462.99 L579.49,462.49 L579.05,461.99 L578.61,461.49 L578.17,460.98 L577.72,460.48 L577.27,459.98 L576.81,459.48 L576.34,458.98 L575.87,458.47 L575.39,457.97 L574.90,457.47 L574.40,456.97 L573.88,456.47 L573.34,455.96 L572.76,455.46 L572.15,454.96 L571.52,454.46 L570.89,453.96 L570.26,453.45 L569.66,452.95 L569.11,452.45 L568.62,451.95 L568.21,451.45 L567.86,450.94 L567.58,450.44 L567.33,449.94 L567.12,449.44 L566.92,448.94 L566.74,448.43 L566.57,447.93 L566.43,447.43 L566.32,446.93 L566.23,446.43 L566.17,445.92 L566.13,445.42 L566.13,444.92 L566.14,444.42 L566.16,443.92 L566.20,443.41 L566.24,442.91 L566.29,442.41 L566.35,441.91 L566.40,441.41 L566.47,440.90 L566.53,440.40 L566.60,439.90 L566.67,439.40 L566.75,438.90 L566.85,438.39 L566.95,437.89 L567.06,437.39 L567.17,436.89 L567.27,436.39 L567.38,435.89 L567.47,435.38 L567.55,434.88 L567.61,434.38 L567.65,433.88 L567.67,433.38 L567.67,432.87 L567.66,432.37 L567.63,431.87 L567.58,431.37 L567.53,430.87 L567.47,430.36 L567.39,429.86 L567.31,429.36 L567.23,428.86 L567.14,428.36 L567.04,427.85 L566.95,427.35 L566.85,426.85 L566.75,426.35 L566.64,425.85 L566.53,425.34 L566.40,424.84 L566.26,424.34 L566.10,423.84 L565.93,423.34 L565.75,422.83 L565.57,422.33 L565.40,421.83 L565.23,421.33 L565.08,420.83 L564.94,420.32 L564.82,419.82 L564.72,419.32 L564.64,418.82 L564.58,418.32 L564.52,417.81 L564.47,417.31 L564.43,416.81 L564.39,416.31 L564.36,415.81 L564.33,415.30 L564.32,414.80 L564.31,414.30Z" fill="#3274a1" stroke="#3f3f3f" stroke-width="1.05" stroke-linejoin="round"/>
<line x1="589.40" y1="413.40" x2="589.40" y2="449.70" stroke="#3f3f3f" stroke-width="1.6"/>
<rect x="587.20" y="413.40" width="4.4" height="36.30" fill="#3f3f3f"/>
<rect x="587.40" y="430.65" width="4.0" height="1.3" fill="#eeeeee"/>
<path d="M676.52,411.50 L676.58,412.00 L676.64,412.50 L676.71,413.00 L676.78,413.51 L676.86,414.01 L676.94,414.51 L677.01,415.01 L677.08,415.51 L677.15,416.01 L677.22,416.51 L677.28,417.01 L677.33,417.52 L677.38,418.02 L677.43,418.52 L677.47,419.02 L677.51,419.52 L677.55,420.02 L677.58,420.52 L677.60,421.02 L677.63,421.53 L677.64,422.03 L677.66,422.53 L677.67,423.03 L677.67,423.53 L677.67,424.03 L677.67,424.53 L677.65,425.03 L677.64,425.54 L677.61,426.04 L677.58,426.54 L677.54,427.04 L677.50,427.54 L677.45,428.04 L677.39,428.54 L677.33,429.04 L677.27,429.55 L677.20,430.05 L677.13,430.55 L677.05,431.05 L676.97,431.55 L676.89,432.05 L676.80,432.55 L676.71,433.05 L676.62,433.56 L676.53,434.06 L676.44,434.56 L676.35,435.06 L676.26,435.56 L676.17,436.06 L676.08,436.56 L675.99,437.06 L675.90,437.57 L675.81,438.07 L675.73,438.57 L675.64,439.07 L675.56,439.57 L675.47,440.07 L675.39,440.57 L675.30,441.07 L675.22,441.58 L675.13,442.08 L675.05,442.58 L674.96,443.08 L674.87,443.58 L674.78,444.08 L674.69,444.58 L674.60,445.08 L674.50,445.59 L674.41,446.09 L674.32,446.59 L674.22,447.09 L674.13,447.59 L674.03,448.09 L673.93,448.59 L673.84,449.09 L673.74,449.60 L673.64,450.10 L673.55,450.60 L673.45,451.10 L673.35,451.60 L673.25,452.10 L673.15,452.60 L673.06,453.10 L672.96,453.61 L672.86,454.11 L672.77,454.61 L672.67,455.11 L672.57,455.61 L672.47,456.11 L672.38,456.61 L672.28,457.11 L672.18,457.62 L672.08,458.12 L671.99,458.62 L671.89,459.12 L671.79,459.62 L671.69,460.12 L671.59,460.62 L671.48,461.12 L671.38,461.63 L671.28,462.13 L671.18,462.63 L671.08,463.13 L670.97,463.63 L670.87,464.13 L670.77,464.63 L670.67,465.13 L670.56,465.64 L670.46,466.14 L670.36,466.64 L670.26,467.14 L670.16,467.64 L670.06,468.14 L669.96,468.64 L669.86,469.14 L669.76,469.65 L669.66,470.15 L669.56,470.65 L669.47,471.15 L669.37,471.65 L669.28,472.15 L669.18,472.65 L669.09,473.16 L669.00,473.66 L668.91,474.16 L668.82,474.66 L668.73,475.16 L668.65,475.66 L668.56,476.16 L668.47,476.66 L668.39,477.17 L668.31,477.67 L668.22,478.17 L668.14,478.67 L668.06,479.17 L667.98,479.67 L667.89,480.17 L667.81,480.67 L667.73,481.18 L667.65,481.68 L667.57,482.18 L667.49,482.68 L667.42,483.18 L667.34,483.68 L667.26,484.18 L667.18,484.68 L667.11,485.19 L667.03,485.69 L666.96,486.19 L666.88,486.69 L666.81,487.19 L666.73,487.69 L666.66,488.19 L666.58,488.69 L666.51,489.20 L666.44,489.70 L666.37,490.20 L666.30,490.70 L666.23,491.20 L666.16,491.70 L666.09,492.20 L666.02,492.70 L665.95,493.21 L665.88,493.71 L665.82,494.21 L665.75,494.71 L665.68,495.21 L665.62,495.71 L665.55,496.21 L665.49,496.71 L665.42,497.22 L665.36,497.72 L665.30,498.22 L665.23,498.72 L665.17,499.22 L665.11,499.72 L665.04,500.22 L664.98,500.72 L664.92,501.23 L664.86,501.73 L664.79,502.23 L664.73,502.73 L664.67,503.23 L664.61,503.73 L664.55,504.23 L664.49,504.73 L664.43,505.24 L664.37,505.74 L664.31,506.24 L664.26,506.74 L664.20,507.24 L664.15,507.74 L664.09,508.24 L664.04,508.74 L663.99,509.25 L663.93,509.75 L663.88,510.25 L663.84,510.75 L663.79,511.25 L663.74,511.75 L663.70,512.25 L663.65,512.75 L663.61,513.26 L663.57,513.76 L663.53,514.26 L663.49,514.76 L663.45,515.26 L663.42,515.76 L663.38,516.26 L663.35,516.76 L663.31,517.27 L663.28,517.77 L663.24,518.27 L663.21,518.77 L663.17,519.27 L663.14,519.77 L663.11,520.27 L663.08,520.77 L663.05,521.28 L663.02,521.78 L662.99,522.28 L662.96,522.78 L662.93,523.28 L662.90,523.78 L662.88,524.28 L662.85,524.78 L662.82,525.29 L662.80,525.79 L662.78,526.29 L662.75,526.79 L662.73,527.29 L662.71,527.79 L662.69,528.29 L662.67,528.79 L662.66,529.30 L662.64,529.80 L662.63,530.30 L662.62,530.80 L642.78,530.80 L642.77,530.30 L642.76,529.80 L642.74,529.30 L642.73,528.79 L642.71,528.29 L642.69,527.79 L642.67,527.29 L642.65,526.79 L642.62,526.29 L642.60,525.79 L642.58,525.29 L642.55,524.78 L642.52,524.28 L642.50,523.78 L642.47,523.28 L642.44,522.78 L642.41,522.28 L642.38,521.78 L642.35,521.28 L642.32,520.77 L642.29,520.27 L642.26,519.77 L642.23,519.27 L642.19,518.77 L642.16,518.27 L642.12,517.77 L642.09,517.27 L642.05,516.76 L642.02,516.26 L641.98,515.76 L641.95,515.26 L641.91,514.76 L641.87,514.26 L641.83,513.76 L641.79,513.26 L641.75,512.75 L641.70,512.25 L641.66,511.75 L641.61,511.25 L641.56,510.75 L641.52,510.25 L641.47,509.75 L641.41,509.25 L641.36,508.74 L641.31,508.24 L641.25,507.74 L641.20,507.24 L641.14,506.74 L641.09,506.24 L641.03,505.74 L640.97,505.24 L640.91,504.73 L640.85,504.23 L640.79,503.73 L640.73,503.23 L640.67,502.73 L640.61,502.23 L640.54,501.73 L640.48,501.23 L640.42,500.72 L640.36,500.22 L640.29,499.72 L640.23,499.22 L640.17,498.72 L640.10,498.22 L640.04,497.72 L639.98,497.22 L639.91,496.71 L639.85,496.21 L639.78,495.71 L639.72,495.21 L639.65,494.71 L639.58,494.21 L639.52,493.71 L639.45,493.21 L639.38,492.70 L639.31,492.20 L639.24,491.70 L639.17,491.20 L639.10,490.70 L639.03,490.20 L638.96,489.70 L638.89,489.20 L638.82,488.69 L638.74,488.19 L638.67,487.69 L638.59,487.19 L638.52,486.69 L638.44,486.19 L638.37,485.69 L638.29,485.19 L638.22,484.68 L638.14,484.18 L638.06,483.68 L637.98,483.18 L637.91,482.68 L637.83,482.18 L637.75,481.68 L637.67,481.18 L637.59,480.67 L637.51,480.17 L637.42,479.67 L637.34,479.17 L637.26,478.67 L637.18,478.17 L637.09,477.67 L637.01,477.17 L636.93,476.66 L636.84,476.16 L636.75,475.66 L636.67,475.16 L636.58,474.66 L636.49,474.16 L636.40,473.66 L636.31,473.16 L636.22,472.65 L636.12,472.15 L636.03,471.65 L635.93,471.15 L635.84,470.65 L635.74,470.15 L635.64,469.65 L635.54,469.14 L635.44,468.64 L635.34,468.14 L635.24,467.64 L635.14,467.14 L635.04,466.64 L634.94,466.14 L634.84,465.64 L634.73,465.13 L634.63,464.63 L634.53,464.13 L634.43,463.63 L634.32,463.13 L634.22,462.63 L634.12,462.13 L634.02,461.63 L633.92,461.12 L633.81,460.62 L633.71,460.12 L633.61,459.62 L633.51,459.12 L633.41,458.62 L633.32,458.12 L633.22,457.62 L633.12,457.11 L633.02,456.61 L632.93,456.11 L632.83,455.61 L632.73,455.11 L632.63,454.61 L632.54,454.11 L632.44,453.61 L632.34,453.10 L632.25,452.60 L632.15,452.10 L632.05,451.60 L631.95,451.10 L631.85,450.60 L631.76,450.10 L631.66,449.60 L631.56,449.09 L631.47,448.59 L631.37,448.09 L631.27,447.59 L631.18,447.09 L631.08,446.59 L630.99,446.09 L630.90,445.59 L630.80,445.08 L630.71,444.58 L630.62,444.08 L630.53,443.58 L630.44,443.08 L630.35,442.58 L630.27,442.08 L630.18,441.58 L630.10,441.07 L630.01,440.57 L629.93,440.07 L629.84,439.57 L629.76,439.07 L629.67,438.57 L629.59,438.07 L629.50,437.57 L629.41,437.06 L629.32,436.56 L629.23,436.06 L629.14,435.56 L629.05,435.06 L628.96,434.56 L628.87,434.06 L628.78,433.56 L628.69,433.05 L628.60,432.55 L628.51,432.05 L628.43,431.55 L628.35,431.05 L628.27,430.55 L628.20,430.05 L628.13,429.55 L628.07,429.04 L628.01,428.54 L627.95,428.04 L627.90,427.54 L627.86,427.04 L627.82,426.54 L627.79,426.04 L627.76,425.54 L627.75,425.03 L627.73,424.53 L627.73,424.03 L627.73,423.53 L627.73,423.03 L627.74,422.53 L627.76,422.03 L627.77,421.53 L627.80,421.02 L627.82,420.52 L627.85,420.02 L627.89,419.52 L627.93,419.02 L627.97,418.52 L628.02,418.02 L628.07,417.52 L628.12,417.01 L628.18,416.51 L628.25,416.01 L628.32,415.51 L628.39,415.01 L628.46,414.51 L628.54,414.01 L628.62,413.51 L628.69,413.00 L628.76,412.50 L628.82,412.00 L628.88,411.50Z" fill="#b5c8e1" stroke="#3f3f3f" stroke-width="1.05" stroke-linejoin="round"/>
<line x1="652.70" y1="413.50" x2="652.70" y2="527.60" stroke="#3f3f3f" stroke-width="1.6"/>
<rect x="650.50" y="413.50" width="4.4" height="55.90" fill="#3f3f3f"/>
<rect x="650.70" y="430.65" width="4.0" height="1.3" fill="#eeeeee"/>
<rect x="557.5" y="405.5" width="126.0" height="131.0" fill="none" stroke="#1e1e1e" stroke-width="0.95"/>
<line x1="554.5" y1="415.7" x2="557.5" y2="415.7" stroke="#222" stroke-width="0.85"/>
<text x="529.00" y="418.90" textLength="22.55" lengthAdjust="spacingAndGlyphs" font-size="8.45">0.050</text>
<line x1="554.5" y1="434.7" x2="557.5" y2="434.7" stroke="#222" stroke-width="0.85"/>
<text x="529.17" y="437.90" textLength="22.40" lengthAdjust="spacingAndGlyphs" font-size="8.45">0.045</text>
<line x1="554.5" y1="453.7" x2="557.5" y2="453.7" stroke="#222" stroke-width="0.85"/>
<text x="529.00" y="456.90" textLength="22.55" lengthAdjust="spacingAndGlyphs" font-size="8.45">0.040</text>
<line x1="554.5" y1="472.7" x2="557.5" y2="472.7" stroke="#222" stroke-width="0.85"/>
<text x="529.17" y="475.90" textLength="22.40" lengthAdjust="spacingAndGlyphs" font-size="8.45">0.035</text>
<line x1="554.5" y1="491.7" x2="557.5" y2="491.7" stroke="#222" stroke-width="0.85"/>
<text x="529.00" y="494.90" textLength="22.55" lengthAdjust="spacingAndGlyphs" font-size="8.45">0.030</text>
<line x1="554.5" y1="510.7" x2="557.5" y2="510.7" stroke="#222" stroke-width="0.85"/>
<text x="529.17" y="513.90" textLength="22.40" lengthAdjust="spacingAndGlyphs" font-size="8.45">0.025</text>
<line x1="554.5" y1="529.7" x2="557.5" y2="529.7" stroke="#222" stroke-width="0.85"/>
<text x="529.00" y="532.90" textLength="22.55" lengthAdjust="spacingAndGlyphs" font-size="8.45">0.020</text>
<line x1="589" y1="536.5" x2="589" y2="539.5" stroke="#222" stroke-width="0.85"/>
<text x="579.87" y="548.70" textLength="17.91" lengthAdjust="spacingAndGlyphs" font-size="8.45">ICES</text>
<line x1="652.8" y1="536.5" x2="652.8" y2="539.5" stroke="#222" stroke-width="0.85"/>
<text x="637.88" y="548.70" textLength="29.33" lengthAdjust="spacingAndGlyphs" font-size="8.45">Electric</text>
<text x="595.59" y="559.60" textLength="49.49" lengthAdjust="spacingAndGlyphs" font-size="8.45">Engine Type</text>
<g transform="translate(524.00 470.70) rotate(-90)"><text x="-50.55" y="0.00" textLength="100.69" lengthAdjust="spacingAndGlyphs" font-size="8.45">Frequency of Oscillations</text></g>
<text x="252.6" y="187.4" style="font-family:Liberation Sans,sans-serif;stroke:#000;stroke-width:0.35px" font-weight="bold" font-size="12.6" textLength="14.8" lengthAdjust="spacingAndGlyphs">(a)</text>
<g transform="translate(0.00 0.20)" fill="none" stroke="#111" stroke-linecap="round" stroke-linejoin="round"><path d="M278.9,177.3 C277.3,177.5 275.9,179.0 276.7,181.1" stroke-width="0.75"/><path d="M283.4,181.0 C285.4,179.7 286.4,177.3 284.9,176.9 C283.5,176.5 282.3,178.4 281.3,180.2 L278.8,184.4 C278.1,185.6 277.5,186.2 276.7,186.2" stroke-width="1.0"/><path d="M279.7,182.4 C280.8,180.6 282.0,178.6 283.2,177.4" stroke-width="0.6"/><path d="M272.3,186.5 C273.8,185.5 275.3,185.6 277.0,186.0 C278.7,186.4 280.4,186.5 281.9,185.2" stroke-width="0.8"/></g>
<text x="283.7" y="189.1" style="font-family:Liberation Serif,serif;stroke:none" font-size="9.6">2</text>
<text x="289.4" y="187.0" style="font-family:Liberation Serif,serif;stroke:none" font-size="13.2">-gains for snippet DJI_043</text>
<text x="252.6" y="388.5" style="font-family:Liberation Sans,sans-serif;stroke:#000;stroke-width:0.35px" font-weight="bold" font-size="12.6" textLength="14.8" lengthAdjust="spacingAndGlyphs">(b)</text>
<g transform="translate(0.00 201.30)" fill="none" stroke="#111" stroke-linecap="round" stroke-linejoin="round"><path d="M278.9,177.3 C277.3,177.5 275.9,179.0 276.7,181.1" stroke-width="0.75"/><path d="M283.4,181.0 C285.4,179.7 286.4,177.3 284.9,176.9 C283.5,176.5 282.3,178.4 281.3,180.2 L278.8,184.4 C278.1,185.6 277.5,186.2 276.7,186.2" stroke-width="1.0"/><path d="M279.7,182.4 C280.8,180.6 282.0,178.6 283.2,177.4" stroke-width="0.6"/><path d="M272.3,186.5 C273.8,185.5 275.3,185.6 277.0,186.0 C278.7,186.4 280.4,186.5 281.9,185.2" stroke-width="0.8"/></g>
<text x="283.7" y="390.20000000000005" style="font-family:Liberation Serif,serif;stroke:none" font-size="9.6">2</text>
<text x="289.4" y="388.1" style="font-family:Liberation Serif,serif;stroke:none" font-size="13.2">-gains for snippet DJI_044</text>
<text x="194.0" y="591.0" style="font-family:Liberation Sans,sans-serif;stroke:#000;stroke-width:0.35px" font-weight="bold" font-size="12.6">(c)</text>
<text x="214.0" y="591.0" style="font-family:Liberation Serif,serif;stroke:none" font-size="13.2">Speed standard deviation and DFT for both snippets</text></svg>
</body></html>
